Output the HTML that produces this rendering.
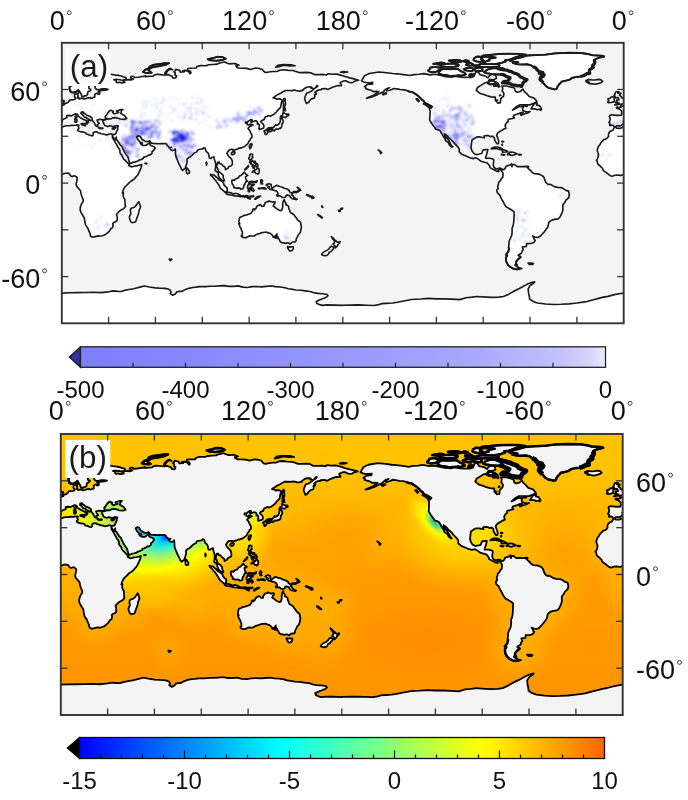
<!DOCTYPE html>
<html><head><meta charset="utf-8"><style>
html,body{margin:0;padding:0;background:#fff;width:688px;height:800px;overflow:hidden}
svg text{font-family:"Liberation Sans",sans-serif;fill:#111;will-change:transform}
</style></head><body>
<svg width="688" height="800" viewBox="0 0 688 800" style="display:block">
<defs><linearGradient id="gbase" gradientUnits="userSpaceOnUse" x1="0" y1="0" x2="0" y2="180"><stop offset="0.000" stop-color="#ffc400"/><stop offset="0.083" stop-color="#ffc400"/><stop offset="0.167" stop-color="#ffc000"/><stop offset="0.250" stop-color="#ffb600"/><stop offset="0.333" stop-color="#ffae00"/><stop offset="0.417" stop-color="#ffa200"/><stop offset="0.500" stop-color="#ff9c00"/><stop offset="0.583" stop-color="#ff9a00"/><stop offset="0.667" stop-color="#ff9b00"/><stop offset="0.750" stop-color="#ff9800"/><stop offset="0.833" stop-color="#ff9600"/><stop offset="1.000" stop-color="#ff9400"/></linearGradient>
<radialGradient id="gsp" gradientUnits="userSpaceOnUse" cx="0" cy="0" r="1" gradientTransform="translate(235.00,132.00) rotate(0) scale(75.00,32.00)"><stop offset="0" stop-color="#ff8c00" stop-opacity="1"/><stop offset="0.5" stop-color="#ff9000" stop-opacity="0.7"/><stop offset="1" stop-color="#ff9400" stop-opacity="0"/></radialGradient>
<radialGradient id="gsa" gradientUnits="userSpaceOnUse" cx="0" cy="0" r="1" gradientTransform="translate(340.00,135.00) rotate(0) scale(40.00,22.00)"><stop offset="0" stop-color="#ff9400" stop-opacity="0.6"/><stop offset="1" stop-color="#ff9800" stop-opacity="0"/></radialGradient>
<radialGradient id="gcp" gradientUnits="userSpaceOnUse" cx="0" cy="0" r="1" gradientTransform="translate(186.00,70.00) rotate(0) scale(36.00,26.00)"><stop offset="0" stop-color="#ff9e00" stop-opacity="0.9"/><stop offset="0.6" stop-color="#ffa200" stop-opacity="0.55"/><stop offset="1" stop-color="#ffa600" stop-opacity="0"/></radialGradient>
<filter id="fglow" x="-10%" y="-10%" width="120%" height="120%"><feGaussianBlur stdDeviation="6"/></filter>
<radialGradient id="ggg1" gradientUnits="userSpaceOnUse" cx="0" cy="0" r="1" gradientTransform="translate(2.00,96.00) rotate(0) scale(18.00,24.00)"><stop offset="0" stop-color="#ffb400" stop-opacity="0.8"/><stop offset="0.6" stop-color="#ffb000" stop-opacity="0.5"/><stop offset="1" stop-color="#ffa800" stop-opacity="0"/></radialGradient>
<radialGradient id="ggg2" gradientUnits="userSpaceOnUse" cx="0" cy="0" r="1" gradientTransform="translate(362.00,96.00) rotate(0) scale(18.00,24.00)"><stop offset="0" stop-color="#ffb400" stop-opacity="0.8"/><stop offset="0.6" stop-color="#ffb000" stop-opacity="0.5"/><stop offset="1" stop-color="#ffa800" stop-opacity="0"/></radialGradient>
<radialGradient id="gam" gradientUnits="userSpaceOnUse" cx="0" cy="0" r="1" gradientTransform="translate(260.00,63.00) rotate(0) scale(60.00,38.00)"><stop offset="0" stop-color="#ffe400" stop-opacity="1"/><stop offset="0.25" stop-color="#ffdc00" stop-opacity="1"/><stop offset="0.5" stop-color="#ffc600" stop-opacity="0.95"/><stop offset="0.65" stop-color="#ffbc00" stop-opacity="0.8"/><stop offset="1" stop-color="#ffb000" stop-opacity="0"/></radialGradient>
<radialGradient id="gca" gradientUnits="userSpaceOnUse" cx="0" cy="0" r="1" gradientTransform="translate(239.70,56.70) rotate(47) scale(27.00,12.50)"><stop offset="0" stop-color="#20c0b0" stop-opacity="1"/><stop offset="0.1" stop-color="#40d098" stop-opacity="1"/><stop offset="0.2" stop-color="#90e860" stop-opacity="1"/><stop offset="0.3" stop-color="#e0f820" stop-opacity="1"/><stop offset="0.4" stop-color="#fff800" stop-opacity="1"/><stop offset="0.55" stop-color="#ffe400" stop-opacity="1"/><stop offset="0.75" stop-color="#ffcc00" stop-opacity="0.8"/><stop offset="1" stop-color="#ffbc00" stop-opacity="0"/></radialGradient>
<radialGradient id="gsi" gradientUnits="userSpaceOnUse" cx="0" cy="0" r="1" gradientTransform="translate(86.00,107.00) rotate(0) scale(32.00,20.00)"><stop offset="0" stop-color="#ffb800" stop-opacity="0.85"/><stop offset="0.6" stop-color="#ffb000" stop-opacity="0.5"/><stop offset="1" stop-color="#ffa800" stop-opacity="0"/></radialGradient>
<radialGradient id="gio" gradientUnits="userSpaceOnUse" cx="0" cy="0" r="1" gradientTransform="translate(68.00,65.80) rotate(-18) scale(74.00,44.00)"><stop offset="0" stop-color="#0030ea" stop-opacity="1"/><stop offset="0.025" stop-color="#0060ff" stop-opacity="1"/><stop offset="0.055" stop-color="#00a8ff" stop-opacity="1"/><stop offset="0.09" stop-color="#00dcf6" stop-opacity="1"/><stop offset="0.15" stop-color="#38eec8" stop-opacity="1"/><stop offset="0.24" stop-color="#88f488" stop-opacity="1"/><stop offset="0.34" stop-color="#ccf834" stop-opacity="1"/><stop offset="0.44" stop-color="#ffff00" stop-opacity="1"/><stop offset="0.54" stop-color="#ffe800" stop-opacity="1"/><stop offset="0.66" stop-color="#ffd200" stop-opacity="1"/><stop offset="0.8" stop-color="#ffc000" stop-opacity="0.75"/><stop offset="1" stop-color="#ffb000" stop-opacity="0"/></radialGradient>
<radialGradient id="gbb" gradientUnits="userSpaceOnUse" cx="0" cy="0" r="1" gradientTransform="translate(89.00,69.00) rotate(0) scale(9.00,6.00)"><stop offset="0" stop-color="#88f080" stop-opacity="0.9"/><stop offset="0.5" stop-color="#a8f060" stop-opacity="0.6"/><stop offset="1" stop-color="#c8f040" stop-opacity="0"/></radialGradient>
<radialGradient id="gea" gradientUnits="userSpaceOnUse" cx="0" cy="0" r="1" gradientTransform="translate(117.00,60.00) rotate(0) scale(20.00,26.00)"><stop offset="0" stop-color="#ffe400" stop-opacity="1"/><stop offset="0.4" stop-color="#ffdc00" stop-opacity="1"/><stop offset="0.7" stop-color="#ffcc00" stop-opacity="0.8"/><stop offset="1" stop-color="#ffbc00" stop-opacity="0"/></radialGradient>
<radialGradient id="gsj" gradientUnits="userSpaceOnUse" cx="0" cy="0" r="1" gradientTransform="translate(134.00,50.00) rotate(0) scale(9.00,8.00)"><stop offset="0" stop-color="#ffcc00" stop-opacity="0.85"/><stop offset="0.6" stop-color="#ffc800" stop-opacity="0.6"/><stop offset="1" stop-color="#ffc000" stop-opacity="0"/></radialGradient>
<radialGradient id="gwi" gradientUnits="userSpaceOnUse" cx="0" cy="0" r="1" gradientTransform="translate(60.00,102.00) rotate(0) scale(26.00,14.00)"><stop offset="0" stop-color="#ffc800" stop-opacity="0.85"/><stop offset="0.6" stop-color="#ffc000" stop-opacity="0.5"/><stop offset="1" stop-color="#ffb800" stop-opacity="0"/></radialGradient>
<radialGradient id="gch" gradientUnits="userSpaceOnUse" cx="0" cy="0" r="1" gradientTransform="translate(120.00,53.00) rotate(0) scale(16.00,11.00)"><stop offset="0" stop-color="#d0f040" stop-opacity="1"/><stop offset="0.35" stop-color="#f0f400" stop-opacity="0.85"/><stop offset="0.7" stop-color="#ffd800" stop-opacity="0.5"/><stop offset="1" stop-color="#ffc800" stop-opacity="0"/></radialGradient>
<linearGradient id="gmed" gradientUnits="userSpaceOnUse" x1="-6" y1="0" x2="42" y2="0"><stop offset="0" stop-color="#ffdc00"/><stop offset="0.3" stop-color="#f4f200"/><stop offset="0.6" stop-color="#d4f230"/><stop offset="0.85" stop-color="#b0ea50"/><stop offset="1" stop-color="#98e460"/></linearGradient>
<filter id="fblur" x="-5%" y="-5%" width="110%" height="110%"><feGaussianBlur stdDeviation="0.6"/></filter><path id="land2" d="M192,24.4 194,21.1 197,19.7 203.2,18.7 208,19.2 212,19.7 215,19.9 219,20.4 223,21 225.5,20.4 229,20.2 232,19.8 236,20.6 239,20.2 243,21 246,21.7 250,22 252,21.4 256,22 259,22.2 262,22.2 264,21.6 265.5,18.2 267,19 268,20.5 271,21.2 273,22.4 274,21.2 275.5,20.2 278,20.8 278.5,22.8 276.5,23.8 274,23.5 273,25.2 270.5,26 269,27 266.5,28.5 265.5,30.5 266.5,31.3 268,32.5 270,33 272.5,34 275,34.7 277.7,34.9 277.8,37 279.5,38.7 281,38.4 281.2,36 283,34.2 283.3,32.5 282.2,31 282.5,29.2 282,27.7 285,27.7 288,28.5 290,29 290.5,31 291.8,31.7 293.8,31.2 295.4,29.7 296.5,31.5 298.2,33 299.5,34.5 302.5,35.5 304,37 304.3,37.8 302.8,38.6 300,39.8 296,39.8 293.5,39.8 291.5,40.8 289.5,42.5 288.8,43.2 290.5,42.4 293,40.9 295.7,41.1 295.2,42.2 295.4,43.5 297,44.2 298.7,44.4 300,44.1 298.5,45 296.5,45.5 294.2,46.5 293.8,45.5 295.5,44.7 294,44.8 292.8,45.4 291,46 289.7,46.4 289.2,47.4 290,48.2 288.5,48.6 286.3,49.1 285.9,49.5 286,50.5 285,51.2 284.2,52.5 284,53.1 284.5,54.8 283.3,55.3 282,56.2 280.8,56.8 279.3,57.8 278.6,59.3 279.4,61.5 280,63.5 279.6,64.8 278.8,64.8 278.2,63.9 277.3,62.4 277.2,61 276,59.9 274.5,60.3 273.5,59.6 272,59.5 270.5,59.8 270.8,60.9 269.5,60.8 268,60.4 266,60.4 264.5,61.2 262.8,62.4 262.5,64.2 262.2,67.5 262.7,69.1 263.8,70.8 265.5,71.8 267.5,71.4 269,71 269.6,69.5 270,68.7 273,68.5 272.5,70.4 272.2,71.7 271.7,72.8 271.5,74.1 274,74.1 276,74.5 276.8,75.2 276.4,78.3 276.8,79.8 278.3,81 280.5,80.4 281.8,80.8 282.7,81.5 283.2,81.4 284.2,80.4 284.5,79.4 285.7,78.9 287,78.5 288,77.7 288.8,78.4 288.4,79.5 288.1,78.6 289.8,78 290.5,78.5 291.8,79.5 294,79.4 295.8,79.5 297.5,79.3 298.2,79.8 299,80.9 300,81.6 301.2,83 302.7,84 305,84.1 306.5,84.6 308,85.4 308.8,86.2 309.5,88 310,89.5 311.5,90.9 313,90.8 315.5,92.3 317.5,92.8 320,92.9 321.5,93.7 323,94.7 324.7,95.2 325.2,97.5 324.8,99.3 323,101 322,102.8 321,104 321,107.5 320.3,109.5 319.2,111.8 318,113 315.5,113.3 313.5,114 312,115.3 311.4,118.2 310.2,119.8 309,121.5 307.5,123 306.5,124.2 305,124.9 303.2,124.6 301.6,124 302.5,125.2 302.7,126.3 303.3,126.7 302.4,128.2 300.5,128.8 297.8,128.9 297.7,130.6 295,131 295.7,132.6 295,133.5 294.5,135 292.5,136.2 294,137.5 292.2,139 291.1,140.5 291,141.7 291.6,142.4 290.5,142.6 291.5,143.3 292.5,144.3 294.8,144.8 293.5,145.1 291.5,145.4 289.5,145 287.5,144 285.8,142.5 284.8,140.5 284.5,138 285.4,136.5 284.5,136 286,134.2 286.6,132 286.2,131.5 286.5,129.5 286.5,127.5 287.4,125.5 288.3,123.5 288.5,121.5 288.5,119 289.1,117.5 289.5,115.5 289.6,113.5 289.8,110.5 289.7,108.4 288.5,107.5 286.8,106.5 284.8,105.3 283.7,103.8 282.8,102 281.8,100.3 280.6,97.7 279,96.2 278.7,94.5 279.7,93.4 279.2,92.2 279.7,91 280,89.4 281.1,88.5 281.4,87.5 282.5,86.2 282.7,83.7 282.1,82.8 281.5,81.8 280.5,81.1 279.6,81.8 280,82.5 278.8,82.5 277.5,81.8 276.3,81.2 274.3,80.1 274.1,78.9 272.6,77.1 270.8,76.6 268.6,76 267,74.8 265.4,73.8 263.5,74.3 261.5,73.8 259,72.7 256.5,71.7 254.6,70 254.7,68.4 254.2,67.3 252.7,65.7 251.4,64.5 250.6,63.4 249.4,62.2 248.2,61.2 247.2,59.9 245.3,58.4 245.4,59.8 246.8,61.2 247.9,62.7 249,64.7 249.6,65.9 250.5,66.8 249.8,66.9 248.3,65.5 247.8,64.2 246.5,63.3 245.6,62.5 245.8,61.8 244.7,60.5 243.9,59.1 242.9,57.5 242.5,56.6 241.5,56 240.5,55.6 239.4,55.4 239.1,54.5 238.1,53.4 237.5,52.4 237,51.8 236.2,50.5 235.7,49.6 235.8,48 235.9,46 236,43.8 235.3,41.6 236.5,41.8 237.2,41 235.5,40 234,39.2 232.5,38.5 232,37.5 230.5,36.3 229.5,35.2 228.2,34 226.5,32.8 224.5,31.5 223,31.4 221.5,30.8 219.5,30.2 217,30 214.5,29.6 212.5,29.3 211.5,30 210,30.4 208.3,30.8 208.5,29.3 210,28.8 207.7,29.7 206.5,30.7 206,31.5 204,32.3 201.8,33.5 199.5,34.4 197.5,35.1 195.2,35.6 196.5,34.9 198.5,34.1 200,33.5 201.8,32.3 203,31.3 201.5,31.2 199.5,31.3 198,30.4 196.2,29.9 194.7,29.4 194.8,28.5 193.9,28.1 195.1,27.3 195.6,26.8 197.7,26.5 199,26.5 199.2,25.4 197.2,25.6 195,25.5 193.5,25.2 192,24.4Z M287,11.6 290,10.3 294,9.4 298,8.2 304,7.8 310,7.6 316,6.8 325,6.4 333,6.6 338,7.4 340,8 346,8.3 347.5,8.8 343.5,9.8 341,11 341.5,12.5 341,13.6 340,14.7 340.5,15.8 338.2,17.2 338,18.5 338.2,19.6 336.5,19.8 334.5,21 332.3,21.6 329,22 327,22.5 325.4,23.6 322.7,24.4 320.4,24.8 319.5,25.8 318.5,26.8 317.6,28.2 317,29.6 315.5,29.9 314,29.4 312.2,29.1 310.7,28.2 309.5,27 308.5,25.8 307.5,24.5 306.4,23.4 306.7,22.2 308.5,21.4 309,20.5 307.5,20.3 306,19.5 308.2,19.1 305.8,18.5 304.5,17.3 303.8,16.2 302,15.4 300.5,14.4 298,13.8 295,13.9 292,13.8 289,13 292.5,12.5 288.5,12 287,11.6Z M295.2,26.8 294.5,28 293.2,27.4 292,27.7 290.5,27.1 288.7,27.1 287.5,26.4 286,25.8 284,25.7 282.3,25.7 283.5,24.7 285.5,24.6 286.5,23.6 287.2,22.5 286,22 285,21.6 283.5,20.8 283,20.4 281,20.2 279.5,20.4 278,20.2 275.2,20 273.5,19.7 272,19.5 270.5,18.8 271.5,18.2 272,17.6 274,16.7 276,16.4 278,16.2 280,16.4 282,17.2 283.5,17.4 285,17.5 286.5,18.2 288,18.5 289.2,19.2 290.5,19.6 291.7,20 292.5,20.4 293.5,21.7 295.2,22.4 296.5,23.2 298,23.6 297.2,24.4 296.3,25 295.5,25.7 295.2,26.8Z M279,16.8 282,16.2 283.5,16.7 281.5,17.4 279,16.8Z M297.5,7.7 295.5,8.1 294,8.3 291.5,9 290,9.6 288.5,10.2 287,10.7 285,11 284,11.2 284.5,12 283,12.4 281.5,13 280,13.2 278.5,13.5 277,13.7 275,13.6 273,13.7 271,13.5 270,12.8 271.5,12.2 272,11.8 274,11.4 273.5,10.7 275,10 278,9.5 276,9 272,9 269,8.8 270,8.2 274,7.8 280,7.2 286,7 293,7.1 297.5,7.7Z M270.5,11.5 268.5,12.2 266,12 263.8,11.2 264,10 266,8.8 268.5,9 269.5,9.8 268.5,10.5 270.5,11.5Z M279.5,15.4 277,15.5 275,15.5 272,15.5 268.5,15.4 267.5,14.8 267,14.2 268,13.7 270,13.5 272,13.7 275,13.6 277.5,13.8 279.5,13.8 280.5,14.7 279.5,15.4Z M264,15.2 267,15.4 266.8,14.5 264.5,14.4 264,15.2Z M241.5,18.8 242.5,18 242.8,17.3 244.5,16.9 246.5,16.8 249,17 252,16.7 254,17 255,17.7 255.5,18.2 257,18.8 258,19.2 258.8,20.2 257.5,20.7 256,21.1 254.5,20.8 253,21 251,21.2 249,21.4 247,20.9 245.5,20.7 244,20.5 242.8,20.2 241.4,19.5 241.5,18.8Z M234.8,18.1 235,17.4 235.8,16.8 236.2,15.9 238,15.6 239.5,15.6 241,15.8 242.5,16 244,16.4 244.5,16.7 243,17.1 241.5,17.5 240.5,18.3 239.6,18.6 238.5,18.7 237,18.9 234.8,18.1Z M238,13.5 243,12.6 245,13 242,14 238,13.5Z M243.5,15.1 242.2,14.5 243.5,13.8 246,13.5 249.5,13.3 252,13.4 254,13.9 254.3,14.5 253.7,15 251.5,15.3 249,15.5 246,15.4 243.5,15.1Z M263,18.2 261,18.1 258.5,17.6 257.5,17 258.5,16.5 259.5,16.1 261.5,16.1 263,16.2 263.5,17.2 263,18.2Z M269.5,18 267,18.1 265,18 264.7,17.2 265,16.4 267,16 268.5,16 269.5,16.5 269.5,17 269.5,18Z M263,14.5 261,14.7 259,14.2 259.5,13.5 262,13 263.5,13.8 263,14.5Z M256,12.2 253,12.5 250,12.2 248,11.4 251,11.1 254,11 256,11.6Z M261,12.2 259,12.4 257,11.8 258.5,11.2 260.5,11.5Z M279.5,26.2 278,26.6 276,26.4 274.5,26.7 273,26 273.5,25.2 274,24.5 276,24.1 277,24.8 278,25.2 279.5,26.2Z M277,27.8 279,27.5 280,27.1 278,27.1Z M264,21 262.5,21.4 261,21 261.5,20.1 263,20.1 264,20.3 264,21Z M279.8,28.4 280.5,28.1 280.1,27.7Z M280.5,34 281.2,33.7 280.8,33.4Z M278,37.1 279.2,36.9 278.5,36.7Z M300.6,42.4 301.6,40.8 302.6,39.3 304.5,38.4 304.3,40 306.2,40.5 307,41.7 307.4,42.5 306.8,43.3 306,42.6 304.5,43 303.5,42.4 300.6,42.4Z M295.5,40.1 298.2,40.6 298,40.9 295.8,40.4Z M231.7,39.2 233,39.8 234.5,41 236.6,41.7 235.5,40.5 234,39.7 231.7,39.2Z M228,36 227,36 228.5,37.8 229,37.2 228,36Z M207.5,32 205.5,33 206,33.4 208,32.5Z M275.1,68.1 276,67.3 277.5,66.9 279.5,66.9 281,67.5 282.5,68.3 284,68.9 285.8,69.8 285,70.1 282.3,70.2 282.5,69.4 281.5,68.6 279.5,68.2 278.2,67.8 276.5,67.9 275.1,68.1Z M285.5,71.6 287.2,70.1 289.2,70.2 290.8,70.9 291.7,71.4 290,71.8 288.5,72.3 287.2,71.8 285.6,71.8 285.5,71.6Z M281.6,71.6 283.8,71.9 283.2,72.1 281.7,71.8Z M292.8,71.5 294.4,71.7 294.1,72 292.8,72Z M335.7,24.4 337.5,23.6 340,23.9 342,23.8 344,23.5 345.5,23.8 346.5,24.8 345.5,25.6 343.5,26.2 341.5,26.6 339,26.2 337.3,26.1 338,25.5 336,25.1 337.6,24.8 335.7,24.4Z M11,11.4 11.5,10.2 16,10 18,10.2 21,9.8 27,9.7 27.2,10.7 22,11.8 19,12.5 16.5,13.4 14,12.8 13.5,12 11,11.4Z M52,18.7 53.5,17.3 55.5,16.4 56.5,15 59,14.1 62,13.7 66,13.1 68.7,13.1 66.5,14.1 62,15 58.5,15.6 56.2,16.7 55.5,17.7 57.5,19.2 55.5,19.4 53.5,19.2 52,18.7Z M93.5,10.5 97,9.8 99.5,9 103,9.2 105,10.2 103,11 99,11.5 95,11.2 93.5,10.5Z M137,15.7 140,15.1 142.5,14.4 146,14.8 149.5,14.7 147,14.1 142,14 138.5,14.4 137,15.7Z M178.5,18.9 180.5,18.4 183.2,18.7 181,19.1 178.5,18.9Z M-5.7,39.9 -4,39.7 -2.5,39.4 -1,39.3 0.5,39.2 1.4,38.8 0.8,38.4 1.7,37.5 1.3,37.1 0.3,37 0.1,36.4 -0.5,35.6 -1.2,35.4 -1.6,34.5 -2.2,34 -2.8,33.6 -1.8,32.5 -2.2,32.3 -3.8,32.3 -3.1,31.4 -5,31.4 -5.5,32.5 -5.7,33.5 -6.2,33.8 -5.5,34.5 -5.1,35 -4.9,35.3 -3.5,35.1 -3.2,35.8 -3,36.6 -4.6,36.7 -4.1,37.4 -4.5,37.9 -5.2,38.2 -4,38.4 -3.1,38.5 -3.3,38.8 -4.5,38.8 -5.7,39.9Z M354.3,39.9 356,39.7 357.5,39.4 359,39.3 360.5,39.2 361.4,38.8 360.8,38.4 361.7,37.5 361.3,37.1 360.3,37 360.1,36.4 359.5,35.6 358.8,35.4 358.4,34.5 357.8,34 357.2,33.6 358.2,32.5 357.8,32.3 356.2,32.3 356.9,31.4 355,31.4 354.5,32.5 354.3,33.5 353.8,33.8 354.5,34.5 354.9,35 355.1,35.3 356.5,35.1 356.8,35.8 357,36.6 355.4,36.7 355.9,37.4 355.5,37.9 354.8,38.2 356,38.4 356.9,38.5 356.7,38.8 355.5,38.8 354.3,39.9Z M354,37.8 353.9,36.6 353.8,36 354.4,35.4 353.8,34.8 352.7,34.7 351.7,34.9 351.4,35.7 350,35.8 350,36.7 350.5,37.4 349.7,38.1 350.5,38.5 351.7,38.3 353.6,37.9 354,37.8Z M-5.6,54 -4.4,53.3 -2.1,53.3 -0.7,52.4 0.2,51.2 -0.3,50.5 0.9,49 3.2,48.1 3.1,46.9 4.5,46.6 6,46.9 7.5,46.2 8.8,45.6 10.2,46.1 10.6,47.1 12.3,48.3 14,49.2 15.6,49.9 16,51 15.7,51.8 16.1,52 16.6,51.6 17.1,51 16.5,50.3 17.2,49.5 18.5,49.9 17.8,49.2 16,48.6 15.9,48 14.5,47.7 13.6,46.5 12.3,45.5 12.4,44.6 13.7,44.3 13.6,45 14.1,45.1 15.2,45.7 16,46.5 17.5,47 18.5,47.6 19.4,48.2 19.4,49.6 20,50.3 20.7,51.1 21.2,52.1 21.7,53.2 22.5,53.6 23.1,53.5 22.8,52.5 23.5,52 24,51.8 22.9,50.6 22.6,49.5 23.8,49.3 24.5,49.1 26,49.2 26.3,49.5 27.5,49 28.5,48.5 28,48.1 27.8,47.2 28.6,46.3 29.6,44.8 30.7,43.6 31.6,43.3 33,44 32.5,44.6 33.5,45.5 34.5,45.4 35.5,45 36.5,44.7 35,43.8 37.5,42.9 39.2,42.8 38.2,43.7 37.8,45.3 39,46 40.3,46.8 41.6,48.5 40,49.1 37.5,48.9 35.5,48.2 34,48 32.5,48.2 31.3,48.9 29.2,48.8 29,49.1 27.5,49.6 26.3,49.9 26.2,50.6 26.8,51.5 27.2,52.5 27.5,53 28.2,53.3 29.5,53.8 30.6,53.2 31.8,53.5 33,53.9 34.5,53.2 35.8,53.2 36.2,53.5 35.8,54.2 35.9,55 35.5,56.2 35,57.2 34.5,58.5 33,58.9 32.3,58.8 32.5,60 32.6,60.1 33.5,61.4 34.3,62.2 34.5,61.5 34.9,60.5 34.8,61.9 35.5,62.5 36.5,64 37.5,65.7 38.5,66.5 39.1,68 40,69.8 41.2,71.8 42.5,73.5 42.8,75 43.3,76.5 43.5,77.3 44.5,77.3 45.5,76.7 47,76.4 48.5,76 49.5,75.3 51,74.8 52.2,74.3 52.3,73.5 53.5,73.2 55,72.5 55.5,72 56.5,72 57.8,71 57.8,69.8 58.5,69.5 59.5,68.2 59.8,67.5 58.8,66.5 57.3,66.1 56.4,65.2 56.3,63.8 55.9,64.4 55,65 54.3,65.7 53,65.9 51.6,65.8 51.4,65.4 51.6,64.7 51.3,63.9 50.9,64.6 50.8,65.2 50.2,64.3 50.1,63.5 49.3,62.8 48.8,62.2 48.5,61.5 47.9,60.5 48.3,60.1 49,59.7 50.2,60 50.6,60.8 51.5,62.1 52.7,62.7 53.7,63.3 55,63.4 56.3,62.9 57.1,64 57.5,64.4 59,64.6 60.6,64.7 61.6,64.8 63.5,64.7 65,64.7 66.5,64.6 67.3,65.2 67.5,66.1 68.5,66.5 68.8,67.5 69.5,67.6 70.3,67 69.2,67.7 69.7,68.5 70.8,69.2 72.1,68.7 72.6,68.1 72.8,69.5 72.8,71 73,72.5 73.5,74 74.1,75.4 74.8,77.2 75.5,78.5 76.2,80 76.6,81 77.5,81.9 78.2,81.1 79,80.7 79.3,79.7 79.8,78.5 80.2,76.8 80.3,74.5 81.2,73.7 82.3,73.2 83.5,72.2 84.8,70.8 86.5,70 87,68.9 88,68.4 89,68.3 90.3,68.1 91,67.4 91.8,67.6 92.2,68.8 92.5,69.8 93.5,70.5 94.2,71.8 94.4,73.5 94.8,74.1 95.5,74.2 96.5,73.4 97.5,73.2 97.7,74.5 98,75.5 98.6,77.5 98.6,79.5 98.3,81.5 98.3,82.1 99,82.4 100.2,83.7 100.3,85 101,86.5 101.4,87.2 102.5,88.1 103.5,88.7 104.2,88.5 103.8,87.5 103.4,86.5 103.4,85.2 102.2,83.8 101,83.1 100.4,82.5 99.9,80.8 99.2,79.7 99.5,78 100,76.6 100.9,76.6 100.9,77.4 102.3,77.8 102.9,78.4 103.4,79.2 104.4,79.6 104.8,80.4 104.8,81.4 105.3,81.2 106.5,80.5 106.9,79.6 108.5,78.9 109.2,78.2 109.3,77 109.1,75.4 108.3,74.1 107.5,73.4 106.5,72.2 105.8,71 106.5,69.7 107.5,68.6 108.5,68.4 109.7,68.5 109.8,69.5 110.4,69.7 110.5,68.8 111.5,68.4 112.8,68.1 113.6,67.5 114.3,67.6 115.5,67.2 116.6,66.8 117.5,66.2 118.5,65.4 119.4,64.5 119.7,63.4 120.5,62.5 121,61.5 121.9,60.6 121.8,59.1 121.2,58.2 120.9,57.4 120.3,56.1 119.3,55 120.1,54 120.7,53.6 121.6,53.2 122.5,52.7 121.5,52.5 120.8,52.2 119.7,52.8 118.9,52.6 118.8,51.9 117.7,51.5 117.7,50.8 118.9,50.9 119.8,50.1 121,49.3 121.8,49.2 121.9,49.8 121.2,50.5 121.3,51.2 122.3,50.6 123.5,50.2 124.3,50.1 125.2,50.5 125.4,51.4 125.3,52.3 126.3,52.2 126.6,53 126.5,54 126.3,55 126.5,55.6 127.5,55.3 128.5,55 129.3,54.7 129.5,53.6 129.4,52.9 128.6,51.8 127.5,50.7 127.9,50 129.7,49.2 129.8,48.5 130.6,47.5 131.3,47.3 132.3,46.7 133.5,47.1 135.3,46.2 137.3,44.6 138.6,42.9 140.2,41.4 140.5,39.6 140.7,38.2 141.3,37.2 141,36.6 139.5,35.9 137.5,36.2 137.2,35.7 135.3,35.3 137.1,34.1 138.5,33.1 140.5,32.2 141.8,31.4 143.3,30.6 145.5,30.6 147.5,30.7 149,30.3 151.2,30.9 152.5,31 154.5,30.6 154.2,30.2 156.8,28.5 159.3,28.2 160.2,28.6 159.8,29.2 161.8,29.4 163.5,28.3 164,27.5 163.2,27.6 162.9,28.4 160.5,30.6 158.5,31.8 157,32.2 156.6,33 155.9,34.5 155.6,36 156.1,37.3 156.7,39 158.2,38.2 158.6,37.2 160,36 161.8,35.4 162.1,34.2 161.8,33.3 162.9,33.1 163.1,32.4 162.1,31.8 163.7,30.6 164.9,30.1 166.3,30.1 166.5,29.5 169,29.4 170.5,30 172.2,29.1 173.8,28.4 175,28 176.8,27.4 179,27.6 179.2,27 178.3,25.8 178.5,25.4 179.8,24.8 180.5,24.5 182.2,24.4 183.5,25.2 185,25.6 186.5,25.4 187.5,24.7 188.5,24.4 190.2,24 188.5,23.5 186.5,23 184.5,22.5 182,21.8 180,21.1 178,20.6 176,20.1 173.5,20.2 170.5,19.9 169.5,20.7 167.5,20.3 165,20.4 162,20.4 160.8,19.9 159.5,19.2 157,19 154,19.1 152,19.1 150,18.4 148,17.8 145,17.7 142,17.3 139.5,17.6 138,18.4 136,18.4 133.5,18.6 131,19.1 130,18.8 129,17.8 128.5,17.1 126.5,16.5 124,16.2 121,17.1 118.5,16.4 115,16.3 113,16.2 112,15.5 111.5,14.8 113.5,14.4 111,13.3 107.5,13.5 106,13.1 104.4,12.3 101,13 99.5,13.7 97,13.9 94,14.1 92.5,14.7 89,14.6 86.5,15.3 86.2,16.2 82.5,16.3 80.8,16.5 80.5,17.8 82.2,18.1 82.8,19.2 82.2,19.8 81,18.2 78.8,17.7 77.5,17.9 78.5,18.6 76,18.8 75.5,17.7 73,17 72.9,17.7 71.8,18.6 72.7,19.3 72.5,20.5 73.5,21.3 73.2,22.3 72.2,22.7 71,22.4 70.7,21.4 69,20.8 68,20.4 67.2,20.6 66.8,19.5 67.3,18.7 68.5,17.3 69.5,16.9 71,17.2 69.5,16.4 68.5,16.7 67,18 66,19.5 66.5,20.7 64.5,20.6 61,20.2 59.3,20.7 58.5,21.4 56.5,21.5 54.5,21.7 53.5,21.1 53.8,21.7 52.5,21.5 49,22.1 46.8,22.3 45.8,21.5 44.3,21.7 44.1,22.8 45.9,23.3 44.1,23.9 42.3,23.6 40.9,23.8 39.5,24.6 40.4,25.4 37.9,25.7 36.9,25.3 35.6,25.6 34.8,25.1 34.8,24.1 33.3,23.7 34.5,23.4 37.2,23.7 38.6,24 41,23.6 41.2,22.8 40.9,22.2 39.4,21.9 38,21.3 36,20.9 33.5,20.6 31.5,20.2 30.6,20.2 29,20 27.5,19.1 25.8,18.9 24,19.1 22,19.4 20,20 18,20.2 16.5,21.1 15.5,21.6 14.5,22.2 13.4,23.1 12.8,24 12.2,24.8 11.2,25.5 10.1,26.2 8.7,26.6 7.2,27.1 5.8,27.6 5,28.2 5,29 5,30 5.5,30.7 5.6,31.4 6.8,31.9 8,31.9 9.4,31.2 10.3,30.8 10.6,30.2 11,31 11.2,31.5 11.8,31.9 12.3,32.6 12.6,33.4 12.9,34.4 14.2,34.6 14.4,34 15.8,33.9 16.5,33.2 16.6,32.2 16.8,31.4 17.8,31 18.5,30.5 18.6,29.9 17.4,29.4 17.3,28.4 17.6,27.5 18.7,26.7 20.2,26.2 21.2,25.6 21.4,24.8 22.3,24.2 23.8,24.2 25.3,24.7 25.4,25.2 24.5,25.6 23,26.2 21.5,26.8 21.2,27.7 21.4,28.7 21.5,29.3 22.8,30.1 24.4,29.9 26,29.6 27.8,29.5 29.6,29.9 28,30.4 26.3,30.5 24,30.7 23.4,31 23.5,31.7 24.4,31.8 24.3,32.7 23.8,33 23,32.8 22.5,32.3 21.6,32.7 21.05,33.4 21.1,34.2 21.2,34.8 20.1,35.1 19.6,35.5 18.6,35.6 18.4,35.2 17,35.3 15.5,35.8 14.2,36.1 13.2,35.7 12.4,35.6 11.1,36 10.8,35.7 10.9,35.3 9.9,35.2 10.4,34.5 10.5,33.8 10.2,33.4 10.5,32.5 10.6,32.25 9.6,32.8 8.6,32.9 8.2,33.3 8.1,34.4 8.6,35.1 8.9,35.8 8.7,36.1 8,36.4 7,36.6 6,36.6 5,36.8 4.7,37.4 4.2,38 3.5,38.5 2.5,38.9 1.6,39.1 1.6,39.8 0.3,40.3 -0.2,40.7 -1.2,40.6 -1.3,40.3 -1.9,40.3 -1.6,41.2 -2.8,41.5 -4.3,41.3 -4.7,41.6 -4.3,42.1 -3.4,42.3 -2.5,42.7 -2,43.2 -1.2,43.8 -1.3,44.6 -1.2,45.4 -1.5,46.5 -3,46.6 -4.5,46.6 -6,46.4 -7.7,46.2 -8.9,46.7 -9.2,47.2 -8.8,48 -8.7,49.2 -9,50.4 -9.5,51.2 -8.8,51.6 -8.8,52.1 -8.9,53 -7.5,52.8 -6.4,53.2 -6.2,53.6 -5.6,54Z M354.4,54 355.6,53.3 357.9,53.3 359.3,52.4 360.2,51.2 359.7,50.5 360.9,49 363.2,48.1 363.1,46.9 364.5,46.6 366,46.9 367.5,46.2 368.8,45.6 370.2,46.1 370.6,47.1 372.3,48.3 374,49.2 375.6,49.9 376,51 375.7,51.8 376.1,52 376.6,51.6 377.1,51 376.5,50.3 377.2,49.5 378.5,49.9 377.8,49.2 376,48.6 375.9,48 374.5,47.7 373.6,46.5 372.3,45.5 372.4,44.6 373.7,44.3 373.6,45 374.1,45.1 375.2,45.7 376,46.5 377.5,47 378.5,47.6 379.4,48.2 379.4,49.6 380,50.3 380.7,51.1 381.2,52.1 381.7,53.2 382.5,53.6 383.1,53.5 382.8,52.5 383.5,52 384,51.8 382.9,50.6 382.6,49.5 383.8,49.3 384.5,49.1 386,49.2 386.3,49.5 387.5,49 388.5,48.5 388,48.1 387.8,47.2 388.6,46.3 389.6,44.8 390.7,43.6 391.6,43.3 393,44 392.5,44.6 393.5,45.5 394.5,45.4 395.5,45 396.5,44.7 395,43.8 397.5,42.9 399.2,42.8 398.2,43.7 397.8,45.3 399,46 400.3,46.8 401.6,48.5 400,49.1 397.5,48.9 395.5,48.2 394,48 392.5,48.2 391.3,48.9 389.2,48.8 389,49.1 387.5,49.6 386.3,49.9 386.2,50.6 386.8,51.5 387.2,52.5 387.5,53 388.2,53.3 389.5,53.8 390.6,53.2 391.8,53.5 393,53.9 394.5,53.2 395.8,53.2 396.2,53.5 395.8,54.2 395.9,55 395.5,56.2 395,57.2 394.5,58.5 393,58.9 392.3,58.8 392.5,60 392.6,60.1 393.5,61.4 394.3,62.2 394.5,61.5 394.9,60.5 394.8,61.9 395.5,62.5 396.5,64 397.5,65.7 398.5,66.5 399.1,68 400,69.8 401.2,71.8 402.5,73.5 402.8,75 403.3,76.5 403.5,77.3 404.5,77.3 405.5,76.7 407,76.4 408.5,76 409.5,75.3 411,74.8 412.2,74.3 412.3,73.5 413.5,73.2 415,72.5 415.5,72 416.5,72 417.8,71 417.8,69.8 418.5,69.5 419.5,68.2 419.8,67.5 418.8,66.5 417.3,66.1 416.4,65.2 416.3,63.8 415.9,64.4 415,65 414.3,65.7 413,65.9 411.6,65.8 411.4,65.4 411.6,64.7 411.3,63.9 410.9,64.6 410.8,65.2 410.2,64.3 410.1,63.5 409.3,62.8 408.8,62.2 408.5,61.5 407.9,60.5 408.3,60.1 409,59.7 410.2,60 410.6,60.8 411.5,62.1 412.7,62.7 413.7,63.3 415,63.4 416.3,62.9 417.1,64 417.5,64.4 419,64.6 420.6,64.7 421.6,64.8 423.5,64.7 425,64.7 426.5,64.6 427.3,65.2 427.5,66.1 428.5,66.5 428.8,67.5 429.5,67.6 430.3,67 429.2,67.7 429.7,68.5 430.8,69.2 432.1,68.7 432.6,68.1 432.8,69.5 432.8,71 433,72.5 433.5,74 434.1,75.4 434.8,77.2 435.5,78.5 436.2,80 436.6,81 437.5,81.9 438.2,81.1 439,80.7 439.3,79.7 439.8,78.5 440.2,76.8 440.3,74.5 441.2,73.7 442.3,73.2 443.5,72.2 444.8,70.8 446.5,70 447,68.9 448,68.4 449,68.3 450.3,68.1 451,67.4 451.8,67.6 452.2,68.8 452.5,69.8 453.5,70.5 454.2,71.8 454.4,73.5 454.8,74.1 455.5,74.2 456.5,73.4 457.5,73.2 457.7,74.5 458,75.5 458.6,77.5 458.6,79.5 458.3,81.5 458.3,82.1 459,82.4 460.2,83.7 460.3,85 461,86.5 461.4,87.2 462.5,88.1 463.5,88.7 464.2,88.5 463.8,87.5 463.4,86.5 463.4,85.2 462.2,83.8 461,83.1 460.4,82.5 459.9,80.8 459.2,79.7 459.5,78 460,76.6 460.9,76.6 460.9,77.4 462.3,77.8 462.9,78.4 463.4,79.2 464.4,79.6 464.8,80.4 464.8,81.4 465.3,81.2 466.5,80.5 466.9,79.6 468.5,78.9 469.2,78.2 469.3,77 469.1,75.4 468.3,74.1 467.5,73.4 466.5,72.2 465.8,71 466.5,69.7 467.5,68.6 468.5,68.4 469.7,68.5 469.8,69.5 470.4,69.7 470.5,68.8 471.5,68.4 472.8,68.1 473.6,67.5 474.3,67.6 475.5,67.2 476.6,66.8 477.5,66.2 478.5,65.4 479.4,64.5 479.7,63.4 480.5,62.5 481,61.5 481.9,60.6 481.8,59.1 481.2,58.2 480.9,57.4 480.3,56.1 479.3,55 480.1,54 480.7,53.6 481.6,53.2 482.5,52.7 481.5,52.5 480.8,52.2 479.7,52.8 478.9,52.6 478.8,51.9 477.7,51.5 477.7,50.8 478.9,50.9 479.8,50.1 481,49.3 481.8,49.2 481.9,49.8 481.2,50.5 481.3,51.2 482.3,50.6 483.5,50.2 484.3,50.1 485.2,50.5 485.4,51.4 485.3,52.3 486.3,52.2 486.6,53 486.5,54 486.3,55 486.5,55.6 487.5,55.3 488.5,55 489.3,54.7 489.5,53.6 489.4,52.9 488.6,51.8 487.5,50.7 487.9,50 489.7,49.2 489.8,48.5 490.6,47.5 491.3,47.3 492.3,46.7 493.5,47.1 495.3,46.2 497.3,44.6 498.6,42.9 500.2,41.4 500.5,39.6 500.7,38.2 501.3,37.2 501,36.6 499.5,35.9 497.5,36.2 497.2,35.7 495.3,35.3 497.1,34.1 498.5,33.1 500.5,32.2 501.8,31.4 503.3,30.6 505.5,30.6 507.5,30.7 509,30.3 511.2,30.9 512.5,31 514.5,30.6 514.2,30.2 516.8,28.5 519.3,28.2 520.2,28.6 519.8,29.2 521.8,29.4 523.5,28.3 524,27.5 523.2,27.6 522.9,28.4 520.5,30.6 518.5,31.8 517,32.2 516.6,33 515.9,34.5 515.6,36 516.1,37.3 516.7,39 518.2,38.2 518.6,37.2 520,36 521.8,35.4 522.1,34.2 521.8,33.3 522.9,33.1 523.1,32.4 522.1,31.8 523.7,30.6 524.9,30.1 526.3,30.1 526.5,29.5 529,29.4 530.5,30 532.2,29.1 533.8,28.4 535,28 536.8,27.4 539,27.6 539.2,27 538.3,25.8 538.5,25.4 539.8,24.8 540.5,24.5 542.2,24.4 543.5,25.2 545,25.6 546.5,25.4 547.5,24.7 548.5,24.4 550.2,24 548.5,23.5 546.5,23 544.5,22.5 542,21.8 540,21.1 538,20.6 536,20.1 533.5,20.2 530.5,19.9 529.5,20.7 527.5,20.3 525,20.4 522,20.4 520.8,19.9 519.5,19.2 517,19 514,19.1 512,19.1 510,18.4 508,17.8 505,17.7 502,17.3 499.5,17.6 498,18.4 496,18.4 493.5,18.6 491,19.1 490,18.8 489,17.8 488.5,17.1 486.5,16.5 484,16.2 481,17.1 478.5,16.4 475,16.3 473,16.2 472,15.5 471.5,14.8 473.5,14.4 471,13.3 467.5,13.5 466,13.1 464.4,12.3 461,13 459.5,13.7 457,13.9 454,14.1 452.5,14.7 449,14.6 446.5,15.3 446.2,16.2 442.5,16.3 440.8,16.5 440.5,17.8 442.2,18.1 442.8,19.2 442.2,19.8 441,18.2 438.8,17.7 437.5,17.9 438.5,18.6 436,18.8 435.5,17.7 433,17 432.9,17.7 431.8,18.6 432.7,19.3 432.5,20.5 433.5,21.3 433.2,22.3 432.2,22.7 431,22.4 430.7,21.4 429,20.8 428,20.4 427.2,20.6 426.8,19.5 427.3,18.7 428.5,17.3 429.5,16.9 431,17.2 429.5,16.4 428.5,16.7 427,18 426,19.5 426.5,20.7 424.5,20.6 421,20.2 419.3,20.7 418.5,21.4 416.5,21.5 414.5,21.7 413.5,21.1 413.8,21.7 412.5,21.5 409,22.1 406.8,22.3 405.8,21.5 404.3,21.7 404.1,22.8 405.9,23.3 404.1,23.9 402.3,23.6 400.9,23.8 399.5,24.6 400.4,25.4 397.9,25.7 396.9,25.3 395.6,25.6 394.8,25.1 394.8,24.1 393.3,23.7 394.5,23.4 397.2,23.7 398.6,24 401,23.6 401.2,22.8 400.9,22.2 399.4,21.9 398,21.3 396,20.9 393.5,20.6 391.5,20.2 390.6,20.2 389,20 387.5,19.1 385.8,18.9 384,19.1 382,19.4 380,20 378,20.2 376.5,21.1 375.5,21.6 374.5,22.2 373.4,23.1 372.8,24 372.2,24.8 371.2,25.5 370.1,26.2 368.7,26.6 367.2,27.1 365.8,27.6 365,28.2 365,29 365,30 365.5,30.7 365.6,31.4 366.8,31.9 368,31.9 369.4,31.2 370.3,30.8 370.6,30.2 371,31 371.2,31.5 371.8,31.9 372.3,32.6 372.6,33.4 372.9,34.4 374.2,34.6 374.4,34 375.8,33.9 376.5,33.2 376.6,32.2 376.8,31.4 377.8,31 378.5,30.5 378.6,29.9 377.4,29.4 377.3,28.4 377.6,27.5 378.7,26.7 380.2,26.2 381.2,25.6 381.4,24.8 382.3,24.2 383.8,24.2 385.3,24.7 385.4,25.2 384.5,25.6 383,26.2 381.5,26.8 381.2,27.7 381.4,28.7 381.5,29.3 382.8,30.1 384.4,29.9 386,29.6 387.8,29.5 389.6,29.9 388,30.4 386.3,30.5 384,30.7 383.4,31 383.5,31.7 384.4,31.8 384.3,32.7 383.8,33 383,32.8 382.5,32.3 381.6,32.7 381.05,33.4 381.1,34.2 381.2,34.8 380.1,35.1 379.6,35.5 378.6,35.6 378.4,35.2 377,35.3 375.5,35.8 374.2,36.1 373.2,35.7 372.4,35.6 371.1,36 370.8,35.7 370.9,35.3 369.9,35.2 370.4,34.5 370.5,33.8 370.2,33.4 370.5,32.5 370.6,32.25 369.6,32.8 368.6,32.9 368.2,33.3 368.1,34.4 368.6,35.1 368.9,35.8 368.7,36.1 368,36.4 367,36.6 366,36.6 365,36.8 364.7,37.4 364.2,38 363.5,38.5 362.5,38.9 361.6,39.1 361.6,39.8 360.3,40.3 359.8,40.7 358.8,40.6 358.7,40.3 358.1,40.3 358.4,41.2 357.2,41.5 355.7,41.3 355.3,41.6 355.7,42.1 356.6,42.3 357.5,42.7 358,43.2 358.8,43.8 358.7,44.6 358.8,45.4 358.5,46.5 357,46.6 355.5,46.6 354,46.4 352.3,46.2 351.1,46.7 350.8,47.2 351.2,48 351.3,49.2 351,50.4 350.5,51.2 351.2,51.6 351.2,52.1 351.1,53 352.5,52.8 353.6,53.2 353.8,53.6 354.4,54Z M-5.9,54.2 -5.3,54.1 -4.5,54.8 -2.2,54.9 -1,54.3 0.5,54 2,53.4 3.5,53.2 5,53.2 6.5,52.9 8,53.1 9.5,52.7 10.2,52.8 11,53 10.5,53.6 10.8,54.4 11,54.8 10.3,55.6 10.1,56.2 11.1,56.8 12.5,57.2 13.5,57.2 15.2,57.7 15.6,58.5 16.8,58.8 18.5,59.5 19.5,59.7 20.2,59 20,58 20.6,57.4 21.5,57.1 22.5,57.2 23.2,57.7 24.5,58 25.2,58.4 27,58.7 28.5,59.1 29.6,58.9 30.4,58.5 31.5,58.5 32.3,58.8 32.5,60 32.6,60.1 32.4,60.8 33,61.7 33.6,62.7 34.2,63.8 35,65.2 35.6,66.2 35.8,67 36.8,68 37.2,69 37.3,70.5 37.8,71.4 38.5,72 39,73.4 39.7,74.7 40.6,75.4 41.5,76.4 42.3,77.2 43.3,78 43.3,78.4 42.8,78.7 43.5,79.1 44.5,79.6 45.7,79.4 47,79 48.5,78.8 50,78.5 51.3,78.1 51.1,79 51,79.6 50.6,80.8 50,82 49.3,83.5 48.5,85 47.4,86.2 46.3,87.5 45.3,88.2 44,89 43,90 42,91 41,91.9 40.2,92.8 39.6,94.1 39.1,95.2 38.8,96.5 39.4,97 39.3,98.3 39.7,99.5 40.4,100.5 40.5,102 40.6,104.2 40.8,105 39.7,106.4 38,107.3 37,107.9 36,109 35,110.2 35.4,111.3 35.5,112.5 35.5,114 34.5,114.8 33,115.5 32.6,116.2 32.9,117 32.5,118.6 31.4,119.3 30.5,120.8 30,121.3 28.9,122.3 27.5,123.3 26,123.8 25,124 23.5,123.9 22,124.2 20.5,124.6 19.7,124.8 18.8,124.2 18.4,124.1 18.3,123.3 18,122.2 17.3,120.5 16.5,118.6 15.3,117 14.9,115.5 14.5,113 14.3,112.1 13.3,110.5 12.3,108.8 11.8,107.5 11.8,106 12.2,104.4 12.8,103 13.6,102 13.8,100.8 13.2,99.4 12.8,98.3 12.3,96.8 12.2,96 12.1,95.2 11.4,94.2 10.6,93.3 9.8,92.4 9.2,91.2 9.3,90 9.6,89 9.8,87.7 9.9,86.8 9.5,86.1 8.9,85.7 8.5,85.4 7.5,85.5 6.8,85.7 6,85.7 5.5,85.1 5,84.4 4.5,83.8 3.5,83.6 2.5,83.7 1.5,83.9 0.8,84.2 0,84.4 -1,84.9 -2,85.2 -3,84.9 -4,84.8 -5.5,85 -7.5,85.6 -8.5,85.3 -9.5,84.6 -10.5,83.8 -11.5,83 -12.5,82.4 -13.2,81.6 -13.6,80.5 -14.6,79.6 -15.2,78.9 -16.3,78.1 -16.7,77.5 -16.8,76.6 -17.2,75.6 -17.5,75.3 -16.9,74.7 -16.5,73.7 -16.2,72.5 -16.1,71.5 -16.5,70.4 -16.9,69.2 -17,68.6 -16.6,67.8 -16.2,66.4 -15.3,65.5 -14.8,64.6 -14.4,63.8 -13.5,63 -12.8,62.1 -11.5,61.8 -10.4,61 -9.7,60.1 -9.8,58.8 -9.3,57.5 -8.5,56.7 -7,56.1 -6.6,55.6 -6.2,54.7 -5.9,54.2Z M354.1,54.2 354.7,54.1 355.5,54.8 357.8,54.9 359,54.3 360.5,54 362,53.4 363.5,53.2 365,53.2 366.5,52.9 368,53.1 369.5,52.7 370.2,52.8 371,53 370.5,53.6 370.8,54.4 371,54.8 370.3,55.6 370.1,56.2 371.1,56.8 372.5,57.2 373.5,57.2 375.2,57.7 375.6,58.5 376.8,58.8 378.5,59.5 379.5,59.7 380.2,59 380,58 380.6,57.4 381.5,57.1 382.5,57.2 383.2,57.7 384.5,58 385.2,58.4 387,58.7 388.5,59.1 389.6,58.9 390.4,58.5 391.5,58.5 392.3,58.8 392.5,60 392.6,60.1 392.4,60.8 393,61.7 393.6,62.7 394.2,63.8 395,65.2 395.6,66.2 395.8,67 396.8,68 397.2,69 397.3,70.5 397.8,71.4 398.5,72 399,73.4 399.7,74.7 400.6,75.4 401.5,76.4 402.3,77.2 403.3,78 403.3,78.4 402.8,78.7 403.5,79.1 404.5,79.6 405.7,79.4 407,79 408.5,78.8 410,78.5 411.3,78.1 411.1,79 411,79.6 410.6,80.8 410,82 409.3,83.5 408.5,85 407.4,86.2 406.3,87.5 405.3,88.2 404,89 403,90 402,91 401,91.9 400.2,92.8 399.6,94.1 399.1,95.2 398.8,96.5 399.4,97 399.3,98.3 399.7,99.5 400.4,100.5 400.5,102 400.6,104.2 400.8,105 399.7,106.4 398,107.3 397,107.9 396,109 395,110.2 395.4,111.3 395.5,112.5 395.5,114 394.5,114.8 393,115.5 392.6,116.2 392.9,117 392.5,118.6 391.4,119.3 390.5,120.8 390,121.3 388.9,122.3 387.5,123.3 386,123.8 385,124 383.5,123.9 382,124.2 380.5,124.6 379.7,124.8 378.8,124.2 378.4,124.1 378.3,123.3 378,122.2 377.3,120.5 376.5,118.6 375.3,117 374.9,115.5 374.5,113 374.3,112.1 373.3,110.5 372.3,108.8 371.8,107.5 371.8,106 372.2,104.4 372.8,103 373.6,102 373.8,100.8 373.2,99.4 372.8,98.3 372.3,96.8 372.2,96 372.1,95.2 371.4,94.2 370.6,93.3 369.8,92.4 369.2,91.2 369.3,90 369.6,89 369.8,87.7 369.9,86.8 369.5,86.1 368.9,85.7 368.5,85.4 367.5,85.5 366.8,85.7 366,85.7 365.5,85.1 365,84.4 364.5,83.8 363.5,83.6 362.5,83.7 361.5,83.9 360.8,84.2 360,84.4 359,84.9 358,85.2 357,84.9 356,84.8 354.5,85 352.5,85.6 351.5,85.3 350.5,84.6 349.5,83.8 348.5,83 347.5,82.4 346.8,81.6 346.4,80.5 345.4,79.6 344.8,78.9 343.7,78.1 343.3,77.5 343.2,76.6 342.8,75.6 342.5,75.3 343.1,74.7 343.5,73.7 343.8,72.5 343.9,71.5 343.5,70.4 343.1,69.2 343,68.6 343.4,67.8 343.8,66.4 344.7,65.5 345.2,64.6 345.6,63.8 346.5,63 347.2,62.1 348.5,61.8 349.6,61 350.3,60.1 350.2,58.8 350.7,57.5 351.5,56.7 353,56.1 353.4,55.6 353.8,54.7 354.1,54.2Z M49.3,102 49.9,103.5 50.4,105.2 50.2,106 49.5,107.5 49.3,109 48.7,110.8 48,112.8 47.5,114.4 47.1,115 46,115.3 45,115.4 44.2,114.8 43.7,113.5 43.3,112 43.6,111 44.3,109.8 44,108.2 44,107 44.5,106.2 45.5,105.8 46.5,105.5 47.5,104.5 48.2,103.6 48.8,102.6 49.3,102Z M79.9,80.2 80.6,80.7 81.2,81.6 81.8,82.5 81.7,83.5 80.6,84.1 80.1,83.8 79.8,82.7 79.8,81.7 79.9,80.2Z M130.9,56 131.5,55.4 132.6,54.5 134,54.4 135.5,54.4 136,54 136.7,53 137,52.5 137.3,53.1 138.5,52.6 139.5,51.7 140,50.5 140,49.5 140.3,48.7 141.4,48.6 141.5,49.5 142,50.5 141.5,51.7 141,52.3 140.9,53.2 140.7,54.3 140,55 139.5,54.8 139,55.3 138.2,55.4 137,55.4 136.8,55.7 136,56.5 135.3,56.3 135.1,55.4 134,55.3 132.5,55.7 131.5,56 130.9,56Z M129.6,56.7 130.5,56.1 131,56.1 131.7,56.7 131.9,57.6 131.2,58.7 130.6,59 130.2,58.5 130.2,57.5 129.7,57.2 129.6,56.7Z M132.4,56.7 132.8,56 134,55.6 134.7,55.8 134.3,56.7 133.2,57.2 132.4,56.7Z M140,48.5 140.1,47.6 140.5,46.8 141.4,46.7 141.7,45.6 141.8,44.6 142.9,45.3 144,45.9 145.3,45.7 145.4,46.7 144.3,47 143.3,48 141.6,47.4 141,47.7 140.8,48.2 140,48.5Z M141.9,43.9 142.6,43.3 143.4,43.6 143.1,42.5 142.7,40.9 143.2,40 143.3,38.5 143.1,37.4 143.2,36.2 142.7,35.6 142.2,36.1 142.5,36.7 141.7,37.5 141.9,38.5 142.1,40 142,42 141.9,43.9Z M120.2,67.1 120.7,68 121,67.7 121.5,66.5 121.9,65.1 121.6,64.7 121,64.9 120.2,66.1 120.2,67.1Z M108.6,70.8 109.5,70 110.6,69.9 111,70.4 110.4,71.4 109.5,71.8 108.7,71.5 108.6,70.8Z M120.6,71.5 121.4,71.4 122.3,71.6 122.1,72.9 122.4,73.7 121.6,74.1 121.6,75.2 122.2,75.8 123,76.1 124,76.1 124.2,77 123.8,77.3 123,76.8 122.5,76.2 121.8,76.1 121,76.2 120.6,75.7 120.6,75 119.8,74.5 119.9,73.7 120.4,73.2 120.4,72.4 120.6,71.5Z M122,83 122.6,82.2 123.4,82.2 123.7,81.5 124.6,81.5 125.4,80.2 126.2,80.8 126.6,82.5 126.2,83.7 125.6,84.3 125.2,83.9 124.2,83.8 123.9,83.1 123.1,82.5 122.2,83.1 122,83Z M124.3,77.5 125.2,77.5 125.7,78.9 125,79.9 124.3,79.1 124.3,77.5Z M121.9,78.1 123.1,78.7 122.8,79.4 122,79.4 121.9,78.1Z M122.4,79.2 123.5,79.2 123.3,80.7 122.6,80.5 122.4,79.2Z M120.3,76.5 121.2,76.6 121.5,77.4 121,77.7 120.3,76.5Z M117.2,81.6 118.5,80.7 119.6,79.5 119.5,78.7 118.8,79.6 117.6,80.9 117.2,81.6Z M109,88.2 109.6,88 110.5,88.3 111.3,87.4 113,86.8 113.9,85.4 114.9,85.1 115.4,84.6 116.2,83.8 116.8,83 117.3,83.4 117.7,84.1 118.6,84.8 119.2,85 118.3,85.6 117.7,85.8 117.8,87 118.1,87.9 118.9,88.9 118,89.1 117.5,90 117.1,91 116.6,91.5 116.4,92.9 116,93.7 114.6,94 114.3,93.4 113,93.1 111.8,93.5 111.2,92.9 110.2,92.9 110.1,91.7 109.5,91 109,89.9 108.9,89.1 109,88.2Z M95.3,84.4 96.5,84.8 97.5,84.8 98.5,85.8 99.8,86.8 100.5,87.9 101.5,88.3 102.8,89.2 103.7,90 103.8,91 104.9,92.3 105.8,93 106,94 105.9,95.8 105.2,95.7 104.5,95.8 103.5,94.9 102.3,93.9 101.4,92.8 100.8,91.6 100.1,90.5 99.3,89.4 98.7,88.4 97.7,87.5 97,86.5 96.2,85.7 95.3,84.9 95.3,84.4Z M105.2,96.8 106,95.9 107,96 108.3,96.3 109.5,96.8 110.5,96.9 111.5,96.6 112.6,96.9 113.8,97.6 114.5,97.8 114.4,98.7 113,98.4 111,98.2 109,97.8 107.5,97.5 106.4,97.4 105.5,97 105.2,96.8Z M114.6,98.1 115.7,98.3 116.5,98.2 116.7,98.8 115.5,98.8 114.6,98.4Z M116.8,98.5 117.8,98.1 119,98.2 119,98.8 117,99Z M119.8,98.5 121,98.4 122.8,98.2 123,98.6 121,98.9 119.8,98.8Z M119,99.5 120.8,99.8 120.6,100.3 119.2,99.8Z M123.6,100.3 124.5,99.3 126,98.5 127.3,98.4 126.5,99 125,99.8 124,100.4Z M119.4,95.5 119.5,93.5 118.9,92.8 119.3,91.5 119.8,90.4 119.9,89.5 120.5,89 121.5,88.9 123,89.1 124.3,89.1 125.2,88.4 124.9,89.4 124,89.6 122.5,89.5 121,89.6 120.2,89.9 120.1,90.7 121.2,91 122.5,90.8 123.4,90.9 122.9,91.4 121.7,91.8 121.5,92.7 122.4,93.5 123.2,94.7 122.6,95.3 122,94.9 121.5,94.5 121,92.8 120.4,92.9 120.4,94.5 120.4,95.5 119.4,95.5Z M127.5,88.2 128,87.8 128.7,88.7 127.9,89.6 128.7,90.5 127.8,90.6 127.4,89.5 127.5,88.2Z M128,93 130,93 130.9,93.8 129,93.6 128,93.4Z M126,93.2 127.2,93.3 127,93.8 126,93.6Z M131,91.3 131.5,90.8 132.5,90.4 133.5,90.7 134.1,90.9 134.3,92.5 135,93.3 136.3,92.3 137.4,91.5 138.5,91.8 140,92.4 141.3,92.7 142.5,93.3 143.7,93.7 144.6,94 145.7,94.8 145.8,95.5 146.8,96.2 147.6,96.1 147.9,96.7 147.2,97.5 148,98 148.6,99.1 149.3,99.6 150.1,100 150.8,100.3 150.1,100.7 149,100.3 147.6,100.1 146.5,99 146,98.1 144.5,97.6 143.7,98 143.4,99 142.5,99.3 141.2,99.2 140.2,98.3 139,98.1 138,98.4 137.7,97.8 138.6,97 138.4,96.3 137.8,95.3 136,94.6 135,94.4 134,93.9 133.4,94.1 132.8,93.3 132,92.8 133,92.4 132.2,92.2 131.3,91.5 131,91.3Z M148.4,95.5 149.9,95.5 150.8,95.4 151.9,94.3 152.3,94.9 151.5,95.6 150,96.2 148.4,95.8Z M150.8,92.7 152.2,93.6 153.1,94.6 152.8,94.8 151.8,93.8Z M157,97.3 159.5,98.3 159.3,98.8 156.8,97.6Z M159.8,99.3 160.8,99.6 160.4,99.9Z M160.6,98.4 161.5,99.5 161.3,99.7 160.5,98.6Z M166.6,104.6 167.2,105.5 166.8,105.6Z M164,110.2 165,110.6 167,112.2 166.5,112.4 164.3,110.8Z M177.3,107.5 178.5,107.4 178.3,108.2 177.4,108.1Z M178.7,106.4 180,106.1 179.5,106.8Z M142.5,100.7 142.8,101.8 143.5,102.8 143.6,104 144.5,104.3 145.3,105 145.4,106.3 146,107.5 146.3,108.8 147.5,109.5 148.8,110.3 149.5,111.5 150.3,112.3 150.9,113.5 152,114.5 153,115.3 153.2,116.5 153.5,118.2 153.3,119.5 153,121 152.5,122.2 151.5,123.2 151.2,123.9 150.9,124.5 150.2,125.8 150,127.2 149.4,127.8 148,127.8 147.2,128.2 146.3,129.1 145.4,128.5 144.8,128.3 144.3,128.3 143.5,128.8 142.2,128.4 141.2,128.3 140.5,128 139.7,127.3 139.5,126.5 139,125.7 138.2,125.6 138.6,124.8 138.1,124.2 137.8,125.2 136.8,125.3 137.5,124.5 137.8,123.3 137.8,122.6 137.2,123.6 136.3,124.2 135.9,124.8 135.3,124.5 135.2,123.8 134.2,122.8 133.3,122.2 132.2,122 131.3,121.5 130,121.6 128.5,121.7 127,122.3 125.5,122.7 124,123.3 123.5,123.9 122,124 120.5,123.9 119.5,124.3 118.2,125 117.3,125 116.2,124.9 115.2,124.3 115,123.6 115.7,123.3 115.7,122.2 115.7,121.5 115.1,120.2 114.9,119.1 114.2,118.2 113.6,116.6 113.4,115.8 114,116.2 113.4,114.5 113.7,113.5 113.8,112.6 114.2,111.9 114.6,111.7 115.5,111.5 116.7,110.7 117.7,110.7 118.8,110.3 120,109.9 121.1,109.5 121.8,108.6 122.3,107.9 122.3,107.1 123,106.5 123.6,107.2 123.9,106.5 124.4,106.3 124.8,105.3 125.4,104.6 126.2,104.2 127,103.8 127.8,104.4 128.3,105 129,104.9 129.6,104.9 129.5,104.2 130.2,103.2 130.2,102.9 130.7,102.4 131.3,102.1 132.1,102 132.6,101.4 133.1,101.7 134,101.9 135,102.2 135.9,102 136.7,102.2 136.4,103.2 135.9,103.7 135.4,104.7 136.1,105.2 137,105.9 137.9,106.6 138.8,107.1 139.4,107.4 140.2,107.7 140.9,107.4 141.3,106.4 141.6,105 141.5,103.7 141.7,102.4 141.9,101.8 142.2,101 142.5,100.7Z M144.6,130.7 146,131.1 147.5,130.9 148.3,130.9 148.3,132 147.9,133 147,133.5 146,133.6 145.3,132.6 144.7,131.6 144.6,130.7Z M172.7,124.4 173.5,125 174.3,125.8 174.8,126.9 175.5,126.8 175.9,127.6 177,128 178.3,127.6 178,128.7 177,129.2 176.8,130 176,131 175.2,131.6 174.7,131.3 175.2,130.4 174.5,129.8 173.8,129.2 174.6,128.5 174.7,127.4 174.2,126.5 173.1,125.2 172.7,124.4Z M172.7,130.5 173.5,130.9 174.3,131.3 173.9,132.3 173,133.2 172.7,133.8 171.3,134.4 170.7,135.8 169.5,136.6 168.3,136.6 166.5,136 166.8,135.2 168.2,134 169.9,133.2 171.2,132.2 171.6,131.5 172.1,130.9 172.7,130.5Z M12.4,52 13.5,51.8 15.6,51.7 15.1,52.7 15.1,53.3 14.3,53 12.5,52.4 12.4,52Z M8.2,49 9.2,48.8 9.8,49.5 9.6,50.8 9,51 8.4,51 8.5,49.7 8.2,49Z M8.6,47.1 9.4,47 9.6,47.8 9.2,48.6 8.7,48.3 8.6,47.1Z M23.5,54.4 24.5,54.6 26.3,54.7 26.2,55 24.8,55.1 23.5,54.7Z M32.3,55 33,54.6 34.6,54.3 34,55 33.5,55.4 32.4,55.3Z M298.1,79.2 299,79.2 299,79.9 298.1,79.9Z M298.7,141.3 301,141.3 302.2,141.7 301.5,142.3 299.5,142.2Z M68.8,138.8 70.5,139 69.5,139.8Z M204.1,69.8 205,70.4 204.3,71.1 204,70.4Z M202.7,68.8 203.3,69.1 203.8,69.4 203.4,69.4Z M39.2,95.8 39.5,96.4 39.3,96.2Z M53.3,77.4 54.5,77.4 54.2,77.7Z M92.6,76.5 93,77.5 92.7,78.5 92.5,77.5Z M282,63.2 283,63.4 282.1,63.6Z M282.2,65 282.3,65.8 281.9,65.5Z"/><path id="antf" d="M0,160.6 0,160.6 5,160.4 10,160.3 15,160.2 20,160.1 25,160.3 30,159.8 33,159.2 36,159.5 38,159.6 40,158.9 43,158.3 46,157.8 48,157.3 50,156.8 53,156.1 56,156.7 60,157.3 63,157.5 66,157.6 68,158 69.5,158.8 70,159.8 69.5,161 71,162 73,161 73.5,160 75.5,159.4 77,159.5 78.5,158.6 80,158 82,157.4 84,157 86,156.8 88,156.5 92,156.5 95,156.2 98,156.2 101,156 104,155.8 107,156.3 110,156.3 113,156 116,156.8 119,157 122,156.5 125,156.4 128,156.6 131,156.3 134,156.1 137,156.5 140,156.7 143,157.2 145,157.8 147,158.1 150,158.6 153,158.8 156,159.2 159,159.6 162,160.5 164,160.8 167,161 170,161.5 170.5,162.3 169.5,163.3 167,164.3 165,165 163,166 163.5,167.3 165,168 167,168.5 170,168.2 175,168.3 180,168.5 180,168.4 185,168.3 190,168.2 195,168.4 200,168.6 203,168 205,167.4 208,167.2 212,167 215,166.5 220,165.5 224,164.7 230,164.4 235,164 240,164.3 245,164.3 250,164.5 255,164.8 259,163.6 263,163.2 266,162.8 272,163.2 276,163.4 280,163.2 283,162.8 286,161.5 288,160.3 289.6,159.4 292.5,158 294.7,156.9 298,155 301,153.8 303,153.4 302.2,154.3 300,155.8 298.8,157.8 299,160.5 299.5,162.5 299.7,164.5 302,166 304.7,167 310,167.6 315,167.9 319.8,167.8 325,167.5 330,167 334,166.4 336.6,166 340,165 344,164 347,163.2 350,162.7 354,161.6 357,161 360,160.6 360,181 0,181Z"/><path id="ants" d="M0,160.6 0,160.6 5,160.4 10,160.3 15,160.2 20,160.1 25,160.3 30,159.8 33,159.2 36,159.5 38,159.6 40,158.9 43,158.3 46,157.8 48,157.3 50,156.8 53,156.1 56,156.7 60,157.3 63,157.5 66,157.6 68,158 69.5,158.8 70,159.8 69.5,161 71,162 73,161 73.5,160 75.5,159.4 77,159.5 78.5,158.6 80,158 82,157.4 84,157 86,156.8 88,156.5 92,156.5 95,156.2 98,156.2 101,156 104,155.8 107,156.3 110,156.3 113,156 116,156.8 119,157 122,156.5 125,156.4 128,156.6 131,156.3 134,156.1 137,156.5 140,156.7 143,157.2 145,157.8 147,158.1 150,158.6 153,158.8 156,159.2 159,159.6 162,160.5 164,160.8 167,161 170,161.5 170.5,162.3 169.5,163.3 167,164.3 165,165 163,166 163.5,167.3 165,168 167,168.5 170,168.2 175,168.3 180,168.5 180,168.4 185,168.3 190,168.2 195,168.4 200,168.6 203,168 205,167.4 208,167.2 212,167 215,166.5 220,165.5 224,164.7 230,164.4 235,164 240,164.3 245,164.3 250,164.5 255,164.8 259,163.6 263,163.2 266,162.8 272,163.2 276,163.4 280,163.2 283,162.8 286,161.5 288,160.3 289.6,159.4 292.5,158 294.7,156.9 298,155 301,153.8 303,153.4 302.2,154.3 300,155.8 298.8,157.8 299,160.5 299.5,162.5 299.7,164.5 302,166 304.7,167 310,167.6 315,167.9 319.8,167.8 325,167.5 330,167 334,166.4 336.6,166 340,165 344,164 347,163.2 350,162.7 354,161.6 357,161 360,160.6"/><path id="heavy" d="M287,11.6 290,10.3 294,9.4 298,8.2 304,7.8 310,7.6 316,6.8 325,6.4 333,6.6 338,7.4 340,8 346,8.3 347.5,8.8 343.5,9.8 341,11 341.5,12.5 341,13.6 340,14.7 340.5,15.8 338.2,17.2 338,18.5 338.2,19.6 336.5,19.8 334.5,21 332.3,21.6 329,22 327,22.5 325.4,23.6 322.7,24.4 320.4,24.8 319.5,25.8 318.5,26.8 317.6,28.2 317,29.6 315.5,29.9 314,29.4 312.2,29.1 310.7,28.2 309.5,27 308.5,25.8 307.5,24.5 306.4,23.4 306.7,22.2 308.5,21.4 309,20.5 307.5,20.3 306,19.5 308.2,19.1 305.8,18.5 304.5,17.3 303.8,16.2 302,15.4 300.5,14.4 298,13.8 295,13.9 292,13.8 289,13 292.5,12.5 288.5,12 287,11.6Z M295.2,26.8 294.5,28 293.2,27.4 292,27.7 290.5,27.1 288.7,27.1 287.5,26.4 286,25.8 284,25.7 282.3,25.7 283.5,24.7 285.5,24.6 286.5,23.6 287.2,22.5 286,22 285,21.6 283.5,20.8 283,20.4 281,20.2 279.5,20.4 278,20.2 275.2,20 273.5,19.7 272,19.5 270.5,18.8 271.5,18.2 272,17.6 274,16.7 276,16.4 278,16.2 280,16.4 282,17.2 283.5,17.4 285,17.5 286.5,18.2 288,18.5 289.2,19.2 290.5,19.6 291.7,20 292.5,20.4 293.5,21.7 295.2,22.4 296.5,23.2 298,23.6 297.2,24.4 296.3,25 295.5,25.7 295.2,26.8Z M279,16.8 282,16.2 283.5,16.7 281.5,17.4 279,16.8Z M297.5,7.7 295.5,8.1 294,8.3 291.5,9 290,9.6 288.5,10.2 287,10.7 285,11 284,11.2 284.5,12 283,12.4 281.5,13 280,13.2 278.5,13.5 277,13.7 275,13.6 273,13.7 271,13.5 270,12.8 271.5,12.2 272,11.8 274,11.4 273.5,10.7 275,10 278,9.5 276,9 272,9 269,8.8 270,8.2 274,7.8 280,7.2 286,7 293,7.1 297.5,7.7Z M270.5,11.5 268.5,12.2 266,12 263.8,11.2 264,10 266,8.8 268.5,9 269.5,9.8 268.5,10.5 270.5,11.5Z M279.5,15.4 277,15.5 275,15.5 272,15.5 268.5,15.4 267.5,14.8 267,14.2 268,13.7 270,13.5 272,13.7 275,13.6 277.5,13.8 279.5,13.8 280.5,14.7 279.5,15.4Z M264,15.2 267,15.4 266.8,14.5 264.5,14.4 264,15.2Z M241.5,18.8 242.5,18 242.8,17.3 244.5,16.9 246.5,16.8 249,17 252,16.7 254,17 255,17.7 255.5,18.2 257,18.8 258,19.2 258.8,20.2 257.5,20.7 256,21.1 254.5,20.8 253,21 251,21.2 249,21.4 247,20.9 245.5,20.7 244,20.5 242.8,20.2 241.4,19.5 241.5,18.8Z M234.8,18.1 235,17.4 235.8,16.8 236.2,15.9 238,15.6 239.5,15.6 241,15.8 242.5,16 244,16.4 244.5,16.7 243,17.1 241.5,17.5 240.5,18.3 239.6,18.6 238.5,18.7 237,18.9 234.8,18.1Z M238,13.5 243,12.6 245,13 242,14 238,13.5Z M243.5,15.1 242.2,14.5 243.5,13.8 246,13.5 249.5,13.3 252,13.4 254,13.9 254.3,14.5 253.7,15 251.5,15.3 249,15.5 246,15.4 243.5,15.1Z M263,18.2 261,18.1 258.5,17.6 257.5,17 258.5,16.5 259.5,16.1 261.5,16.1 263,16.2 263.5,17.2 263,18.2Z M269.5,18 267,18.1 265,18 264.7,17.2 265,16.4 267,16 268.5,16 269.5,16.5 269.5,17 269.5,18Z M263,14.5 261,14.7 259,14.2 259.5,13.5 262,13 263.5,13.8 263,14.5Z M256,12.2 253,12.5 250,12.2 248,11.4 251,11.1 254,11 256,11.6Z M261,12.2 259,12.4 257,11.8 258.5,11.2 260.5,11.5Z M279.5,26.2 278,26.6 276,26.4 274.5,26.7 273,26 273.5,25.2 274,24.5 276,24.1 277,24.8 278,25.2 279.5,26.2Z M277,27.8 279,27.5 280,27.1 278,27.1Z M264,21 262.5,21.4 261,21 261.5,20.1 263,20.1 264,20.3 264,21Z M11,11.4 11.5,10.2 16,10 18,10.2 21,9.8 27,9.7 27.2,10.7 22,11.8 19,12.5 16.5,13.4 14,12.8 13.5,12 11,11.4Z M52,18.7 53.5,17.3 55.5,16.4 56.5,15 59,14.1 62,13.7 66,13.1 68.7,13.1 66.5,14.1 62,15 58.5,15.6 56.2,16.7 55.5,17.7 57.5,19.2 55.5,19.4 53.5,19.2 52,18.7Z M93.5,10.5 97,9.8 99.5,9 103,9.2 105,10.2 103,11 99,11.5 95,11.2 93.5,10.5Z M-124.7,41.6 -123.5,41.8 -122.8,41 -124.5,40 -126,39.2 -127.5,38.5 -128,37.5 -129.5,36.3 -130.5,35.2 -131.8,34 -133.5,32.8 -135.5,31.5 -137,31.4 -138.5,30.8 M235.3,41.6 236.5,41.8 237.2,41 235.5,40 234,39.2 232.5,38.5 232,37.5 230.5,36.3 229.5,35.2 228.2,34 226.5,32.8 224.5,31.5 223,31.4 221.5,30.8 M-67.5,136.2 -66,137.5 -67.8,139 -68.9,140.5 -69,141.7 -68.4,142.4 -69.5,142.6 -68.5,143.3 -67.5,144.3 M292.5,136.2 294,137.5 292.2,139 291.1,140.5 291,141.7 291.6,142.4 290.5,142.6 291.5,143.3 292.5,144.3 M-66.5,145.1 -68.5,145.4 -70.5,145 -72.5,144 -74.2,142.5 -75.2,140.5 -75.5,138 -74.6,136.5 -75.5,136 -74,134.2 -73.4,132 -73.8,131.5 M293.5,145.1 291.5,145.4 289.5,145 287.5,144 285.8,142.5 284.8,140.5 284.5,138 285.4,136.5 284.5,136 286,134.2 286.6,132 286.2,131.5 M15.5,21.6 14.5,22.2 13.4,23.1 12.8,24 12.2,24.8 11.2,25.5 10.1,26.2 8.7,26.6 7.2,27.1 5.8,27.6 5,28.2 5,29 5,30 5.5,30.7 5.6,31.4 6.8,31.9 8,31.9 9.4,31.2 10.3,30.8 10.6,30.2 11,31 11.2,31.5 11.8,31.9 M375.5,21.6 374.5,22.2 373.4,23.1 372.8,24 372.2,24.8 371.2,25.5 370.1,26.2 368.7,26.6 367.2,27.1 365.8,27.6 365,28.2 365,29 365,30 365.5,30.7 365.6,31.4 366.8,31.9 368,31.9 369.4,31.2 370.3,30.8 370.6,30.2 371,31 371.2,31.5 371.8,31.9"/><path id="xheavy" d="M-19,11 -18.5,12.5 -19,13.6 -20,14.7 -19.5,15.8 -21.8,17.2 -22,18.5 -21.8,19.6 -23.5,19.8 -25.5,21 -27.7,21.6 M341,11 341.5,12.5 341,13.6 340,14.7 340.5,15.8 338.2,17.2 338,18.5 338.2,19.6 336.5,19.8 334.5,21 332.3,21.6 M-51.5,25.8 -52.5,24.5 -53.6,23.4 -53.3,22.2 -51.5,21.4 -51,20.5 -52.5,20.3 -54,19.5 -51.8,19.1 -54.2,18.5 -55.5,17.3 -56.2,16.2 -58,15.4 M308.5,25.8 307.5,24.5 306.4,23.4 306.7,22.2 308.5,21.4 309,20.5 307.5,20.3 306,19.5 308.2,19.1 305.8,18.5 304.5,17.3 303.8,16.2 302,15.4 M-64.8,26.8 -65.5,28 -66.8,27.4 -68,27.7 -69.5,27.1 -71.3,27.1 -72.5,26.4 -74,25.8 -76,25.7 -77.7,25.7 -76.5,24.7 -74.5,24.6 -73.5,23.6 -72.8,22.5 -74,22 -75,21.6 -76.5,20.8 -77,20.4 -79,20.2 M295.2,26.8 294.5,28 293.2,27.4 292,27.7 290.5,27.1 288.7,27.1 287.5,26.4 286,25.8 284,25.7 282.3,25.7 283.5,24.7 285.5,24.6 286.5,23.6 287.2,22.5 286,22 285,21.6 283.5,20.8 283,20.4 281,20.2 M-80,16.4 -78,17.2 -76.5,17.4 -75,17.5 -73.5,18.2 -72,18.5 -70.8,19.2 -69.5,19.6 -68.3,20 -67.5,20.4 -66.5,21.7 -64.8,22.4 -63.5,23.2 -62,23.6 -62.8,24.4 -63.7,25 -64.5,25.7 -64.8,26.8 M280,16.4 282,17.2 283.5,17.4 285,17.5 286.5,18.2 288,18.5 289.2,19.2 290.5,19.6 291.7,20 292.5,20.4 293.5,21.7 295.2,22.4 296.5,23.2 298,23.6 297.2,24.4 296.3,25 295.5,25.7 295.2,26.8"/><clipPath id="landclip"><use href="#land2"/><use href="#antf"/></clipPath></defs>
<rect width="688" height="800" fill="#fff"/>
<text x="49.8" y="29.6" font-size="27">0</text><circle cx="69.2" cy="12.7" r="1.95" fill="none" stroke="#333" stroke-width="0.95"/>
<text x="135.9" y="29.6" font-size="27">60</text><circle cx="170.4" cy="12.7" r="1.95" fill="none" stroke="#333" stroke-width="0.95"/>
<text x="222.1" y="29.6" font-size="27">120</text><circle cx="271.5" cy="12.7" r="1.95" fill="none" stroke="#333" stroke-width="0.95"/>
<text x="315.7" y="29.6" font-size="27">180</text><circle cx="365.2" cy="12.7" r="1.95" fill="none" stroke="#333" stroke-width="0.95"/>
<text x="404.9" y="29.6" font-size="27">-120</text><circle cx="463.3" cy="12.7" r="1.95" fill="none" stroke="#333" stroke-width="0.95"/>
<text x="506.0" y="29.6" font-size="27">-60</text><circle cx="549.4" cy="12.7" r="1.95" fill="none" stroke="#333" stroke-width="0.95"/>
<text x="611.7" y="29.6" font-size="27">0</text><circle cx="631.1" cy="12.7" r="1.95" fill="none" stroke="#333" stroke-width="0.95"/>
<text x="48.8" y="420.2" font-size="27">0</text><circle cx="68.2" cy="403.3" r="1.95" fill="none" stroke="#333" stroke-width="0.95"/>
<text x="134.9" y="420.2" font-size="27">60</text><circle cx="169.4" cy="403.3" r="1.95" fill="none" stroke="#333" stroke-width="0.95"/>
<text x="221.1" y="420.2" font-size="27">120</text><circle cx="270.5" cy="403.3" r="1.95" fill="none" stroke="#333" stroke-width="0.95"/>
<text x="314.7" y="420.2" font-size="27">180</text><circle cx="364.2" cy="403.3" r="1.95" fill="none" stroke="#333" stroke-width="0.95"/>
<text x="403.9" y="420.2" font-size="27">-120</text><circle cx="462.3" cy="403.3" r="1.95" fill="none" stroke="#333" stroke-width="0.95"/>
<text x="505.0" y="420.2" font-size="27">-60</text><circle cx="548.4" cy="403.3" r="1.95" fill="none" stroke="#333" stroke-width="0.95"/>
<text x="610.7" y="420.2" font-size="27">0</text><circle cx="630.1" cy="403.3" r="1.95" fill="none" stroke="#333" stroke-width="0.95"/>
<text x="10.2" y="100.7" font-size="27">60</text><circle cx="44.6" cy="83.8" r="1.95" fill="none" stroke="#333" stroke-width="0.95"/><text x="25.2" y="194.2" font-size="27">0</text><circle cx="44.6" cy="177.3" r="1.95" fill="none" stroke="#333" stroke-width="0.95"/><text x="1.2" y="287.7" font-size="27">-60</text><circle cx="44.6" cy="270.8" r="1.95" fill="none" stroke="#333" stroke-width="0.95"/>
<text x="636.1" y="492.0" font-size="27">60</text><circle cx="670.5" cy="475.1" r="1.95" fill="none" stroke="#333" stroke-width="0.95"/><text x="636.1" y="585.7" font-size="27">0</text><circle cx="655.5" cy="568.7" r="1.95" fill="none" stroke="#333" stroke-width="0.95"/><text x="636.1" y="679.3" font-size="27">-60</text><circle cx="679.5" cy="662.4" r="1.95" fill="none" stroke="#333" stroke-width="0.95"/>
<svg x="61.80" y="42.80" width="561.90" height="280.50" viewBox="0 0 360 180" preserveAspectRatio="none" overflow="hidden">
<rect x="0" y="0" width="360" height="180" fill="#f4f4f4"/>
<use href="#land2" fill="#ffffff"/><use href="#antf" fill="#ffffff"/>
<g clip-path="url(#landclip)"><g filter="url(#fblur)">
<ellipse cx="75.5" cy="60.4" rx="0.97" ry="0.78" fill="#2424e6" fill-opacity="0.57"/>
<ellipse cx="76.9" cy="62.8" rx="1.10" ry="1.01" fill="#2424e6" fill-opacity="0.43"/>
<ellipse cx="71.9" cy="62.0" rx="1.25" ry="1.09" fill="#2424e6" fill-opacity="0.28"/>
<ellipse cx="71.4" cy="57.6" rx="1.12" ry="0.95" fill="#2424e6" fill-opacity="0.59"/>
<ellipse cx="72.6" cy="63.9" rx="0.65" ry="0.44" fill="#2424e6" fill-opacity="0.43"/>
<ellipse cx="73.4" cy="63.8" rx="0.95" ry="0.89" fill="#2424e6" fill-opacity="0.41"/>
<ellipse cx="76.2" cy="59.8" rx="1.13" ry="0.88" fill="#2424e6" fill-opacity="0.42"/>
<ellipse cx="73.8" cy="57.5" rx="1.27" ry="1.12" fill="#2424e6" fill-opacity="0.60"/>
<ellipse cx="74.2" cy="62.5" rx="0.66" ry="0.59" fill="#2424e6" fill-opacity="0.35"/>
<ellipse cx="75.0" cy="58.5" rx="1.37" ry="1.28" fill="#2424e6" fill-opacity="0.39"/>
<ellipse cx="71.0" cy="62.6" rx="0.98" ry="0.97" fill="#2424e6" fill-opacity="0.57"/>
<ellipse cx="75.0" cy="63.5" rx="1.22" ry="0.87" fill="#2424e6" fill-opacity="0.47"/>
<ellipse cx="71.9" cy="61.8" rx="1.21" ry="0.78" fill="#2424e6" fill-opacity="0.59"/>
<ellipse cx="73.5" cy="63.3" rx="1.24" ry="0.83" fill="#2424e6" fill-opacity="0.27"/>
<ellipse cx="76.6" cy="61.1" rx="1.19" ry="0.77" fill="#2424e6" fill-opacity="0.32"/>
<ellipse cx="77.4" cy="63.2" rx="0.77" ry="0.55" fill="#2424e6" fill-opacity="0.40"/>
<ellipse cx="80.7" cy="58.8" rx="1.31" ry="0.89" fill="#2424e6" fill-opacity="0.36"/>
<ellipse cx="74.9" cy="58.4" rx="0.68" ry="0.68" fill="#2424e6" fill-opacity="0.47"/>
<ellipse cx="73.1" cy="62.3" rx="0.86" ry="0.62" fill="#2424e6" fill-opacity="0.52"/>
<ellipse cx="71.7" cy="63.4" rx="0.79" ry="0.67" fill="#2424e6" fill-opacity="0.45"/>
<ellipse cx="74.7" cy="61.1" rx="0.99" ry="0.82" fill="#2424e6" fill-opacity="0.59"/>
<ellipse cx="79.7" cy="62.8" rx="1.33" ry="1.23" fill="#2424e6" fill-opacity="0.30"/>
<ellipse cx="73.5" cy="62.8" rx="1.35" ry="0.92" fill="#2424e6" fill-opacity="0.51"/>
<ellipse cx="80.5" cy="58.3" rx="0.94" ry="0.60" fill="#2424e6" fill-opacity="0.46"/>
<ellipse cx="71.4" cy="57.7" rx="1.16" ry="0.82" fill="#2424e6" fill-opacity="0.33"/>
<ellipse cx="79.2" cy="60.1" rx="0.74" ry="0.66" fill="#2424e6" fill-opacity="0.35"/>
<ellipse cx="71.7" cy="62.5" rx="1.28" ry="1.08" fill="#2424e6" fill-opacity="0.45"/>
<ellipse cx="73.8" cy="58.0" rx="0.61" ry="0.43" fill="#2424e6" fill-opacity="0.32"/>
<ellipse cx="75.5" cy="63.6" rx="0.90" ry="0.74" fill="#2424e6" fill-opacity="0.31"/>
<ellipse cx="72.3" cy="61.6" rx="1.38" ry="1.19" fill="#2424e6" fill-opacity="0.56"/>
<ellipse cx="77.9" cy="60.2" rx="0.63" ry="0.38" fill="#2424e6" fill-opacity="0.30"/>
<ellipse cx="80.1" cy="59.4" rx="0.62" ry="0.53" fill="#2424e6" fill-opacity="0.59"/>
<ellipse cx="75.8" cy="59.3" rx="1.40" ry="0.88" fill="#2424e6" fill-opacity="0.36"/>
<ellipse cx="76.5" cy="59.2" rx="1.19" ry="1.05" fill="#2424e6" fill-opacity="0.57"/>
<ellipse cx="78.9" cy="58.1" rx="1.15" ry="1.10" fill="#2424e6" fill-opacity="0.37"/>
<ellipse cx="79.7" cy="61.3" rx="1.29" ry="1.07" fill="#2424e6" fill-opacity="0.53"/>
<ellipse cx="76.9" cy="61.5" rx="1.13" ry="0.71" fill="#1414e0" fill-opacity="0.70"/>
<ellipse cx="77.0" cy="59.0" rx="1.21" ry="0.91" fill="#1414e0" fill-opacity="0.81"/>
<ellipse cx="77.5" cy="60.7" rx="1.29" ry="0.82" fill="#1414e0" fill-opacity="0.65"/>
<ellipse cx="77.6" cy="62.9" rx="1.04" ry="0.72" fill="#1414e0" fill-opacity="0.71"/>
<ellipse cx="77.3" cy="61.0" rx="1.34" ry="0.94" fill="#1414e0" fill-opacity="0.72"/>
<ellipse cx="73.6" cy="61.8" rx="0.84" ry="0.56" fill="#1414e0" fill-opacity="0.74"/>
<ellipse cx="78.5" cy="60.4" rx="1.32" ry="0.97" fill="#1414e0" fill-opacity="0.65"/>
<ellipse cx="77.2" cy="62.2" rx="1.26" ry="1.22" fill="#1414e0" fill-opacity="0.65"/>
<ellipse cx="78.3" cy="61.5" rx="0.92" ry="0.60" fill="#1414e0" fill-opacity="0.70"/>
<ellipse cx="76.2" cy="59.7" rx="1.20" ry="1.17" fill="#1414e0" fill-opacity="0.80"/>
<ellipse cx="75.0" cy="62.3" rx="0.89" ry="0.61" fill="#1414e0" fill-opacity="0.66"/>
<ellipse cx="75.8" cy="60.5" rx="0.92" ry="0.86" fill="#1414e0" fill-opacity="0.67"/>
<ellipse cx="78.9" cy="61.2" rx="0.72" ry="0.69" fill="#1414e0" fill-opacity="0.53"/>
<ellipse cx="73.7" cy="60.2" rx="0.92" ry="0.84" fill="#1414e0" fill-opacity="0.70"/>
<ellipse cx="68.3" cy="65.5" rx="0.42" ry="0.39" fill="#3030ea" fill-opacity="0.25"/>
<ellipse cx="72.3" cy="65.5" rx="0.90" ry="0.70" fill="#3030ea" fill-opacity="0.13"/>
<ellipse cx="79.3" cy="59.8" rx="1.17" ry="1.02" fill="#3030ea" fill-opacity="0.35"/>
<ellipse cx="71.6" cy="61.8" rx="0.41" ry="0.32" fill="#3030ea" fill-opacity="0.17"/>
<ellipse cx="80.9" cy="65.0" rx="0.68" ry="0.59" fill="#3030ea" fill-opacity="0.20"/>
<ellipse cx="77.4" cy="60.2" rx="0.71" ry="0.66" fill="#3030ea" fill-opacity="0.33"/>
<ellipse cx="84.3" cy="66.0" rx="0.98" ry="0.64" fill="#3030ea" fill-opacity="0.38"/>
<ellipse cx="76.2" cy="60.1" rx="0.70" ry="0.58" fill="#3030ea" fill-opacity="0.37"/>
<ellipse cx="83.8" cy="58.2" rx="0.77" ry="0.66" fill="#3030ea" fill-opacity="0.38"/>
<ellipse cx="71.7" cy="59.1" rx="0.91" ry="0.81" fill="#3030ea" fill-opacity="0.35"/>
<ellipse cx="71.8" cy="57.1" rx="1.18" ry="0.96" fill="#3030ea" fill-opacity="0.39"/>
<ellipse cx="82.2" cy="63.5" rx="1.08" ry="0.80" fill="#3030ea" fill-opacity="0.37"/>
<ellipse cx="69.5" cy="62.2" rx="1.01" ry="0.81" fill="#3030ea" fill-opacity="0.27"/>
<ellipse cx="68.5" cy="58.1" rx="1.04" ry="0.70" fill="#3030ea" fill-opacity="0.14"/>
<ellipse cx="74.0" cy="58.3" rx="0.52" ry="0.42" fill="#3030ea" fill-opacity="0.16"/>
<ellipse cx="81.0" cy="57.8" rx="1.16" ry="0.92" fill="#3030ea" fill-opacity="0.31"/>
<ellipse cx="85.1" cy="66.1" rx="0.82" ry="0.59" fill="#3030ea" fill-opacity="0.18"/>
<ellipse cx="81.1" cy="60.0" rx="1.07" ry="0.89" fill="#3030ea" fill-opacity="0.27"/>
<ellipse cx="73.6" cy="62.8" rx="1.12" ry="0.77" fill="#3030ea" fill-opacity="0.36"/>
<ellipse cx="83.3" cy="56.3" rx="0.86" ry="0.58" fill="#3030ea" fill-opacity="0.27"/>
<ellipse cx="77.6" cy="61.5" rx="0.42" ry="0.42" fill="#3030ea" fill-opacity="0.29"/>
<ellipse cx="77.3" cy="62.6" rx="0.85" ry="0.68" fill="#3030ea" fill-opacity="0.34"/>
<ellipse cx="80.4" cy="66.3" rx="0.73" ry="0.72" fill="#3030ea" fill-opacity="0.27"/>
<ellipse cx="84.6" cy="64.0" rx="0.50" ry="0.39" fill="#3030ea" fill-opacity="0.25"/>
<ellipse cx="82.7" cy="57.1" rx="0.65" ry="0.44" fill="#3030ea" fill-opacity="0.25"/>
<ellipse cx="79.1" cy="56.8" rx="1.02" ry="0.62" fill="#3030ea" fill-opacity="0.16"/>
<ellipse cx="71.5" cy="64.5" rx="0.66" ry="0.49" fill="#3030ea" fill-opacity="0.31"/>
<ellipse cx="79.2" cy="65.8" rx="0.50" ry="0.40" fill="#3030ea" fill-opacity="0.32"/>
<ellipse cx="72.5" cy="64.8" rx="0.75" ry="0.56" fill="#3030ea" fill-opacity="0.27"/>
<ellipse cx="75.4" cy="61.2" rx="0.56" ry="0.48" fill="#3030ea" fill-opacity="0.16"/>
<ellipse cx="79.5" cy="61.2" rx="0.89" ry="0.84" fill="#3030ea" fill-opacity="0.36"/>
<ellipse cx="72.2" cy="58.9" rx="1.12" ry="0.82" fill="#3030ea" fill-opacity="0.35"/>
<ellipse cx="73.7" cy="56.8" rx="1.20" ry="1.14" fill="#3030ea" fill-opacity="0.18"/>
<ellipse cx="70.4" cy="64.4" rx="0.61" ry="0.39" fill="#3030ea" fill-opacity="0.32"/>
<ellipse cx="83.0" cy="62.4" rx="0.50" ry="0.38" fill="#3030ea" fill-opacity="0.34"/>
<ellipse cx="80.3" cy="66.8" rx="0.95" ry="0.91" fill="#3030ea" fill-opacity="0.18"/>
<ellipse cx="85.4" cy="65.7" rx="1.01" ry="0.81" fill="#3030ea" fill-opacity="0.26"/>
<ellipse cx="80.3" cy="64.9" rx="0.48" ry="0.30" fill="#3030ea" fill-opacity="0.14"/>
<ellipse cx="77.9" cy="61.3" rx="0.52" ry="0.35" fill="#3030ea" fill-opacity="0.28"/>
<ellipse cx="71.7" cy="57.8" rx="1.14" ry="0.73" fill="#3030ea" fill-opacity="0.40"/>
<ellipse cx="69.1" cy="56.5" rx="1.01" ry="0.74" fill="#3030ea" fill-opacity="0.25"/>
<ellipse cx="76.4" cy="61.3" rx="0.88" ry="0.53" fill="#3030ea" fill-opacity="0.24"/>
<ellipse cx="80.6" cy="57.7" rx="0.76" ry="0.68" fill="#3030ea" fill-opacity="0.17"/>
<ellipse cx="75.3" cy="64.9" rx="0.81" ry="0.49" fill="#3030ea" fill-opacity="0.17"/>
<ellipse cx="84.1" cy="58.2" rx="1.09" ry="0.93" fill="#3030ea" fill-opacity="0.32"/>
<ellipse cx="75.3" cy="60.4" rx="1.19" ry="1.09" fill="#3030ea" fill-opacity="0.26"/>
<ellipse cx="72.6" cy="57.0" rx="1.02" ry="0.95" fill="#3030ea" fill-opacity="0.33"/>
<ellipse cx="75.3" cy="57.1" rx="0.96" ry="0.87" fill="#3030ea" fill-opacity="0.37"/>
<ellipse cx="81.8" cy="62.5" rx="0.46" ry="0.34" fill="#3030ea" fill-opacity="0.32"/>
<ellipse cx="76.4" cy="66.9" rx="0.91" ry="0.77" fill="#3030ea" fill-opacity="0.22"/>
<ellipse cx="72.2" cy="56.6" rx="0.67" ry="0.58" fill="#3030ea" fill-opacity="0.31"/>
<ellipse cx="78.3" cy="61.1" rx="1.20" ry="1.03" fill="#3030ea" fill-opacity="0.23"/>
<ellipse cx="80.6" cy="58.6" rx="0.42" ry="0.35" fill="#3030ea" fill-opacity="0.39"/>
<ellipse cx="81.3" cy="64.2" rx="0.44" ry="0.30" fill="#3030ea" fill-opacity="0.23"/>
<ellipse cx="74.8" cy="65.9" rx="1.12" ry="0.92" fill="#3030ea" fill-opacity="0.19"/>
<ellipse cx="77.1" cy="56.4" rx="1.20" ry="1.02" fill="#3030ea" fill-opacity="0.28"/>
<ellipse cx="82.6" cy="66.2" rx="1.01" ry="0.62" fill="#3030ea" fill-opacity="0.29"/>
<ellipse cx="84.7" cy="65.2" rx="0.54" ry="0.43" fill="#3030ea" fill-opacity="0.25"/>
<ellipse cx="79.0" cy="66.4" rx="0.74" ry="0.60" fill="#3030ea" fill-opacity="0.38"/>
<ellipse cx="78.8" cy="63.0" rx="0.92" ry="0.76" fill="#3030ea" fill-opacity="0.20"/>
<ellipse cx="73.1" cy="59.1" rx="0.41" ry="0.29" fill="#3030ea" fill-opacity="0.20"/>
<ellipse cx="68.8" cy="65.3" rx="0.71" ry="0.68" fill="#3030ea" fill-opacity="0.33"/>
<ellipse cx="81.5" cy="66.4" rx="1.16" ry="0.73" fill="#3030ea" fill-opacity="0.40"/>
<ellipse cx="84.3" cy="62.3" rx="1.18" ry="0.82" fill="#3030ea" fill-opacity="0.25"/>
<ellipse cx="77.4" cy="56.7" rx="0.77" ry="0.77" fill="#3030ea" fill-opacity="0.32"/>
<ellipse cx="82.7" cy="60.4" rx="0.90" ry="0.70" fill="#3030ea" fill-opacity="0.15"/>
<ellipse cx="71.7" cy="66.4" rx="0.50" ry="0.39" fill="#3030ea" fill-opacity="0.27"/>
<ellipse cx="80.0" cy="62.0" rx="0.87" ry="0.66" fill="#3030ea" fill-opacity="0.19"/>
<ellipse cx="82.0" cy="61.2" rx="1.16" ry="1.04" fill="#3030ea" fill-opacity="0.40"/>
<ellipse cx="72.3" cy="65.7" rx="1.03" ry="0.87" fill="#3030ea" fill-opacity="0.37"/>
<ellipse cx="77.0" cy="74.5" rx="0.85" ry="0.71" fill="#3838ec" fill-opacity="0.39"/>
<ellipse cx="80.9" cy="68.2" rx="0.60" ry="0.59" fill="#3838ec" fill-opacity="0.22"/>
<ellipse cx="84.8" cy="66.6" rx="0.45" ry="0.32" fill="#3838ec" fill-opacity="0.16"/>
<ellipse cx="78.0" cy="69.9" rx="0.83" ry="0.52" fill="#3838ec" fill-opacity="0.19"/>
<ellipse cx="73.2" cy="69.2" rx="0.90" ry="0.68" fill="#3838ec" fill-opacity="0.34"/>
<ellipse cx="78.7" cy="75.3" rx="1.00" ry="0.93" fill="#3838ec" fill-opacity="0.27"/>
<ellipse cx="73.0" cy="76.4" rx="0.90" ry="0.82" fill="#3838ec" fill-opacity="0.43"/>
<ellipse cx="75.0" cy="72.5" rx="1.05" ry="0.78" fill="#3838ec" fill-opacity="0.24"/>
<ellipse cx="81.2" cy="65.1" rx="0.84" ry="0.75" fill="#3838ec" fill-opacity="0.26"/>
<ellipse cx="84.9" cy="72.4" rx="0.48" ry="0.45" fill="#3838ec" fill-opacity="0.28"/>
<ellipse cx="73.1" cy="76.9" rx="0.79" ry="0.69" fill="#3838ec" fill-opacity="0.35"/>
<ellipse cx="76.2" cy="67.9" rx="0.57" ry="0.49" fill="#3838ec" fill-opacity="0.18"/>
<ellipse cx="73.1" cy="74.1" rx="0.96" ry="0.68" fill="#3838ec" fill-opacity="0.40"/>
<ellipse cx="74.0" cy="73.3" rx="0.69" ry="0.45" fill="#3838ec" fill-opacity="0.40"/>
<ellipse cx="81.9" cy="70.6" rx="1.15" ry="1.11" fill="#3838ec" fill-opacity="0.47"/>
<ellipse cx="78.1" cy="67.6" rx="0.65" ry="0.50" fill="#3838ec" fill-opacity="0.26"/>
<ellipse cx="85.1" cy="66.4" rx="0.69" ry="0.51" fill="#3838ec" fill-opacity="0.24"/>
<ellipse cx="77.1" cy="72.9" rx="0.56" ry="0.46" fill="#3838ec" fill-opacity="0.29"/>
<ellipse cx="83.2" cy="71.0" rx="0.85" ry="0.57" fill="#3838ec" fill-opacity="0.44"/>
<ellipse cx="82.6" cy="66.5" rx="0.42" ry="0.34" fill="#3838ec" fill-opacity="0.25"/>
<ellipse cx="79.6" cy="70.6" rx="0.92" ry="0.85" fill="#3838ec" fill-opacity="0.49"/>
<ellipse cx="72.9" cy="70.9" rx="0.47" ry="0.30" fill="#3838ec" fill-opacity="0.43"/>
<ellipse cx="82.3" cy="66.3" rx="0.91" ry="0.60" fill="#3838ec" fill-opacity="0.18"/>
<ellipse cx="82.4" cy="69.6" rx="0.58" ry="0.52" fill="#3838ec" fill-opacity="0.24"/>
<ellipse cx="79.3" cy="68.1" rx="0.67" ry="0.66" fill="#3838ec" fill-opacity="0.29"/>
<ellipse cx="81.4" cy="71.6" rx="0.98" ry="0.86" fill="#3838ec" fill-opacity="0.34"/>
<ellipse cx="84.8" cy="72.7" rx="0.93" ry="0.88" fill="#3838ec" fill-opacity="0.44"/>
<ellipse cx="83.3" cy="67.2" rx="1.17" ry="1.00" fill="#3838ec" fill-opacity="0.46"/>
<ellipse cx="79.3" cy="68.8" rx="0.74" ry="0.57" fill="#3838ec" fill-opacity="0.43"/>
<ellipse cx="74.0" cy="68.4" rx="0.70" ry="0.47" fill="#3838ec" fill-opacity="0.50"/>
<ellipse cx="74.9" cy="72.5" rx="1.18" ry="0.73" fill="#3838ec" fill-opacity="0.25"/>
<ellipse cx="76.3" cy="76.5" rx="1.02" ry="0.69" fill="#3838ec" fill-opacity="0.38"/>
<ellipse cx="72.9" cy="72.0" rx="1.13" ry="0.69" fill="#3838ec" fill-opacity="0.35"/>
<ellipse cx="73.5" cy="75.6" rx="0.59" ry="0.52" fill="#3838ec" fill-opacity="0.23"/>
<ellipse cx="80.3" cy="75.1" rx="0.62" ry="0.42" fill="#3838ec" fill-opacity="0.21"/>
<ellipse cx="82.6" cy="73.9" rx="1.05" ry="0.83" fill="#3838ec" fill-opacity="0.34"/>
<ellipse cx="75.6" cy="66.5" rx="0.67" ry="0.55" fill="#3838ec" fill-opacity="0.47"/>
<ellipse cx="85.4" cy="71.7" rx="0.44" ry="0.43" fill="#3838ec" fill-opacity="0.23"/>
<ellipse cx="83.2" cy="73.0" rx="0.81" ry="0.58" fill="#3838ec" fill-opacity="0.33"/>
<ellipse cx="85.9" cy="69.5" rx="0.41" ry="0.32" fill="#3838ec" fill-opacity="0.23"/>
<ellipse cx="77.2" cy="67.6" rx="0.88" ry="0.59" fill="#3838ec" fill-opacity="0.40"/>
<ellipse cx="74.2" cy="73.8" rx="1.10" ry="0.88" fill="#3838ec" fill-opacity="0.24"/>
<ellipse cx="80.9" cy="65.1" rx="0.83" ry="0.55" fill="#3838ec" fill-opacity="0.24"/>
<ellipse cx="82.8" cy="78.0" rx="1.08" ry="1.00" fill="#3838ec" fill-opacity="0.44"/>
<ellipse cx="73.2" cy="74.5" rx="0.48" ry="0.38" fill="#3838ec" fill-opacity="0.40"/>
<ellipse cx="78.6" cy="65.6" rx="1.09" ry="0.78" fill="#3838ec" fill-opacity="0.36"/>
<ellipse cx="83.1" cy="72.6" rx="0.47" ry="0.44" fill="#3838ec" fill-opacity="0.47"/>
<ellipse cx="74.9" cy="70.9" rx="0.53" ry="0.49" fill="#3838ec" fill-opacity="0.33"/>
<ellipse cx="76.4" cy="74.0" rx="0.64" ry="0.51" fill="#3838ec" fill-opacity="0.18"/>
<ellipse cx="82.0" cy="73.3" rx="0.48" ry="0.37" fill="#3838ec" fill-opacity="0.39"/>
<ellipse cx="78.5" cy="65.4" rx="0.92" ry="0.56" fill="#3838ec" fill-opacity="0.44"/>
<ellipse cx="77.3" cy="68.8" rx="0.85" ry="0.67" fill="#3838ec" fill-opacity="0.23"/>
<ellipse cx="72.1" cy="65.1" rx="0.57" ry="0.48" fill="#3838ec" fill-opacity="0.43"/>
<ellipse cx="76.1" cy="73.1" rx="0.64" ry="0.47" fill="#3838ec" fill-opacity="0.34"/>
<ellipse cx="77.5" cy="69.3" rx="0.56" ry="0.50" fill="#3838ec" fill-opacity="0.24"/>
<ellipse cx="76.6" cy="65.7" rx="0.98" ry="0.72" fill="#3838ec" fill-opacity="0.35"/>
<ellipse cx="83.6" cy="76.8" rx="0.48" ry="0.41" fill="#3838ec" fill-opacity="0.20"/>
<ellipse cx="81.9" cy="75.7" rx="1.07" ry="0.90" fill="#3838ec" fill-opacity="0.29"/>
<ellipse cx="73.3" cy="75.1" rx="0.50" ry="0.38" fill="#3838ec" fill-opacity="0.20"/>
<ellipse cx="73.0" cy="66.0" rx="0.81" ry="0.70" fill="#3838ec" fill-opacity="0.30"/>
<ellipse cx="82.7" cy="67.3" rx="0.67" ry="0.51" fill="#3838ec" fill-opacity="0.29"/>
<ellipse cx="72.2" cy="72.8" rx="1.19" ry="1.09" fill="#3838ec" fill-opacity="0.39"/>
<ellipse cx="81.2" cy="70.1" rx="0.66" ry="0.49" fill="#3838ec" fill-opacity="0.16"/>
<ellipse cx="81.1" cy="76.6" rx="0.81" ry="0.74" fill="#3838ec" fill-opacity="0.28"/>
<ellipse cx="83.6" cy="70.1" rx="1.01" ry="0.97" fill="#3838ec" fill-opacity="0.21"/>
<ellipse cx="79.7" cy="73.4" rx="0.51" ry="0.45" fill="#3838ec" fill-opacity="0.33"/>
<ellipse cx="85.8" cy="71.3" rx="1.07" ry="0.73" fill="#3838ec" fill-opacity="0.40"/>
<ellipse cx="85.2" cy="69.8" rx="0.47" ry="0.33" fill="#3838ec" fill-opacity="0.22"/>
<ellipse cx="80.1" cy="68.9" rx="1.14" ry="0.85" fill="#3838ec" fill-opacity="0.27"/>
<ellipse cx="78.5" cy="76.4" rx="0.51" ry="0.49" fill="#3838ec" fill-opacity="0.49"/>
<ellipse cx="54.3" cy="55.1" rx="0.74" ry="0.71" fill="#3030ea" fill-opacity="0.40"/>
<ellipse cx="62.9" cy="52.1" rx="0.61" ry="0.57" fill="#3030ea" fill-opacity="0.41"/>
<ellipse cx="49.5" cy="51.2" rx="1.02" ry="0.95" fill="#3030ea" fill-opacity="0.28"/>
<ellipse cx="47.5" cy="55.2" rx="0.53" ry="0.36" fill="#3030ea" fill-opacity="0.23"/>
<ellipse cx="62.8" cy="50.7" rx="0.78" ry="0.67" fill="#3030ea" fill-opacity="0.43"/>
<ellipse cx="58.0" cy="57.1" rx="1.22" ry="0.74" fill="#3030ea" fill-opacity="0.41"/>
<ellipse cx="47.8" cy="56.1" rx="0.85" ry="0.70" fill="#3030ea" fill-opacity="0.25"/>
<ellipse cx="47.3" cy="55.5" rx="1.01" ry="0.74" fill="#3030ea" fill-opacity="0.29"/>
<ellipse cx="56.2" cy="61.1" rx="0.63" ry="0.62" fill="#3030ea" fill-opacity="0.43"/>
<ellipse cx="55.4" cy="56.1" rx="1.06" ry="0.93" fill="#3030ea" fill-opacity="0.34"/>
<ellipse cx="58.4" cy="52.9" rx="1.40" ry="1.30" fill="#3030ea" fill-opacity="0.37"/>
<ellipse cx="60.2" cy="56.8" rx="1.01" ry="0.97" fill="#3030ea" fill-opacity="0.35"/>
<ellipse cx="54.0" cy="55.5" rx="1.31" ry="0.96" fill="#3030ea" fill-opacity="0.35"/>
<ellipse cx="45.0" cy="53.2" rx="1.16" ry="0.97" fill="#3030ea" fill-opacity="0.52"/>
<ellipse cx="58.3" cy="58.0" rx="0.56" ry="0.37" fill="#3030ea" fill-opacity="0.41"/>
<ellipse cx="52.5" cy="55.7" rx="0.55" ry="0.48" fill="#3030ea" fill-opacity="0.34"/>
<ellipse cx="54.0" cy="58.7" rx="0.86" ry="0.59" fill="#3030ea" fill-opacity="0.31"/>
<ellipse cx="45.3" cy="51.0" rx="1.10" ry="1.04" fill="#3030ea" fill-opacity="0.54"/>
<ellipse cx="52.0" cy="52.2" rx="1.17" ry="0.97" fill="#3030ea" fill-opacity="0.28"/>
<ellipse cx="61.2" cy="60.4" rx="0.61" ry="0.50" fill="#3030ea" fill-opacity="0.48"/>
<ellipse cx="62.1" cy="61.5" rx="0.77" ry="0.56" fill="#3030ea" fill-opacity="0.29"/>
<ellipse cx="45.2" cy="51.2" rx="0.86" ry="0.64" fill="#3030ea" fill-opacity="0.49"/>
<ellipse cx="55.1" cy="61.0" rx="1.31" ry="0.95" fill="#3030ea" fill-opacity="0.21"/>
<ellipse cx="53.5" cy="50.8" rx="0.93" ry="0.63" fill="#3030ea" fill-opacity="0.54"/>
<ellipse cx="49.6" cy="50.9" rx="0.68" ry="0.63" fill="#3030ea" fill-opacity="0.51"/>
<ellipse cx="50.7" cy="56.1" rx="1.29" ry="1.29" fill="#3030ea" fill-opacity="0.26"/>
<ellipse cx="47.8" cy="54.2" rx="1.29" ry="0.80" fill="#3030ea" fill-opacity="0.27"/>
<ellipse cx="46.0" cy="53.2" rx="1.31" ry="1.24" fill="#3030ea" fill-opacity="0.31"/>
<ellipse cx="57.5" cy="59.9" rx="1.34" ry="1.05" fill="#3030ea" fill-opacity="0.44"/>
<ellipse cx="45.5" cy="58.9" rx="1.14" ry="0.77" fill="#3030ea" fill-opacity="0.31"/>
<ellipse cx="47.4" cy="58.8" rx="1.21" ry="0.91" fill="#3030ea" fill-opacity="0.43"/>
<ellipse cx="56.6" cy="51.3" rx="0.71" ry="0.51" fill="#3030ea" fill-opacity="0.41"/>
<ellipse cx="61.6" cy="53.8" rx="1.08" ry="0.68" fill="#3030ea" fill-opacity="0.30"/>
<ellipse cx="62.7" cy="56.4" rx="0.98" ry="0.60" fill="#3030ea" fill-opacity="0.38"/>
<ellipse cx="55.4" cy="58.2" rx="1.22" ry="0.78" fill="#3030ea" fill-opacity="0.29"/>
<ellipse cx="49.4" cy="52.8" rx="0.75" ry="0.62" fill="#3030ea" fill-opacity="0.29"/>
<ellipse cx="47.5" cy="51.2" rx="0.53" ry="0.42" fill="#3030ea" fill-opacity="0.55"/>
<ellipse cx="58.3" cy="57.1" rx="0.95" ry="0.64" fill="#3030ea" fill-opacity="0.53"/>
<ellipse cx="54.6" cy="54.1" rx="1.09" ry="1.00" fill="#3030ea" fill-opacity="0.33"/>
<ellipse cx="53.8" cy="55.7" rx="1.12" ry="0.90" fill="#3030ea" fill-opacity="0.50"/>
<ellipse cx="62.1" cy="59.5" rx="0.65" ry="0.55" fill="#3030ea" fill-opacity="0.47"/>
<ellipse cx="48.5" cy="56.4" rx="1.21" ry="1.11" fill="#3030ea" fill-opacity="0.47"/>
<ellipse cx="48.5" cy="55.9" rx="1.02" ry="0.82" fill="#3030ea" fill-opacity="0.28"/>
<ellipse cx="44.7" cy="54.6" rx="1.02" ry="0.96" fill="#3030ea" fill-opacity="0.45"/>
<ellipse cx="47.4" cy="59.8" rx="0.95" ry="0.73" fill="#3030ea" fill-opacity="0.21"/>
<ellipse cx="52.4" cy="58.5" rx="0.57" ry="0.54" fill="#3030ea" fill-opacity="0.48"/>
<ellipse cx="54.8" cy="55.3" rx="0.71" ry="0.47" fill="#3030ea" fill-opacity="0.48"/>
<ellipse cx="49.9" cy="61.0" rx="1.06" ry="0.86" fill="#3030ea" fill-opacity="0.31"/>
<ellipse cx="49.0" cy="54.7" rx="1.24" ry="0.83" fill="#3030ea" fill-opacity="0.23"/>
<ellipse cx="48.8" cy="59.7" rx="1.25" ry="1.14" fill="#3030ea" fill-opacity="0.44"/>
<ellipse cx="45.2" cy="56.8" rx="0.69" ry="0.69" fill="#3030ea" fill-opacity="0.33"/>
<ellipse cx="44.8" cy="55.9" rx="1.39" ry="0.91" fill="#3030ea" fill-opacity="0.47"/>
<ellipse cx="52.7" cy="52.9" rx="0.72" ry="0.69" fill="#3030ea" fill-opacity="0.21"/>
<ellipse cx="46.7" cy="57.0" rx="0.88" ry="0.56" fill="#3030ea" fill-opacity="0.30"/>
<ellipse cx="44.7" cy="50.0" rx="1.16" ry="0.80" fill="#3030ea" fill-opacity="0.47"/>
<ellipse cx="48.8" cy="55.2" rx="0.92" ry="0.89" fill="#3030ea" fill-opacity="0.28"/>
<ellipse cx="50.9" cy="57.6" rx="1.05" ry="0.65" fill="#3030ea" fill-opacity="0.54"/>
<ellipse cx="51.7" cy="54.0" rx="0.81" ry="0.71" fill="#3030ea" fill-opacity="0.22"/>
<ellipse cx="60.4" cy="54.7" rx="0.92" ry="0.69" fill="#3030ea" fill-opacity="0.51"/>
<ellipse cx="60.0" cy="57.1" rx="0.69" ry="0.51" fill="#3030ea" fill-opacity="0.47"/>
<ellipse cx="47.5" cy="55.2" rx="0.68" ry="0.47" fill="#3030ea" fill-opacity="0.26"/>
<ellipse cx="52.9" cy="58.0" rx="1.39" ry="1.22" fill="#3030ea" fill-opacity="0.36"/>
<ellipse cx="60.4" cy="59.1" rx="0.57" ry="0.50" fill="#3030ea" fill-opacity="0.33"/>
<ellipse cx="50.9" cy="58.3" rx="0.66" ry="0.47" fill="#3030ea" fill-opacity="0.21"/>
<ellipse cx="51.5" cy="50.9" rx="0.74" ry="0.55" fill="#3030ea" fill-opacity="0.45"/>
<ellipse cx="46.9" cy="50.7" rx="1.19" ry="1.06" fill="#3030ea" fill-opacity="0.33"/>
<ellipse cx="61.2" cy="61.3" rx="0.85" ry="0.54" fill="#3030ea" fill-opacity="0.31"/>
<ellipse cx="60.8" cy="57.8" rx="0.97" ry="0.60" fill="#3030ea" fill-opacity="0.47"/>
<ellipse cx="51.5" cy="58.8" rx="0.64" ry="0.53" fill="#3030ea" fill-opacity="0.21"/>
<ellipse cx="44.6" cy="57.9" rx="0.99" ry="0.65" fill="#3030ea" fill-opacity="0.35"/>
<ellipse cx="57.4" cy="58.5" rx="1.10" ry="0.72" fill="#3030ea" fill-opacity="0.45"/>
<ellipse cx="47.9" cy="58.3" rx="0.86" ry="0.65" fill="#3030ea" fill-opacity="0.45"/>
<ellipse cx="60.5" cy="58.9" rx="0.81" ry="0.56" fill="#3030ea" fill-opacity="0.30"/>
<ellipse cx="44.8" cy="61.2" rx="1.01" ry="0.93" fill="#3030ea" fill-opacity="0.42"/>
<ellipse cx="62.5" cy="58.1" rx="1.33" ry="0.91" fill="#3030ea" fill-opacity="0.43"/>
<ellipse cx="57.1" cy="53.8" rx="1.28" ry="0.89" fill="#3030ea" fill-opacity="0.53"/>
<ellipse cx="56.0" cy="60.5" rx="0.85" ry="0.53" fill="#3030ea" fill-opacity="0.35"/>
<ellipse cx="51.3" cy="57.7" rx="0.75" ry="0.50" fill="#3030ea" fill-opacity="0.37"/>
<ellipse cx="51.6" cy="56.0" rx="1.10" ry="0.76" fill="#3030ea" fill-opacity="0.26"/>
<ellipse cx="45.8" cy="57.6" rx="0.64" ry="0.53" fill="#3030ea" fill-opacity="0.35"/>
<ellipse cx="57.3" cy="55.1" rx="0.52" ry="0.39" fill="#3030ea" fill-opacity="0.45"/>
<ellipse cx="50.9" cy="60.8" rx="0.55" ry="0.44" fill="#3030ea" fill-opacity="0.34"/>
<ellipse cx="55.1" cy="56.1" rx="0.73" ry="0.44" fill="#3030ea" fill-opacity="0.31"/>
<ellipse cx="50.6" cy="51.2" rx="0.74" ry="0.64" fill="#3030ea" fill-opacity="0.40"/>
<ellipse cx="47.5" cy="56.1" rx="1.36" ry="1.01" fill="#3030ea" fill-opacity="0.42"/>
<ellipse cx="54.9" cy="50.7" rx="1.06" ry="0.90" fill="#3030ea" fill-opacity="0.47"/>
<ellipse cx="51.8" cy="56.7" rx="1.25" ry="1.19" fill="#3030ea" fill-opacity="0.30"/>
<ellipse cx="51.3" cy="51.0" rx="0.62" ry="0.50" fill="#3030ea" fill-opacity="0.21"/>
<ellipse cx="49.9" cy="57.4" rx="0.63" ry="0.43" fill="#3030ea" fill-opacity="0.54"/>
<ellipse cx="48.3" cy="53.7" rx="0.50" ry="0.41" fill="#3030ea" fill-opacity="0.28"/>
<ellipse cx="51.5" cy="58.7" rx="1.09" ry="0.89" fill="#3030ea" fill-opacity="0.37"/>
<ellipse cx="55.9" cy="55.1" rx="1.37" ry="1.01" fill="#3030ea" fill-opacity="0.49"/>
<ellipse cx="50.6" cy="51.3" rx="1.14" ry="1.00" fill="#3030ea" fill-opacity="0.31"/>
<ellipse cx="57.0" cy="50.4" rx="0.64" ry="0.55" fill="#3030ea" fill-opacity="0.49"/>
<ellipse cx="53.3" cy="55.0" rx="0.76" ry="0.68" fill="#3030ea" fill-opacity="0.33"/>
<ellipse cx="54.1" cy="58.8" rx="0.79" ry="0.53" fill="#3030ea" fill-opacity="0.29"/>
<ellipse cx="53.8" cy="60.1" rx="0.56" ry="0.36" fill="#3030ea" fill-opacity="0.22"/>
<ellipse cx="57.4" cy="60.2" rx="1.19" ry="0.95" fill="#3030ea" fill-opacity="0.36"/>
<ellipse cx="47.1" cy="51.5" rx="0.55" ry="0.38" fill="#3030ea" fill-opacity="0.50"/>
<ellipse cx="53.6" cy="52.3" rx="1.14" ry="0.80" fill="#3030ea" fill-opacity="0.34"/>
<ellipse cx="57.6" cy="57.7" rx="1.18" ry="1.11" fill="#3030ea" fill-opacity="0.32"/>
<ellipse cx="59.7" cy="55.0" rx="1.14" ry="0.96" fill="#3030ea" fill-opacity="0.35"/>
<ellipse cx="59.8" cy="52.3" rx="0.84" ry="0.73" fill="#3030ea" fill-opacity="0.24"/>
<ellipse cx="48.4" cy="59.4" rx="1.03" ry="1.00" fill="#3030ea" fill-opacity="0.20"/>
<ellipse cx="62.4" cy="60.0" rx="0.88" ry="0.75" fill="#3030ea" fill-opacity="0.44"/>
<ellipse cx="51.5" cy="50.8" rx="0.54" ry="0.48" fill="#3030ea" fill-opacity="0.55"/>
<ellipse cx="46.2" cy="61.0" rx="1.16" ry="1.16" fill="#3030ea" fill-opacity="0.30"/>
<ellipse cx="46.3" cy="57.7" rx="0.99" ry="0.78" fill="#3030ea" fill-opacity="0.21"/>
<ellipse cx="51.1" cy="57.9" rx="1.25" ry="0.90" fill="#3030ea" fill-opacity="0.48"/>
<ellipse cx="51.4" cy="54.4" rx="1.38" ry="1.05" fill="#3030ea" fill-opacity="0.47"/>
<ellipse cx="57.2" cy="55.2" rx="0.63" ry="0.42" fill="#3030ea" fill-opacity="0.48"/>
<ellipse cx="46.0" cy="50.8" rx="0.94" ry="0.61" fill="#3030ea" fill-opacity="0.29"/>
<ellipse cx="50.1" cy="61.3" rx="0.63" ry="0.53" fill="#3030ea" fill-opacity="0.40"/>
<ellipse cx="49.2" cy="58.9" rx="0.83" ry="0.58" fill="#3030ea" fill-opacity="0.37"/>
<ellipse cx="45.0" cy="60.8" rx="0.78" ry="0.49" fill="#3030ea" fill-opacity="0.51"/>
<ellipse cx="47.5" cy="55.9" rx="0.68" ry="0.65" fill="#3030ea" fill-opacity="0.55"/>
<ellipse cx="53.2" cy="56.7" rx="0.86" ry="0.53" fill="#3030ea" fill-opacity="0.48"/>
<ellipse cx="54.5" cy="53.9" rx="0.75" ry="0.73" fill="#3030ea" fill-opacity="0.42"/>
<ellipse cx="60.4" cy="50.1" rx="1.25" ry="1.11" fill="#3030ea" fill-opacity="0.36"/>
<ellipse cx="47.3" cy="61.2" rx="0.61" ry="0.38" fill="#3030ea" fill-opacity="0.26"/>
<ellipse cx="41.6" cy="62.7" rx="0.81" ry="0.49" fill="#3838ec" fill-opacity="0.22"/>
<ellipse cx="39.9" cy="59.6" rx="0.82" ry="0.76" fill="#3838ec" fill-opacity="0.12"/>
<ellipse cx="46.6" cy="63.0" rx="1.04" ry="0.97" fill="#3838ec" fill-opacity="0.25"/>
<ellipse cx="46.3" cy="59.2" rx="1.16" ry="0.88" fill="#3838ec" fill-opacity="0.15"/>
<ellipse cx="45.6" cy="70.2" rx="0.42" ry="0.35" fill="#3838ec" fill-opacity="0.42"/>
<ellipse cx="40.1" cy="68.2" rx="0.93" ry="0.86" fill="#3838ec" fill-opacity="0.24"/>
<ellipse cx="41.7" cy="64.4" rx="0.62" ry="0.60" fill="#3838ec" fill-opacity="0.24"/>
<ellipse cx="41.2" cy="72.6" rx="0.99" ry="0.68" fill="#3838ec" fill-opacity="0.23"/>
<ellipse cx="46.0" cy="65.8" rx="0.54" ry="0.35" fill="#3838ec" fill-opacity="0.34"/>
<ellipse cx="39.1" cy="68.7" rx="0.41" ry="0.33" fill="#3838ec" fill-opacity="0.26"/>
<ellipse cx="42.1" cy="69.2" rx="1.16" ry="0.79" fill="#3838ec" fill-opacity="0.30"/>
<ellipse cx="47.6" cy="69.2" rx="0.49" ry="0.48" fill="#3838ec" fill-opacity="0.37"/>
<ellipse cx="42.4" cy="59.6" rx="0.73" ry="0.64" fill="#3838ec" fill-opacity="0.19"/>
<ellipse cx="39.5" cy="69.9" rx="1.16" ry="0.84" fill="#3838ec" fill-opacity="0.34"/>
<ellipse cx="39.6" cy="68.6" rx="0.52" ry="0.44" fill="#3838ec" fill-opacity="0.45"/>
<ellipse cx="41.8" cy="64.3" rx="0.89" ry="0.85" fill="#3838ec" fill-opacity="0.19"/>
<ellipse cx="47.3" cy="64.6" rx="0.85" ry="0.55" fill="#3838ec" fill-opacity="0.29"/>
<ellipse cx="47.1" cy="63.7" rx="0.93" ry="0.72" fill="#3838ec" fill-opacity="0.27"/>
<ellipse cx="41.9" cy="70.5" rx="0.86" ry="0.69" fill="#3838ec" fill-opacity="0.32"/>
<ellipse cx="37.9" cy="64.6" rx="0.87" ry="0.73" fill="#3838ec" fill-opacity="0.27"/>
<ellipse cx="48.2" cy="71.7" rx="1.19" ry="1.07" fill="#3838ec" fill-opacity="0.27"/>
<ellipse cx="41.1" cy="62.9" rx="0.72" ry="0.68" fill="#3838ec" fill-opacity="0.45"/>
<ellipse cx="39.0" cy="59.1" rx="0.59" ry="0.55" fill="#3838ec" fill-opacity="0.28"/>
<ellipse cx="45.0" cy="59.9" rx="1.04" ry="0.84" fill="#3838ec" fill-opacity="0.39"/>
<ellipse cx="48.9" cy="73.0" rx="0.97" ry="0.68" fill="#3838ec" fill-opacity="0.41"/>
<ellipse cx="46.8" cy="67.2" rx="1.09" ry="0.74" fill="#3838ec" fill-opacity="0.30"/>
<ellipse cx="40.7" cy="64.3" rx="0.84" ry="0.77" fill="#3838ec" fill-opacity="0.14"/>
<ellipse cx="43.1" cy="70.4" rx="1.08" ry="0.98" fill="#3838ec" fill-opacity="0.38"/>
<ellipse cx="43.8" cy="60.4" rx="0.52" ry="0.39" fill="#3838ec" fill-opacity="0.38"/>
<ellipse cx="38.7" cy="73.4" rx="1.09" ry="1.02" fill="#3838ec" fill-opacity="0.23"/>
<ellipse cx="38.9" cy="71.3" rx="1.08" ry="0.91" fill="#3838ec" fill-opacity="0.25"/>
<ellipse cx="47.9" cy="72.9" rx="0.57" ry="0.48" fill="#3838ec" fill-opacity="0.45"/>
<ellipse cx="47.6" cy="63.1" rx="0.93" ry="0.72" fill="#3838ec" fill-opacity="0.19"/>
<ellipse cx="37.7" cy="68.9" rx="0.90" ry="0.64" fill="#3838ec" fill-opacity="0.22"/>
<ellipse cx="44.4" cy="63.6" rx="0.50" ry="0.44" fill="#3838ec" fill-opacity="0.18"/>
<ellipse cx="42.9" cy="72.1" rx="1.15" ry="0.97" fill="#3838ec" fill-opacity="0.16"/>
<ellipse cx="41.6" cy="71.1" rx="0.95" ry="0.85" fill="#3838ec" fill-opacity="0.45"/>
<ellipse cx="41.6" cy="69.3" rx="0.52" ry="0.44" fill="#3838ec" fill-opacity="0.25"/>
<ellipse cx="42.4" cy="61.7" rx="0.77" ry="0.61" fill="#3838ec" fill-opacity="0.25"/>
<ellipse cx="48.3" cy="68.8" rx="0.59" ry="0.49" fill="#3838ec" fill-opacity="0.35"/>
<ellipse cx="40.8" cy="60.9" rx="1.08" ry="0.94" fill="#3838ec" fill-opacity="0.21"/>
<ellipse cx="42.7" cy="60.0" rx="0.99" ry="0.84" fill="#3838ec" fill-opacity="0.25"/>
<ellipse cx="42.7" cy="73.0" rx="0.63" ry="0.49" fill="#3838ec" fill-opacity="0.26"/>
<ellipse cx="48.5" cy="69.6" rx="0.94" ry="0.65" fill="#3838ec" fill-opacity="0.35"/>
<ellipse cx="42.2" cy="72.0" rx="0.60" ry="0.46" fill="#3838ec" fill-opacity="0.42"/>
<ellipse cx="41.4" cy="61.7" rx="0.87" ry="0.71" fill="#3838ec" fill-opacity="0.40"/>
<ellipse cx="38.6" cy="60.6" rx="0.69" ry="0.52" fill="#3838ec" fill-opacity="0.15"/>
<ellipse cx="45.8" cy="64.0" rx="1.12" ry="1.10" fill="#3838ec" fill-opacity="0.23"/>
<ellipse cx="37.8" cy="64.5" rx="0.69" ry="0.54" fill="#3838ec" fill-opacity="0.27"/>
<ellipse cx="41.1" cy="63.9" rx="1.18" ry="1.17" fill="#3838ec" fill-opacity="0.32"/>
<ellipse cx="48.9" cy="68.1" rx="0.92" ry="0.81" fill="#3838ec" fill-opacity="0.39"/>
<ellipse cx="49.0" cy="73.0" rx="0.72" ry="0.62" fill="#3838ec" fill-opacity="0.27"/>
<ellipse cx="40.0" cy="59.2" rx="0.70" ry="0.46" fill="#3838ec" fill-opacity="0.19"/>
<ellipse cx="42.0" cy="62.9" rx="0.53" ry="0.46" fill="#3838ec" fill-opacity="0.15"/>
<ellipse cx="44.7" cy="62.9" rx="1.05" ry="0.94" fill="#3838ec" fill-opacity="0.20"/>
<ellipse cx="46.4" cy="72.2" rx="0.41" ry="0.39" fill="#3838ec" fill-opacity="0.27"/>
<ellipse cx="48.4" cy="60.6" rx="0.68" ry="0.55" fill="#3838ec" fill-opacity="0.13"/>
<ellipse cx="43.6" cy="72.3" rx="0.64" ry="0.51" fill="#3838ec" fill-opacity="0.38"/>
<ellipse cx="38.9" cy="65.5" rx="0.47" ry="0.38" fill="#3838ec" fill-opacity="0.16"/>
<ellipse cx="40.9" cy="62.3" rx="0.73" ry="0.45" fill="#3838ec" fill-opacity="0.20"/>
<ellipse cx="40.0" cy="67.2" rx="0.77" ry="0.72" fill="#3838ec" fill-opacity="0.30"/>
<ellipse cx="38.7" cy="61.2" rx="1.18" ry="0.95" fill="#3838ec" fill-opacity="0.17"/>
<ellipse cx="42.2" cy="64.8" rx="1.17" ry="0.90" fill="#3838ec" fill-opacity="0.41"/>
<ellipse cx="37.6" cy="71.7" rx="0.99" ry="0.87" fill="#3838ec" fill-opacity="0.39"/>
<ellipse cx="39.3" cy="66.0" rx="0.49" ry="0.35" fill="#3838ec" fill-opacity="0.13"/>
<ellipse cx="48.6" cy="64.4" rx="0.44" ry="0.33" fill="#3838ec" fill-opacity="0.40"/>
<ellipse cx="38.4" cy="70.1" rx="1.14" ry="0.83" fill="#3838ec" fill-opacity="0.16"/>
<ellipse cx="43.1" cy="64.2" rx="1.16" ry="0.96" fill="#3838ec" fill-opacity="0.41"/>
<ellipse cx="43.3" cy="60.4" rx="0.64" ry="0.57" fill="#3838ec" fill-opacity="0.25"/>
<ellipse cx="40.5" cy="68.5" rx="0.78" ry="0.58" fill="#3838ec" fill-opacity="0.26"/>
<ellipse cx="42.5" cy="67.2" rx="1.07" ry="0.67" fill="#3838ec" fill-opacity="0.14"/>
<ellipse cx="43.6" cy="65.8" rx="0.58" ry="0.37" fill="#3838ec" fill-opacity="0.25"/>
<ellipse cx="41.8" cy="69.3" rx="0.58" ry="0.53" fill="#3838ec" fill-opacity="0.28"/>
<ellipse cx="43.1" cy="73.9" rx="1.17" ry="0.71" fill="#3838ec" fill-opacity="0.25"/>
<ellipse cx="44.3" cy="59.6" rx="0.88" ry="0.66" fill="#3838ec" fill-opacity="0.24"/>
<ellipse cx="41.0" cy="64.9" rx="0.65" ry="0.52" fill="#3838ec" fill-opacity="0.31"/>
<ellipse cx="43.4" cy="62.7" rx="0.47" ry="0.33" fill="#3838ec" fill-opacity="0.14"/>
<ellipse cx="40.6" cy="62.1" rx="1.09" ry="0.83" fill="#3838ec" fill-opacity="0.26"/>
<ellipse cx="40.8" cy="63.8" rx="1.19" ry="1.11" fill="#3838ec" fill-opacity="0.15"/>
<ellipse cx="41.3" cy="69.2" rx="1.03" ry="0.88" fill="#3838ec" fill-opacity="0.39"/>
<ellipse cx="38.5" cy="63.4" rx="0.90" ry="0.74" fill="#3030ea" fill-opacity="0.21"/>
<ellipse cx="46.3" cy="64.6" rx="1.15" ry="1.03" fill="#3030ea" fill-opacity="0.21"/>
<ellipse cx="43.2" cy="70.9" rx="0.73" ry="0.64" fill="#3030ea" fill-opacity="0.42"/>
<ellipse cx="46.9" cy="61.8" rx="1.03" ry="0.80" fill="#3030ea" fill-opacity="0.22"/>
<ellipse cx="44.8" cy="67.2" rx="0.75" ry="0.49" fill="#3030ea" fill-opacity="0.33"/>
<ellipse cx="40.9" cy="63.7" rx="0.49" ry="0.46" fill="#3030ea" fill-opacity="0.22"/>
<ellipse cx="44.0" cy="65.5" rx="0.49" ry="0.36" fill="#3030ea" fill-opacity="0.23"/>
<ellipse cx="46.6" cy="65.4" rx="0.57" ry="0.44" fill="#3030ea" fill-opacity="0.48"/>
<ellipse cx="42.8" cy="62.6" rx="1.10" ry="0.87" fill="#3030ea" fill-opacity="0.24"/>
<ellipse cx="38.3" cy="66.7" rx="0.94" ry="0.91" fill="#3030ea" fill-opacity="0.31"/>
<ellipse cx="42.4" cy="64.1" rx="1.02" ry="0.66" fill="#3030ea" fill-opacity="0.32"/>
<ellipse cx="44.7" cy="69.3" rx="0.56" ry="0.41" fill="#3030ea" fill-opacity="0.38"/>
<ellipse cx="39.5" cy="67.5" rx="0.82" ry="0.62" fill="#3030ea" fill-opacity="0.38"/>
<ellipse cx="43.2" cy="62.6" rx="0.87" ry="0.69" fill="#3030ea" fill-opacity="0.31"/>
<ellipse cx="46.8" cy="67.7" rx="0.59" ry="0.41" fill="#3030ea" fill-opacity="0.41"/>
<ellipse cx="44.6" cy="65.3" rx="0.45" ry="0.42" fill="#3030ea" fill-opacity="0.28"/>
<ellipse cx="41.4" cy="63.8" rx="0.89" ry="0.74" fill="#3030ea" fill-opacity="0.33"/>
<ellipse cx="46.8" cy="61.9" rx="0.79" ry="0.55" fill="#3030ea" fill-opacity="0.34"/>
<ellipse cx="44.8" cy="70.0" rx="1.08" ry="0.66" fill="#3030ea" fill-opacity="0.29"/>
<ellipse cx="44.3" cy="65.3" rx="0.67" ry="0.44" fill="#3030ea" fill-opacity="0.37"/>
<ellipse cx="46.6" cy="63.4" rx="0.48" ry="0.44" fill="#3030ea" fill-opacity="0.44"/>
<ellipse cx="40.0" cy="69.0" rx="0.89" ry="0.58" fill="#3030ea" fill-opacity="0.36"/>
<ellipse cx="44.9" cy="65.2" rx="1.14" ry="1.00" fill="#3030ea" fill-opacity="0.47"/>
<ellipse cx="41.3" cy="61.5" rx="0.63" ry="0.60" fill="#3030ea" fill-opacity="0.42"/>
<ellipse cx="44.5" cy="68.4" rx="0.42" ry="0.34" fill="#3030ea" fill-opacity="0.27"/>
<ellipse cx="40.3" cy="68.1" rx="0.51" ry="0.40" fill="#3030ea" fill-opacity="0.28"/>
<ellipse cx="40.5" cy="68.1" rx="0.81" ry="0.77" fill="#3030ea" fill-opacity="0.28"/>
<ellipse cx="39.4" cy="62.4" rx="0.89" ry="0.73" fill="#3030ea" fill-opacity="0.46"/>
<ellipse cx="44.6" cy="65.7" rx="1.14" ry="1.03" fill="#3030ea" fill-opacity="0.40"/>
<ellipse cx="40.3" cy="70.5" rx="0.69" ry="0.63" fill="#3030ea" fill-opacity="0.48"/>
<ellipse cx="40.1" cy="66.5" rx="0.98" ry="0.96" fill="#3030ea" fill-opacity="0.31"/>
<ellipse cx="42.6" cy="65.3" rx="0.59" ry="0.57" fill="#3030ea" fill-opacity="0.30"/>
<ellipse cx="39.0" cy="61.6" rx="0.46" ry="0.44" fill="#3030ea" fill-opacity="0.40"/>
<ellipse cx="38.9" cy="65.3" rx="1.19" ry="0.86" fill="#3030ea" fill-opacity="0.24"/>
<ellipse cx="45.8" cy="70.4" rx="0.45" ry="0.28" fill="#3030ea" fill-opacity="0.40"/>
<ellipse cx="43.1" cy="61.2" rx="1.08" ry="0.99" fill="#3030ea" fill-opacity="0.41"/>
<ellipse cx="42.7" cy="70.2" rx="0.55" ry="0.44" fill="#3030ea" fill-opacity="0.36"/>
<ellipse cx="41.2" cy="66.0" rx="0.96" ry="0.74" fill="#3030ea" fill-opacity="0.26"/>
<ellipse cx="42.4" cy="70.2" rx="0.85" ry="0.84" fill="#3030ea" fill-opacity="0.35"/>
<ellipse cx="43.1" cy="69.7" rx="0.67" ry="0.59" fill="#3030ea" fill-opacity="0.29"/>
<ellipse cx="41.1" cy="49.1" rx="1.05" ry="0.99" fill="#4040ee" fill-opacity="0.39"/>
<ellipse cx="41.0" cy="53.4" rx="0.81" ry="0.71" fill="#4040ee" fill-opacity="0.26"/>
<ellipse cx="36.2" cy="50.7" rx="0.46" ry="0.37" fill="#4040ee" fill-opacity="0.38"/>
<ellipse cx="41.4" cy="53.4" rx="1.01" ry="0.99" fill="#4040ee" fill-opacity="0.15"/>
<ellipse cx="27.4" cy="53.4" rx="0.88" ry="0.71" fill="#4040ee" fill-opacity="0.35"/>
<ellipse cx="35.7" cy="50.1" rx="0.40" ry="0.25" fill="#4040ee" fill-opacity="0.35"/>
<ellipse cx="38.9" cy="49.1" rx="0.69" ry="0.50" fill="#4040ee" fill-opacity="0.35"/>
<ellipse cx="32.2" cy="53.4" rx="0.58" ry="0.49" fill="#4040ee" fill-opacity="0.34"/>
<ellipse cx="34.9" cy="52.0" rx="0.72" ry="0.50" fill="#4040ee" fill-opacity="0.31"/>
<ellipse cx="40.2" cy="52.7" rx="0.58" ry="0.46" fill="#4040ee" fill-opacity="0.16"/>
<ellipse cx="38.8" cy="52.0" rx="0.86" ry="0.60" fill="#4040ee" fill-opacity="0.19"/>
<ellipse cx="34.8" cy="52.4" rx="0.53" ry="0.37" fill="#4040ee" fill-opacity="0.37"/>
<ellipse cx="31.5" cy="52.0" rx="0.87" ry="0.80" fill="#4040ee" fill-opacity="0.32"/>
<ellipse cx="35.1" cy="53.1" rx="0.57" ry="0.39" fill="#4040ee" fill-opacity="0.33"/>
<ellipse cx="33.2" cy="49.0" rx="0.65" ry="0.63" fill="#4040ee" fill-opacity="0.22"/>
<ellipse cx="41.9" cy="51.8" rx="0.95" ry="0.87" fill="#4040ee" fill-opacity="0.16"/>
<ellipse cx="32.1" cy="49.9" rx="0.60" ry="0.50" fill="#4040ee" fill-opacity="0.23"/>
<ellipse cx="38.1" cy="51.4" rx="0.41" ry="0.33" fill="#4040ee" fill-opacity="0.35"/>
<ellipse cx="32.7" cy="53.2" rx="0.50" ry="0.34" fill="#4040ee" fill-opacity="0.38"/>
<ellipse cx="40.2" cy="49.2" rx="0.64" ry="0.62" fill="#4040ee" fill-opacity="0.38"/>
<ellipse cx="29.1" cy="50.3" rx="0.53" ry="0.35" fill="#4040ee" fill-opacity="0.38"/>
<ellipse cx="37.2" cy="49.5" rx="1.06" ry="0.83" fill="#4040ee" fill-opacity="0.32"/>
<ellipse cx="32.6" cy="53.0" rx="1.06" ry="0.66" fill="#4040ee" fill-opacity="0.20"/>
<ellipse cx="29.8" cy="51.9" rx="0.61" ry="0.41" fill="#4040ee" fill-opacity="0.13"/>
<ellipse cx="28.8" cy="51.1" rx="0.80" ry="0.72" fill="#4040ee" fill-opacity="0.27"/>
<ellipse cx="72.1" cy="35.8" rx="0.53" ry="0.34" fill="#5050f0" fill-opacity="0.08"/>
<ellipse cx="63.0" cy="38.6" rx="0.70" ry="0.47" fill="#5050f0" fill-opacity="0.24"/>
<ellipse cx="63.9" cy="41.5" rx="0.88" ry="0.87" fill="#5050f0" fill-opacity="0.12"/>
<ellipse cx="69.3" cy="41.0" rx="0.68" ry="0.46" fill="#5050f0" fill-opacity="0.22"/>
<ellipse cx="89.7" cy="35.3" rx="0.86" ry="0.65" fill="#5050f0" fill-opacity="0.06"/>
<ellipse cx="52.2" cy="47.6" rx="0.84" ry="0.58" fill="#5050f0" fill-opacity="0.09"/>
<ellipse cx="50.8" cy="46.7" rx="0.70" ry="0.60" fill="#5050f0" fill-opacity="0.21"/>
<ellipse cx="69.5" cy="47.3" rx="0.58" ry="0.36" fill="#5050f0" fill-opacity="0.06"/>
<ellipse cx="60.9" cy="40.7" rx="0.68" ry="0.58" fill="#5050f0" fill-opacity="0.13"/>
<ellipse cx="63.3" cy="44.7" rx="0.75" ry="0.57" fill="#5050f0" fill-opacity="0.23"/>
<ellipse cx="72.7" cy="43.1" rx="0.95" ry="0.66" fill="#5050f0" fill-opacity="0.12"/>
<ellipse cx="89.3" cy="37.2" rx="0.50" ry="0.40" fill="#5050f0" fill-opacity="0.23"/>
<ellipse cx="91.4" cy="45.7" rx="0.83" ry="0.58" fill="#5050f0" fill-opacity="0.09"/>
<ellipse cx="74.5" cy="47.6" rx="0.57" ry="0.36" fill="#5050f0" fill-opacity="0.24"/>
<ellipse cx="78.9" cy="44.8" rx="0.70" ry="0.68" fill="#5050f0" fill-opacity="0.17"/>
<ellipse cx="71.6" cy="44.3" rx="0.70" ry="0.49" fill="#5050f0" fill-opacity="0.06"/>
<ellipse cx="74.1" cy="40.5" rx="0.45" ry="0.36" fill="#5050f0" fill-opacity="0.15"/>
<ellipse cx="70.2" cy="40.4" rx="0.57" ry="0.44" fill="#5050f0" fill-opacity="0.24"/>
<ellipse cx="53.6" cy="38.0" rx="0.90" ry="0.82" fill="#5050f0" fill-opacity="0.10"/>
<ellipse cx="60.7" cy="36.5" rx="0.66" ry="0.54" fill="#5050f0" fill-opacity="0.16"/>
<ellipse cx="89.7" cy="42.7" rx="0.57" ry="0.54" fill="#5050f0" fill-opacity="0.15"/>
<ellipse cx="71.1" cy="44.9" rx="0.53" ry="0.49" fill="#5050f0" fill-opacity="0.10"/>
<ellipse cx="83.7" cy="35.3" rx="0.81" ry="0.75" fill="#5050f0" fill-opacity="0.23"/>
<ellipse cx="79.9" cy="37.9" rx="0.51" ry="0.47" fill="#5050f0" fill-opacity="0.21"/>
<ellipse cx="62.7" cy="46.3" rx="0.41" ry="0.33" fill="#5050f0" fill-opacity="0.23"/>
<ellipse cx="64.4" cy="38.1" rx="0.95" ry="0.92" fill="#5050f0" fill-opacity="0.18"/>
<ellipse cx="77.1" cy="49.0" rx="0.47" ry="0.46" fill="#5050f0" fill-opacity="0.19"/>
<ellipse cx="86.6" cy="45.3" rx="0.82" ry="0.74" fill="#5050f0" fill-opacity="0.10"/>
<ellipse cx="91.4" cy="40.7" rx="0.84" ry="0.52" fill="#5050f0" fill-opacity="0.08"/>
<ellipse cx="86.4" cy="38.5" rx="0.92" ry="0.76" fill="#5050f0" fill-opacity="0.21"/>
<ellipse cx="89.6" cy="40.4" rx="0.63" ry="0.47" fill="#5050f0" fill-opacity="0.15"/>
<ellipse cx="51.0" cy="47.6" rx="0.54" ry="0.46" fill="#5050f0" fill-opacity="0.21"/>
<ellipse cx="82.6" cy="39.6" rx="0.59" ry="0.42" fill="#5050f0" fill-opacity="0.16"/>
<ellipse cx="57.9" cy="40.3" rx="0.97" ry="0.71" fill="#5050f0" fill-opacity="0.19"/>
<ellipse cx="88.9" cy="36.3" rx="0.97" ry="0.82" fill="#5050f0" fill-opacity="0.12"/>
<ellipse cx="90.4" cy="38.4" rx="0.57" ry="0.46" fill="#5050f0" fill-opacity="0.12"/>
<ellipse cx="70.5" cy="49.5" rx="0.72" ry="0.57" fill="#5050f0" fill-opacity="0.22"/>
<ellipse cx="81.3" cy="46.3" rx="0.75" ry="0.52" fill="#5050f0" fill-opacity="0.10"/>
<ellipse cx="63.8" cy="49.0" rx="0.61" ry="0.50" fill="#5050f0" fill-opacity="0.07"/>
<ellipse cx="89.9" cy="40.4" rx="0.64" ry="0.45" fill="#5050f0" fill-opacity="0.14"/>
<ellipse cx="69.9" cy="35.6" rx="0.66" ry="0.58" fill="#5050f0" fill-opacity="0.08"/>
<ellipse cx="82.0" cy="41.7" rx="0.96" ry="0.93" fill="#5050f0" fill-opacity="0.18"/>
<ellipse cx="60.5" cy="41.9" rx="0.72" ry="0.48" fill="#5050f0" fill-opacity="0.25"/>
<ellipse cx="82.2" cy="49.1" rx="0.73" ry="0.52" fill="#5050f0" fill-opacity="0.09"/>
<ellipse cx="80.2" cy="39.1" rx="0.86" ry="0.74" fill="#5050f0" fill-opacity="0.12"/>
<ellipse cx="79.7" cy="43.2" rx="0.46" ry="0.37" fill="#5050f0" fill-opacity="0.14"/>
<ellipse cx="90.1" cy="36.7" rx="0.44" ry="0.31" fill="#5050f0" fill-opacity="0.07"/>
<ellipse cx="79.2" cy="43.4" rx="0.66" ry="0.54" fill="#5050f0" fill-opacity="0.08"/>
<ellipse cx="81.3" cy="44.0" rx="0.81" ry="0.68" fill="#5050f0" fill-opacity="0.18"/>
<ellipse cx="51.9" cy="39.3" rx="0.43" ry="0.34" fill="#5050f0" fill-opacity="0.08"/>
<ellipse cx="50.7" cy="48.9" rx="0.68" ry="0.44" fill="#5050f0" fill-opacity="0.13"/>
<ellipse cx="90.1" cy="37.2" rx="0.75" ry="0.55" fill="#5050f0" fill-opacity="0.15"/>
<ellipse cx="91.3" cy="48.2" rx="0.53" ry="0.50" fill="#5050f0" fill-opacity="0.12"/>
<ellipse cx="71.4" cy="43.8" rx="0.93" ry="0.66" fill="#5050f0" fill-opacity="0.14"/>
<ellipse cx="83.2" cy="39.4" rx="0.62" ry="0.48" fill="#5050f0" fill-opacity="0.15"/>
<ellipse cx="69.0" cy="45.3" rx="0.65" ry="0.47" fill="#5050f0" fill-opacity="0.18"/>
<ellipse cx="82.5" cy="43.2" rx="0.93" ry="0.73" fill="#5050f0" fill-opacity="0.15"/>
<ellipse cx="65.8" cy="36.5" rx="0.87" ry="0.66" fill="#5050f0" fill-opacity="0.25"/>
<ellipse cx="78.2" cy="38.9" rx="0.83" ry="0.82" fill="#5050f0" fill-opacity="0.12"/>
<ellipse cx="77.5" cy="40.0" rx="0.79" ry="0.55" fill="#5050f0" fill-opacity="0.14"/>
<ellipse cx="82.4" cy="41.9" rx="0.61" ry="0.54" fill="#5050f0" fill-opacity="0.25"/>
<ellipse cx="50.7" cy="43.8" rx="0.56" ry="0.47" fill="#5050f0" fill-opacity="0.21"/>
<ellipse cx="59.3" cy="44.0" rx="0.52" ry="0.50" fill="#5050f0" fill-opacity="0.25"/>
<ellipse cx="52.5" cy="41.3" rx="0.90" ry="0.68" fill="#5050f0" fill-opacity="0.22"/>
<ellipse cx="74.8" cy="39.3" rx="0.85" ry="0.71" fill="#5050f0" fill-opacity="0.20"/>
<ellipse cx="60.6" cy="39.4" rx="0.73" ry="0.72" fill="#5050f0" fill-opacity="0.17"/>
<ellipse cx="55.7" cy="38.3" rx="0.84" ry="0.82" fill="#5050f0" fill-opacity="0.12"/>
<ellipse cx="61.5" cy="41.5" rx="0.70" ry="0.46" fill="#5050f0" fill-opacity="0.16"/>
<ellipse cx="76.3" cy="36.6" rx="0.57" ry="0.53" fill="#5050f0" fill-opacity="0.19"/>
<ellipse cx="67.6" cy="47.8" rx="0.68" ry="0.55" fill="#5050f0" fill-opacity="0.18"/>
<ellipse cx="91.6" cy="41.5" rx="0.61" ry="0.55" fill="#5050f0" fill-opacity="0.24"/>
<ellipse cx="53.2" cy="45.5" rx="0.81" ry="0.76" fill="#5050f0" fill-opacity="0.19"/>
<ellipse cx="66.0" cy="45.9" rx="0.72" ry="0.44" fill="#5050f0" fill-opacity="0.13"/>
<ellipse cx="65.7" cy="40.1" rx="0.59" ry="0.56" fill="#5050f0" fill-opacity="0.09"/>
<ellipse cx="89.2" cy="46.3" rx="0.47" ry="0.30" fill="#5050f0" fill-opacity="0.09"/>
<ellipse cx="83.4" cy="38.9" rx="0.69" ry="0.61" fill="#5050f0" fill-opacity="0.11"/>
<ellipse cx="51.2" cy="37.7" rx="0.53" ry="0.46" fill="#5050f0" fill-opacity="0.22"/>
<ellipse cx="79.4" cy="44.9" rx="0.53" ry="0.42" fill="#5050f0" fill-opacity="0.23"/>
<ellipse cx="63.2" cy="43.4" rx="0.74" ry="0.63" fill="#5050f0" fill-opacity="0.21"/>
<ellipse cx="91.5" cy="46.6" rx="0.77" ry="0.51" fill="#5050f0" fill-opacity="0.10"/>
<ellipse cx="90.5" cy="44.9" rx="0.66" ry="0.61" fill="#5050f0" fill-opacity="0.14"/>
<ellipse cx="88.4" cy="39.8" rx="0.61" ry="0.54" fill="#5050f0" fill-opacity="0.09"/>
<ellipse cx="59.1" cy="36.8" rx="0.54" ry="0.40" fill="#5050f0" fill-opacity="0.23"/>
<ellipse cx="59.6" cy="39.2" rx="0.82" ry="0.51" fill="#5050f0" fill-opacity="0.07"/>
<ellipse cx="85.3" cy="41.9" rx="0.46" ry="0.28" fill="#5050f0" fill-opacity="0.17"/>
<ellipse cx="64.8" cy="35.2" rx="0.92" ry="0.57" fill="#5050f0" fill-opacity="0.17"/>
<ellipse cx="54.3" cy="49.7" rx="0.51" ry="0.36" fill="#5050f0" fill-opacity="0.19"/>
<ellipse cx="78.0" cy="39.6" rx="0.68" ry="0.49" fill="#5050f0" fill-opacity="0.12"/>
<ellipse cx="73.6" cy="44.7" rx="0.55" ry="0.39" fill="#5050f0" fill-opacity="0.13"/>
<ellipse cx="61.0" cy="49.8" rx="0.76" ry="0.53" fill="#5050f0" fill-opacity="0.12"/>
<ellipse cx="54.7" cy="37.3" rx="0.71" ry="0.51" fill="#5050f0" fill-opacity="0.15"/>
<ellipse cx="87.3" cy="38.7" rx="0.80" ry="0.70" fill="#5050f0" fill-opacity="0.18"/>
<ellipse cx="71.0" cy="43.8" rx="0.70" ry="0.55" fill="#5050f0" fill-opacity="0.13"/>
<ellipse cx="72.2" cy="42.0" rx="0.94" ry="0.65" fill="#5050f0" fill-opacity="0.21"/>
<ellipse cx="50.9" cy="45.5" rx="0.88" ry="0.74" fill="#5050f0" fill-opacity="0.07"/>
<ellipse cx="62.0" cy="47.1" rx="0.90" ry="0.79" fill="#5050f0" fill-opacity="0.23"/>
<ellipse cx="79.1" cy="38.8" rx="0.64" ry="0.52" fill="#5050f0" fill-opacity="0.15"/>
<ellipse cx="87.0" cy="35.1" rx="0.90" ry="0.57" fill="#5050f0" fill-opacity="0.23"/>
<ellipse cx="60.4" cy="35.4" rx="0.71" ry="0.51" fill="#5050f0" fill-opacity="0.16"/>
<ellipse cx="86.2" cy="42.2" rx="0.45" ry="0.44" fill="#5050f0" fill-opacity="0.25"/>
<ellipse cx="50.6" cy="47.8" rx="0.78" ry="0.50" fill="#5050f0" fill-opacity="0.13"/>
<ellipse cx="73.6" cy="35.9" rx="0.86" ry="0.72" fill="#5050f0" fill-opacity="0.14"/>
<ellipse cx="74.5" cy="47.4" rx="0.94" ry="0.82" fill="#5050f0" fill-opacity="0.15"/>
<ellipse cx="59.1" cy="43.3" rx="0.60" ry="0.50" fill="#5050f0" fill-opacity="0.16"/>
<ellipse cx="76.5" cy="49.7" rx="0.79" ry="0.54" fill="#5050f0" fill-opacity="0.10"/>
<ellipse cx="53.1" cy="38.6" rx="0.97" ry="0.80" fill="#5050f0" fill-opacity="0.12"/>
<ellipse cx="54.3" cy="40.4" rx="0.89" ry="0.79" fill="#5050f0" fill-opacity="0.11"/>
<ellipse cx="81.9" cy="49.1" rx="0.88" ry="0.58" fill="#5050f0" fill-opacity="0.07"/>
<ellipse cx="58.5" cy="49.6" rx="0.68" ry="0.67" fill="#5050f0" fill-opacity="0.09"/>
<ellipse cx="63.5" cy="46.1" rx="0.51" ry="0.44" fill="#5050f0" fill-opacity="0.22"/>
<ellipse cx="103.3" cy="49.8" rx="0.79" ry="0.60" fill="#4444ee" fill-opacity="0.11"/>
<ellipse cx="104.8" cy="53.2" rx="0.53" ry="0.42" fill="#4444ee" fill-opacity="0.28"/>
<ellipse cx="105.8" cy="53.3" rx="1.04" ry="0.91" fill="#4444ee" fill-opacity="0.17"/>
<ellipse cx="99.5" cy="53.6" rx="0.60" ry="0.57" fill="#4444ee" fill-opacity="0.16"/>
<ellipse cx="103.9" cy="49.6" rx="0.84" ry="0.63" fill="#4444ee" fill-opacity="0.27"/>
<ellipse cx="104.0" cy="52.0" rx="0.74" ry="0.56" fill="#4444ee" fill-opacity="0.11"/>
<ellipse cx="102.7" cy="54.3" rx="1.09" ry="0.81" fill="#4444ee" fill-opacity="0.11"/>
<ellipse cx="101.3" cy="53.8" rx="1.04" ry="0.70" fill="#4444ee" fill-opacity="0.25"/>
<ellipse cx="102.5" cy="52.0" rx="0.80" ry="0.55" fill="#4444ee" fill-opacity="0.29"/>
<ellipse cx="100.3" cy="50.9" rx="1.01" ry="0.62" fill="#4444ee" fill-opacity="0.12"/>
<ellipse cx="100.3" cy="52.2" rx="0.83" ry="0.75" fill="#4444ee" fill-opacity="0.31"/>
<ellipse cx="104.3" cy="50.9" rx="0.98" ry="0.64" fill="#4444ee" fill-opacity="0.11"/>
<ellipse cx="100.1" cy="54.3" rx="1.01" ry="0.76" fill="#4444ee" fill-opacity="0.11"/>
<ellipse cx="99.6" cy="54.3" rx="0.82" ry="0.79" fill="#4444ee" fill-opacity="0.31"/>
<ellipse cx="99.3" cy="53.9" rx="0.53" ry="0.34" fill="#4444ee" fill-opacity="0.17"/>
<ellipse cx="100.4" cy="51.3" rx="0.52" ry="0.42" fill="#4444ee" fill-opacity="0.14"/>
<ellipse cx="101.6" cy="53.8" rx="0.76" ry="0.57" fill="#4444ee" fill-opacity="0.24"/>
<ellipse cx="102.3" cy="54.3" rx="0.54" ry="0.39" fill="#4444ee" fill-opacity="0.25"/>
<ellipse cx="99.1" cy="50.1" rx="0.67" ry="0.55" fill="#4444ee" fill-opacity="0.25"/>
<ellipse cx="105.6" cy="53.8" rx="0.90" ry="0.67" fill="#4444ee" fill-opacity="0.20"/>
<ellipse cx="103.9" cy="50.0" rx="0.60" ry="0.43" fill="#4444ee" fill-opacity="0.11"/>
<ellipse cx="104.3" cy="50.6" rx="1.05" ry="0.71" fill="#4444ee" fill-opacity="0.27"/>
<ellipse cx="108.1" cy="48.2" rx="0.48" ry="0.47" fill="#4444ee" fill-opacity="0.32"/>
<ellipse cx="110.9" cy="48.2" rx="0.82" ry="0.81" fill="#4444ee" fill-opacity="0.21"/>
<ellipse cx="112.2" cy="49.6" rx="1.10" ry="1.03" fill="#4444ee" fill-opacity="0.35"/>
<ellipse cx="110.2" cy="47.7" rx="0.68" ry="0.56" fill="#4444ee" fill-opacity="0.16"/>
<ellipse cx="106.1" cy="48.6" rx="0.84" ry="0.60" fill="#4444ee" fill-opacity="0.14"/>
<ellipse cx="107.6" cy="49.5" rx="0.71" ry="0.67" fill="#4444ee" fill-opacity="0.17"/>
<ellipse cx="112.9" cy="51.2" rx="0.89" ry="0.60" fill="#4444ee" fill-opacity="0.22"/>
<ellipse cx="111.8" cy="51.5" rx="0.64" ry="0.38" fill="#4444ee" fill-opacity="0.26"/>
<ellipse cx="105.0" cy="52.5" rx="0.59" ry="0.59" fill="#4444ee" fill-opacity="0.21"/>
<ellipse cx="110.1" cy="52.2" rx="0.56" ry="0.45" fill="#4444ee" fill-opacity="0.31"/>
<ellipse cx="110.8" cy="48.2" rx="0.69" ry="0.51" fill="#4444ee" fill-opacity="0.36"/>
<ellipse cx="108.2" cy="50.9" rx="0.72" ry="0.63" fill="#4444ee" fill-opacity="0.31"/>
<ellipse cx="106.2" cy="48.6" rx="0.54" ry="0.46" fill="#4444ee" fill-opacity="0.37"/>
<ellipse cx="106.3" cy="52.3" rx="0.53" ry="0.47" fill="#4444ee" fill-opacity="0.23"/>
<ellipse cx="109.6" cy="49.1" rx="0.44" ry="0.28" fill="#4444ee" fill-opacity="0.37"/>
<ellipse cx="105.3" cy="50.2" rx="0.88" ry="0.72" fill="#4444ee" fill-opacity="0.33"/>
<ellipse cx="111.8" cy="50.6" rx="0.85" ry="0.52" fill="#4444ee" fill-opacity="0.15"/>
<ellipse cx="106.8" cy="52.4" rx="0.44" ry="0.36" fill="#4444ee" fill-opacity="0.16"/>
<ellipse cx="106.0" cy="49.5" rx="0.64" ry="0.42" fill="#4444ee" fill-opacity="0.33"/>
<ellipse cx="110.4" cy="48.9" rx="0.79" ry="0.66" fill="#4444ee" fill-opacity="0.35"/>
<ellipse cx="111.9" cy="49.1" rx="0.60" ry="0.55" fill="#4444ee" fill-opacity="0.37"/>
<ellipse cx="110.1" cy="50.2" rx="0.73" ry="0.52" fill="#4444ee" fill-opacity="0.12"/>
<ellipse cx="109.8" cy="50.0" rx="0.44" ry="0.29" fill="#4444ee" fill-opacity="0.25"/>
<ellipse cx="109.9" cy="49.1" rx="0.95" ry="0.68" fill="#4444ee" fill-opacity="0.38"/>
<ellipse cx="108.6" cy="50.0" rx="0.68" ry="0.65" fill="#4444ee" fill-opacity="0.33"/>
<ellipse cx="115.9" cy="48.1" rx="0.65" ry="0.65" fill="#4040ee" fill-opacity="0.27"/>
<ellipse cx="112.4" cy="48.1" rx="0.87" ry="0.58" fill="#4040ee" fill-opacity="0.16"/>
<ellipse cx="113.2" cy="48.0" rx="0.93" ry="0.73" fill="#4040ee" fill-opacity="0.31"/>
<ellipse cx="114.4" cy="48.3" rx="0.55" ry="0.33" fill="#4040ee" fill-opacity="0.39"/>
<ellipse cx="119.1" cy="47.6" rx="0.50" ry="0.47" fill="#4040ee" fill-opacity="0.18"/>
<ellipse cx="118.0" cy="50.1" rx="0.55" ry="0.43" fill="#4040ee" fill-opacity="0.33"/>
<ellipse cx="116.8" cy="50.2" rx="0.63" ry="0.42" fill="#4040ee" fill-opacity="0.40"/>
<ellipse cx="118.2" cy="49.8" rx="0.86" ry="0.67" fill="#4040ee" fill-opacity="0.15"/>
<ellipse cx="119.2" cy="45.8" rx="0.43" ry="0.36" fill="#4040ee" fill-opacity="0.20"/>
<ellipse cx="115.8" cy="48.7" rx="0.55" ry="0.47" fill="#4040ee" fill-opacity="0.40"/>
<ellipse cx="112.6" cy="45.0" rx="0.83" ry="0.61" fill="#4040ee" fill-opacity="0.41"/>
<ellipse cx="117.8" cy="45.1" rx="0.43" ry="0.34" fill="#4040ee" fill-opacity="0.36"/>
<ellipse cx="113.1" cy="47.2" rx="1.01" ry="0.70" fill="#4040ee" fill-opacity="0.41"/>
<ellipse cx="116.4" cy="48.6" rx="0.92" ry="0.83" fill="#4040ee" fill-opacity="0.19"/>
<ellipse cx="114.7" cy="48.0" rx="0.91" ry="0.71" fill="#4040ee" fill-opacity="0.34"/>
<ellipse cx="112.9" cy="49.9" rx="0.98" ry="0.78" fill="#4040ee" fill-opacity="0.19"/>
<ellipse cx="117.2" cy="48.3" rx="0.52" ry="0.52" fill="#4040ee" fill-opacity="0.24"/>
<ellipse cx="116.8" cy="49.7" rx="0.82" ry="0.69" fill="#4040ee" fill-opacity="0.34"/>
<ellipse cx="118.2" cy="46.8" rx="1.08" ry="0.82" fill="#4040ee" fill-opacity="0.39"/>
<ellipse cx="117.2" cy="48.3" rx="0.66" ry="0.56" fill="#4040ee" fill-opacity="0.25"/>
<ellipse cx="114.8" cy="48.4" rx="0.96" ry="0.84" fill="#4040ee" fill-opacity="0.38"/>
<ellipse cx="118.7" cy="48.2" rx="0.58" ry="0.42" fill="#4040ee" fill-opacity="0.32"/>
<ellipse cx="112.8" cy="45.7" rx="0.61" ry="0.46" fill="#4040ee" fill-opacity="0.40"/>
<ellipse cx="112.9" cy="49.6" rx="1.02" ry="0.65" fill="#4040ee" fill-opacity="0.32"/>
<ellipse cx="114.0" cy="45.9" rx="1.01" ry="0.75" fill="#4040ee" fill-opacity="0.20"/>
<ellipse cx="115.8" cy="49.3" rx="0.70" ry="0.50" fill="#4040ee" fill-opacity="0.22"/>
<ellipse cx="117.8" cy="50.3" rx="0.96" ry="0.70" fill="#4040ee" fill-opacity="0.32"/>
<ellipse cx="113.5" cy="49.8" rx="0.95" ry="0.80" fill="#4040ee" fill-opacity="0.16"/>
<ellipse cx="119.1" cy="44.3" rx="0.62" ry="0.38" fill="#4040ee" fill-opacity="0.33"/>
<ellipse cx="122.8" cy="44.9" rx="0.65" ry="0.63" fill="#4040ee" fill-opacity="0.44"/>
<ellipse cx="126.8" cy="43.6" rx="0.97" ry="0.61" fill="#4040ee" fill-opacity="0.19"/>
<ellipse cx="124.0" cy="46.4" rx="0.69" ry="0.46" fill="#4040ee" fill-opacity="0.18"/>
<ellipse cx="127.9" cy="43.5" rx="1.07" ry="0.97" fill="#4040ee" fill-opacity="0.42"/>
<ellipse cx="124.8" cy="44.2" rx="0.87" ry="0.58" fill="#4040ee" fill-opacity="0.38"/>
<ellipse cx="123.8" cy="44.5" rx="0.90" ry="0.79" fill="#4040ee" fill-opacity="0.30"/>
<ellipse cx="124.1" cy="42.3" rx="0.46" ry="0.31" fill="#4040ee" fill-opacity="0.40"/>
<ellipse cx="119.4" cy="46.0" rx="0.62" ry="0.48" fill="#4040ee" fill-opacity="0.44"/>
<ellipse cx="123.2" cy="43.6" rx="0.95" ry="0.69" fill="#4040ee" fill-opacity="0.23"/>
<ellipse cx="126.6" cy="42.2" rx="0.78" ry="0.50" fill="#4040ee" fill-opacity="0.15"/>
<ellipse cx="127.0" cy="46.6" rx="0.94" ry="0.78" fill="#4040ee" fill-opacity="0.23"/>
<ellipse cx="125.0" cy="44.5" rx="0.54" ry="0.43" fill="#4040ee" fill-opacity="0.31"/>
<ellipse cx="121.3" cy="42.9" rx="0.50" ry="0.34" fill="#4040ee" fill-opacity="0.18"/>
<ellipse cx="123.8" cy="43.5" rx="1.09" ry="1.02" fill="#4040ee" fill-opacity="0.15"/>
<ellipse cx="122.4" cy="46.0" rx="1.08" ry="0.73" fill="#4040ee" fill-opacity="0.40"/>
<ellipse cx="125.8" cy="42.1" rx="0.55" ry="0.35" fill="#4040ee" fill-opacity="0.43"/>
<ellipse cx="120.5" cy="45.6" rx="1.04" ry="0.82" fill="#4040ee" fill-opacity="0.42"/>
<ellipse cx="120.1" cy="44.9" rx="0.85" ry="0.76" fill="#4040ee" fill-opacity="0.22"/>
<ellipse cx="126.0" cy="44.4" rx="0.73" ry="0.54" fill="#4040ee" fill-opacity="0.29"/>
<ellipse cx="123.1" cy="42.9" rx="0.63" ry="0.52" fill="#4040ee" fill-opacity="0.36"/>
<ellipse cx="120.3" cy="46.7" rx="0.65" ry="0.40" fill="#4040ee" fill-opacity="0.27"/>
<ellipse cx="119.7" cy="44.4" rx="0.99" ry="0.60" fill="#4040ee" fill-opacity="0.43"/>
<ellipse cx="121.9" cy="44.8" rx="0.50" ry="0.41" fill="#4040ee" fill-opacity="0.24"/>
<ellipse cx="126.6" cy="44.7" rx="0.47" ry="0.29" fill="#4040ee" fill-opacity="0.20"/>
<ellipse cx="125.9" cy="45.6" rx="0.95" ry="0.60" fill="#4040ee" fill-opacity="0.37"/>
<ellipse cx="120.7" cy="45.1" rx="0.92" ry="0.66" fill="#4040ee" fill-opacity="0.38"/>
<ellipse cx="123.1" cy="44.9" rx="0.96" ry="0.67" fill="#4040ee" fill-opacity="0.29"/>
<ellipse cx="126.3" cy="41.5" rx="1.07" ry="1.04" fill="#4040ee" fill-opacity="0.33"/>
<ellipse cx="120.5" cy="41.1" rx="0.96" ry="0.62" fill="#4040ee" fill-opacity="0.21"/>
<ellipse cx="83.1" cy="45.5" rx="0.81" ry="0.55" fill="#5050f0" fill-opacity="0.23"/>
<ellipse cx="93.3" cy="42.1" rx="0.43" ry="0.31" fill="#5050f0" fill-opacity="0.17"/>
<ellipse cx="83.0" cy="45.6" rx="0.76" ry="0.70" fill="#5050f0" fill-opacity="0.25"/>
<ellipse cx="79.2" cy="47.0" rx="0.60" ry="0.42" fill="#5050f0" fill-opacity="0.21"/>
<ellipse cx="79.1" cy="48.6" rx="0.73" ry="0.55" fill="#5050f0" fill-opacity="0.15"/>
<ellipse cx="87.6" cy="46.7" rx="0.80" ry="0.59" fill="#5050f0" fill-opacity="0.08"/>
<ellipse cx="86.4" cy="46.0" rx="0.43" ry="0.31" fill="#5050f0" fill-opacity="0.13"/>
<ellipse cx="83.1" cy="48.1" rx="0.69" ry="0.42" fill="#5050f0" fill-opacity="0.09"/>
<ellipse cx="92.9" cy="46.1" rx="0.72" ry="0.44" fill="#5050f0" fill-opacity="0.16"/>
<ellipse cx="79.7" cy="42.7" rx="0.70" ry="0.51" fill="#5050f0" fill-opacity="0.18"/>
<ellipse cx="90.8" cy="45.0" rx="0.90" ry="0.86" fill="#5050f0" fill-opacity="0.22"/>
<ellipse cx="90.3" cy="43.6" rx="0.72" ry="0.60" fill="#5050f0" fill-opacity="0.16"/>
<ellipse cx="86.9" cy="42.4" rx="0.43" ry="0.39" fill="#5050f0" fill-opacity="0.23"/>
<ellipse cx="88.5" cy="44.2" rx="0.43" ry="0.34" fill="#5050f0" fill-opacity="0.24"/>
<ellipse cx="84.4" cy="41.4" rx="0.74" ry="0.49" fill="#5050f0" fill-opacity="0.11"/>
<ellipse cx="90.8" cy="45.1" rx="0.58" ry="0.56" fill="#5050f0" fill-opacity="0.21"/>
<ellipse cx="78.1" cy="47.2" rx="0.93" ry="0.84" fill="#5050f0" fill-opacity="0.21"/>
<ellipse cx="82.7" cy="48.4" rx="0.84" ry="0.52" fill="#5050f0" fill-opacity="0.21"/>
<ellipse cx="93.9" cy="44.8" rx="0.69" ry="0.51" fill="#5050f0" fill-opacity="0.09"/>
<ellipse cx="79.8" cy="41.9" rx="0.47" ry="0.37" fill="#5050f0" fill-opacity="0.25"/>
<ellipse cx="82.6" cy="43.6" rx="0.60" ry="0.46" fill="#5050f0" fill-opacity="0.10"/>
<ellipse cx="86.0" cy="45.5" rx="0.96" ry="0.94" fill="#5050f0" fill-opacity="0.19"/>
<ellipse cx="93.4" cy="42.4" rx="0.55" ry="0.43" fill="#5050f0" fill-opacity="0.12"/>
<ellipse cx="88.9" cy="44.1" rx="1.00" ry="0.72" fill="#5050f0" fill-opacity="0.14"/>
<ellipse cx="78.3" cy="48.3" rx="0.84" ry="0.79" fill="#5050f0" fill-opacity="0.12"/>
<ellipse cx="78.7" cy="47.1" rx="0.87" ry="0.84" fill="#5050f0" fill-opacity="0.12"/>
<ellipse cx="82.5" cy="48.2" rx="0.98" ry="0.87" fill="#5050f0" fill-opacity="0.25"/>
<ellipse cx="86.0" cy="43.0" rx="0.71" ry="0.50" fill="#5050f0" fill-opacity="0.22"/>
<ellipse cx="86.9" cy="43.7" rx="0.78" ry="0.52" fill="#5050f0" fill-opacity="0.14"/>
<ellipse cx="94.5" cy="47.3" rx="0.98" ry="0.96" fill="#5050f0" fill-opacity="0.12"/>
<ellipse cx="98.9" cy="49.0" rx="0.81" ry="0.67" fill="#5a5af2" fill-opacity="0.16"/>
<ellipse cx="86.1" cy="49.6" rx="0.82" ry="0.51" fill="#5a5af2" fill-opacity="0.16"/>
<ellipse cx="85.9" cy="49.6" rx="0.85" ry="0.84" fill="#5a5af2" fill-opacity="0.11"/>
<ellipse cx="91.7" cy="49.9" rx="0.75" ry="0.56" fill="#5a5af2" fill-opacity="0.14"/>
<ellipse cx="94.6" cy="53.6" rx="0.76" ry="0.70" fill="#5a5af2" fill-opacity="0.17"/>
<ellipse cx="91.9" cy="52.8" rx="0.74" ry="0.61" fill="#5a5af2" fill-opacity="0.11"/>
<ellipse cx="86.6" cy="54.0" rx="0.52" ry="0.36" fill="#5a5af2" fill-opacity="0.10"/>
<ellipse cx="88.3" cy="51.5" rx="0.86" ry="0.75" fill="#5a5af2" fill-opacity="0.14"/>
<ellipse cx="85.3" cy="48.8" rx="0.77" ry="0.65" fill="#5a5af2" fill-opacity="0.13"/>
<ellipse cx="90.3" cy="52.0" rx="0.73" ry="0.46" fill="#5a5af2" fill-opacity="0.06"/>
<ellipse cx="95.2" cy="48.5" rx="0.70" ry="0.65" fill="#5a5af2" fill-opacity="0.14"/>
<ellipse cx="99.4" cy="49.1" rx="0.63" ry="0.38" fill="#5a5af2" fill-opacity="0.18"/>
<ellipse cx="23.9" cy="62.3" rx="0.71" ry="0.53" fill="#5a5af2" fill-opacity="0.18"/>
<ellipse cx="11.1" cy="60.5" rx="0.89" ry="0.75" fill="#5a5af2" fill-opacity="0.15"/>
<ellipse cx="28.9" cy="61.0" rx="0.63" ry="0.61" fill="#5a5af2" fill-opacity="0.20"/>
<ellipse cx="19.3" cy="67.9" rx="0.58" ry="0.57" fill="#5a5af2" fill-opacity="0.11"/>
<ellipse cx="19.3" cy="65.5" rx="0.45" ry="0.32" fill="#5a5af2" fill-opacity="0.16"/>
<ellipse cx="19.3" cy="66.9" rx="0.61" ry="0.56" fill="#5a5af2" fill-opacity="0.14"/>
<ellipse cx="18.1" cy="59.2" rx="0.67" ry="0.46" fill="#5a5af2" fill-opacity="0.09"/>
<ellipse cx="11.3" cy="65.3" rx="0.55" ry="0.43" fill="#5a5af2" fill-opacity="0.19"/>
<ellipse cx="22.0" cy="65.6" rx="0.43" ry="0.32" fill="#5a5af2" fill-opacity="0.13"/>
<ellipse cx="17.0" cy="60.7" rx="0.75" ry="0.63" fill="#5a5af2" fill-opacity="0.17"/>
<ellipse cx="29.2" cy="61.3" rx="0.47" ry="0.42" fill="#5a5af2" fill-opacity="0.07"/>
<ellipse cx="28.6" cy="59.1" rx="0.48" ry="0.40" fill="#5a5af2" fill-opacity="0.17"/>
<ellipse cx="24.1" cy="62.6" rx="0.88" ry="0.71" fill="#5a5af2" fill-opacity="0.08"/>
<ellipse cx="16.6" cy="59.2" rx="0.43" ry="0.38" fill="#5a5af2" fill-opacity="0.11"/>
<ellipse cx="16.5" cy="66.0" rx="0.70" ry="0.51" fill="#5a5af2" fill-opacity="0.10"/>
<ellipse cx="255.3" cy="42.2" rx="1.11" ry="1.08" fill="#4848f0" fill-opacity="0.38"/>
<ellipse cx="244.6" cy="44.0" rx="0.87" ry="0.55" fill="#4848f0" fill-opacity="0.13"/>
<ellipse cx="240.6" cy="41.2" rx="0.97" ry="0.79" fill="#4848f0" fill-opacity="0.14"/>
<ellipse cx="238.0" cy="44.8" rx="1.11" ry="1.03" fill="#4848f0" fill-opacity="0.12"/>
<ellipse cx="250.9" cy="52.7" rx="0.96" ry="0.59" fill="#4848f0" fill-opacity="0.11"/>
<ellipse cx="251.7" cy="41.7" rx="0.49" ry="0.44" fill="#4848f0" fill-opacity="0.29"/>
<ellipse cx="256.2" cy="55.4" rx="0.86" ry="0.66" fill="#4848f0" fill-opacity="0.32"/>
<ellipse cx="251.7" cy="56.7" rx="1.11" ry="0.82" fill="#4848f0" fill-opacity="0.18"/>
<ellipse cx="258.1" cy="54.6" rx="0.40" ry="0.40" fill="#4848f0" fill-opacity="0.15"/>
<ellipse cx="257.5" cy="40.4" rx="0.45" ry="0.30" fill="#4848f0" fill-opacity="0.26"/>
<ellipse cx="239.3" cy="48.9" rx="1.16" ry="0.84" fill="#4848f0" fill-opacity="0.27"/>
<ellipse cx="244.1" cy="57.9" rx="0.42" ry="0.34" fill="#4848f0" fill-opacity="0.14"/>
<ellipse cx="248.9" cy="54.5" rx="0.65" ry="0.61" fill="#4848f0" fill-opacity="0.37"/>
<ellipse cx="251.8" cy="60.6" rx="0.89" ry="0.84" fill="#4848f0" fill-opacity="0.11"/>
<ellipse cx="239.3" cy="46.9" rx="0.95" ry="0.89" fill="#4848f0" fill-opacity="0.17"/>
<ellipse cx="256.9" cy="57.4" rx="1.17" ry="1.13" fill="#4848f0" fill-opacity="0.14"/>
<ellipse cx="262.0" cy="50.6" rx="0.70" ry="0.67" fill="#4848f0" fill-opacity="0.11"/>
<ellipse cx="239.7" cy="56.2" rx="1.10" ry="0.82" fill="#4848f0" fill-opacity="0.11"/>
<ellipse cx="240.1" cy="54.8" rx="0.75" ry="0.63" fill="#4848f0" fill-opacity="0.16"/>
<ellipse cx="255.1" cy="60.8" rx="0.44" ry="0.35" fill="#4848f0" fill-opacity="0.25"/>
<ellipse cx="259.0" cy="57.0" rx="0.60" ry="0.45" fill="#4848f0" fill-opacity="0.33"/>
<ellipse cx="258.6" cy="62.9" rx="0.83" ry="0.73" fill="#4848f0" fill-opacity="0.26"/>
<ellipse cx="262.6" cy="47.0" rx="0.56" ry="0.44" fill="#4848f0" fill-opacity="0.16"/>
<ellipse cx="245.3" cy="50.3" rx="0.96" ry="0.73" fill="#4848f0" fill-opacity="0.13"/>
<ellipse cx="239.3" cy="60.2" rx="1.08" ry="1.03" fill="#4848f0" fill-opacity="0.36"/>
<ellipse cx="248.1" cy="40.4" rx="0.98" ry="0.96" fill="#4848f0" fill-opacity="0.15"/>
<ellipse cx="243.4" cy="62.9" rx="0.47" ry="0.43" fill="#4848f0" fill-opacity="0.14"/>
<ellipse cx="253.8" cy="52.0" rx="0.91" ry="0.60" fill="#4848f0" fill-opacity="0.13"/>
<ellipse cx="241.5" cy="49.3" rx="1.04" ry="0.97" fill="#4848f0" fill-opacity="0.28"/>
<ellipse cx="241.6" cy="56.0" rx="0.79" ry="0.48" fill="#4848f0" fill-opacity="0.14"/>
<ellipse cx="260.6" cy="47.3" rx="0.79" ry="0.76" fill="#4848f0" fill-opacity="0.33"/>
<ellipse cx="259.7" cy="43.9" rx="0.57" ry="0.42" fill="#4848f0" fill-opacity="0.33"/>
<ellipse cx="239.5" cy="45.4" rx="1.19" ry="0.85" fill="#4848f0" fill-opacity="0.23"/>
<ellipse cx="249.2" cy="43.1" rx="1.01" ry="0.96" fill="#4848f0" fill-opacity="0.37"/>
<ellipse cx="262.0" cy="56.8" rx="0.45" ry="0.39" fill="#4848f0" fill-opacity="0.27"/>
<ellipse cx="262.8" cy="51.4" rx="0.86" ry="0.54" fill="#4848f0" fill-opacity="0.14"/>
<ellipse cx="250.0" cy="61.2" rx="1.05" ry="0.94" fill="#4848f0" fill-opacity="0.22"/>
<ellipse cx="260.2" cy="52.5" rx="0.44" ry="0.41" fill="#4848f0" fill-opacity="0.22"/>
<ellipse cx="252.8" cy="53.6" rx="0.77" ry="0.48" fill="#4848f0" fill-opacity="0.14"/>
<ellipse cx="241.1" cy="61.2" rx="0.51" ry="0.47" fill="#4848f0" fill-opacity="0.22"/>
<ellipse cx="253.9" cy="43.1" rx="0.53" ry="0.37" fill="#4848f0" fill-opacity="0.25"/>
<ellipse cx="259.8" cy="49.5" rx="0.91" ry="0.56" fill="#4848f0" fill-opacity="0.28"/>
<ellipse cx="243.2" cy="53.1" rx="1.15" ry="0.97" fill="#4848f0" fill-opacity="0.34"/>
<ellipse cx="244.7" cy="61.9" rx="0.73" ry="0.71" fill="#4848f0" fill-opacity="0.26"/>
<ellipse cx="243.4" cy="58.3" rx="0.42" ry="0.39" fill="#4848f0" fill-opacity="0.10"/>
<ellipse cx="260.7" cy="59.5" rx="0.86" ry="0.60" fill="#4848f0" fill-opacity="0.10"/>
<ellipse cx="254.0" cy="42.0" rx="0.62" ry="0.53" fill="#4848f0" fill-opacity="0.31"/>
<ellipse cx="245.5" cy="45.5" rx="1.10" ry="0.95" fill="#4848f0" fill-opacity="0.17"/>
<ellipse cx="261.2" cy="55.0" rx="0.87" ry="0.61" fill="#4848f0" fill-opacity="0.37"/>
<ellipse cx="254.8" cy="55.9" rx="0.43" ry="0.36" fill="#4848f0" fill-opacity="0.13"/>
<ellipse cx="244.3" cy="60.7" rx="0.51" ry="0.46" fill="#4848f0" fill-opacity="0.32"/>
<ellipse cx="245.1" cy="54.6" rx="1.06" ry="0.99" fill="#4848f0" fill-opacity="0.36"/>
<ellipse cx="263.5" cy="49.1" rx="0.90" ry="0.75" fill="#4848f0" fill-opacity="0.36"/>
<ellipse cx="246.4" cy="54.3" rx="0.60" ry="0.51" fill="#4848f0" fill-opacity="0.26"/>
<ellipse cx="260.5" cy="46.4" rx="0.42" ry="0.32" fill="#4848f0" fill-opacity="0.16"/>
<ellipse cx="249.3" cy="43.5" rx="0.81" ry="0.69" fill="#4848f0" fill-opacity="0.25"/>
<ellipse cx="252.4" cy="47.4" rx="0.84" ry="0.58" fill="#4848f0" fill-opacity="0.26"/>
<ellipse cx="241.2" cy="52.9" rx="1.16" ry="0.83" fill="#4848f0" fill-opacity="0.35"/>
<ellipse cx="252.9" cy="51.1" rx="0.54" ry="0.50" fill="#4848f0" fill-opacity="0.23"/>
<ellipse cx="240.2" cy="57.8" rx="0.56" ry="0.38" fill="#4848f0" fill-opacity="0.18"/>
<ellipse cx="240.1" cy="51.0" rx="0.91" ry="0.77" fill="#4848f0" fill-opacity="0.15"/>
<ellipse cx="254.2" cy="52.0" rx="0.64" ry="0.50" fill="#4848f0" fill-opacity="0.27"/>
<ellipse cx="255.9" cy="58.0" rx="0.87" ry="0.86" fill="#4848f0" fill-opacity="0.31"/>
<ellipse cx="254.0" cy="50.4" rx="0.63" ry="0.47" fill="#4848f0" fill-opacity="0.32"/>
<ellipse cx="249.2" cy="46.1" rx="0.55" ry="0.54" fill="#4848f0" fill-opacity="0.30"/>
<ellipse cx="263.5" cy="51.6" rx="0.90" ry="0.68" fill="#4848f0" fill-opacity="0.38"/>
<ellipse cx="240.3" cy="62.6" rx="0.97" ry="0.83" fill="#4848f0" fill-opacity="0.27"/>
<ellipse cx="258.4" cy="53.0" rx="0.88" ry="0.75" fill="#4848f0" fill-opacity="0.31"/>
<ellipse cx="252.3" cy="47.7" rx="0.47" ry="0.41" fill="#4848f0" fill-opacity="0.26"/>
<ellipse cx="256.3" cy="53.2" rx="0.78" ry="0.52" fill="#4848f0" fill-opacity="0.37"/>
<ellipse cx="251.3" cy="54.8" rx="1.11" ry="0.75" fill="#4848f0" fill-opacity="0.15"/>
<ellipse cx="256.5" cy="59.1" rx="1.20" ry="0.76" fill="#4848f0" fill-opacity="0.24"/>
<ellipse cx="260.3" cy="62.9" rx="1.13" ry="0.88" fill="#4848f0" fill-opacity="0.37"/>
<ellipse cx="254.6" cy="52.4" rx="0.68" ry="0.53" fill="#4848f0" fill-opacity="0.15"/>
<ellipse cx="260.6" cy="60.4" rx="0.78" ry="0.64" fill="#4848f0" fill-opacity="0.25"/>
<ellipse cx="258.6" cy="49.2" rx="1.16" ry="0.98" fill="#4848f0" fill-opacity="0.19"/>
<ellipse cx="245.1" cy="50.4" rx="0.44" ry="0.38" fill="#4848f0" fill-opacity="0.34"/>
<ellipse cx="250.7" cy="56.4" rx="0.59" ry="0.45" fill="#4848f0" fill-opacity="0.14"/>
<ellipse cx="249.0" cy="49.2" rx="0.90" ry="0.71" fill="#4848f0" fill-opacity="0.18"/>
<ellipse cx="258.7" cy="44.5" rx="1.18" ry="0.97" fill="#4848f0" fill-opacity="0.17"/>
<ellipse cx="246.7" cy="57.1" rx="0.75" ry="0.65" fill="#4848f0" fill-opacity="0.30"/>
<ellipse cx="244.7" cy="43.2" rx="1.10" ry="0.85" fill="#4848f0" fill-opacity="0.17"/>
<ellipse cx="248.4" cy="49.7" rx="0.84" ry="0.69" fill="#4848f0" fill-opacity="0.25"/>
<ellipse cx="262.7" cy="45.9" rx="1.19" ry="0.72" fill="#4848f0" fill-opacity="0.13"/>
<ellipse cx="239.4" cy="44.2" rx="0.42" ry="0.28" fill="#4848f0" fill-opacity="0.18"/>
<ellipse cx="250.9" cy="43.6" rx="0.53" ry="0.32" fill="#4848f0" fill-opacity="0.11"/>
<ellipse cx="239.4" cy="55.8" rx="1.17" ry="1.01" fill="#4848f0" fill-opacity="0.24"/>
<ellipse cx="260.2" cy="49.4" rx="0.94" ry="0.65" fill="#4848f0" fill-opacity="0.35"/>
<ellipse cx="247.7" cy="52.0" rx="1.14" ry="0.90" fill="#4848f0" fill-opacity="0.13"/>
<ellipse cx="243.2" cy="51.7" rx="0.62" ry="0.52" fill="#4848f0" fill-opacity="0.33"/>
<ellipse cx="240.4" cy="57.4" rx="0.80" ry="0.70" fill="#4848f0" fill-opacity="0.15"/>
<ellipse cx="243.9" cy="47.2" rx="1.00" ry="1.00" fill="#4848f0" fill-opacity="0.26"/>
<ellipse cx="246.7" cy="40.1" rx="0.81" ry="0.54" fill="#4848f0" fill-opacity="0.23"/>
<ellipse cx="240.2" cy="48.2" rx="0.43" ry="0.27" fill="#4848f0" fill-opacity="0.13"/>
<ellipse cx="252.1" cy="58.5" rx="1.01" ry="0.79" fill="#4848f0" fill-opacity="0.17"/>
<ellipse cx="241.8" cy="47.4" rx="0.90" ry="0.70" fill="#4848f0" fill-opacity="0.38"/>
<ellipse cx="252.0" cy="46.8" rx="1.03" ry="0.72" fill="#4848f0" fill-opacity="0.33"/>
<ellipse cx="258.3" cy="60.6" rx="0.81" ry="0.54" fill="#4848f0" fill-opacity="0.14"/>
<ellipse cx="252.6" cy="56.5" rx="0.75" ry="0.69" fill="#4848f0" fill-opacity="0.36"/>
<ellipse cx="262.6" cy="52.6" rx="0.79" ry="0.60" fill="#4848f0" fill-opacity="0.32"/>
<ellipse cx="241.2" cy="47.9" rx="0.95" ry="0.69" fill="#4848f0" fill-opacity="0.36"/>
<ellipse cx="251.7" cy="54.8" rx="1.02" ry="0.61" fill="#4848f0" fill-opacity="0.21"/>
<ellipse cx="250.5" cy="51.2" rx="0.99" ry="0.69" fill="#4848f0" fill-opacity="0.14"/>
<ellipse cx="248.5" cy="57.3" rx="0.74" ry="0.65" fill="#4848f0" fill-opacity="0.27"/>
<ellipse cx="249.1" cy="45.0" rx="0.48" ry="0.39" fill="#4848f0" fill-opacity="0.25"/>
<ellipse cx="244.6" cy="56.1" rx="0.78" ry="0.70" fill="#4848f0" fill-opacity="0.37"/>
<ellipse cx="242.1" cy="48.5" rx="0.58" ry="0.38" fill="#4848f0" fill-opacity="0.13"/>
<ellipse cx="238.6" cy="42.1" rx="0.69" ry="0.42" fill="#4848f0" fill-opacity="0.37"/>
<ellipse cx="257.1" cy="47.8" rx="1.01" ry="0.64" fill="#4848f0" fill-opacity="0.11"/>
<ellipse cx="244.1" cy="45.1" rx="0.59" ry="0.47" fill="#4848f0" fill-opacity="0.31"/>
<ellipse cx="258.8" cy="49.1" rx="0.55" ry="0.34" fill="#4848f0" fill-opacity="0.25"/>
<ellipse cx="242.9" cy="50.9" rx="0.77" ry="0.66" fill="#4848f0" fill-opacity="0.27"/>
<ellipse cx="252.7" cy="48.2" rx="1.07" ry="0.87" fill="#4848f0" fill-opacity="0.22"/>
<ellipse cx="260.9" cy="40.3" rx="1.02" ry="0.89" fill="#4848f0" fill-opacity="0.33"/>
<ellipse cx="252.4" cy="57.3" rx="0.93" ry="0.65" fill="#4848f0" fill-opacity="0.13"/>
<ellipse cx="253.9" cy="50.4" rx="0.74" ry="0.52" fill="#4848f0" fill-opacity="0.27"/>
<ellipse cx="245.9" cy="47.0" rx="0.66" ry="0.48" fill="#4848f0" fill-opacity="0.35"/>
<ellipse cx="249.6" cy="53.1" rx="1.00" ry="0.91" fill="#4848f0" fill-opacity="0.28"/>
<ellipse cx="259.0" cy="46.3" rx="0.76" ry="0.59" fill="#4848f0" fill-opacity="0.37"/>
<ellipse cx="254.9" cy="55.8" rx="0.73" ry="0.60" fill="#4848f0" fill-opacity="0.33"/>
<ellipse cx="251.5" cy="54.6" rx="0.62" ry="0.49" fill="#4848f0" fill-opacity="0.10"/>
<ellipse cx="262.7" cy="59.8" rx="1.18" ry="1.08" fill="#4848f0" fill-opacity="0.35"/>
<ellipse cx="245.3" cy="62.6" rx="0.45" ry="0.33" fill="#4848f0" fill-opacity="0.35"/>
<ellipse cx="262.4" cy="47.5" rx="1.07" ry="0.72" fill="#4848f0" fill-opacity="0.33"/>
<ellipse cx="251.1" cy="60.8" rx="0.80" ry="0.74" fill="#4848f0" fill-opacity="0.21"/>
<ellipse cx="245.5" cy="47.7" rx="0.61" ry="0.38" fill="#4848f0" fill-opacity="0.14"/>
<ellipse cx="253.1" cy="49.5" rx="0.74" ry="0.72" fill="#4848f0" fill-opacity="0.30"/>
<ellipse cx="256.8" cy="49.9" rx="0.54" ry="0.39" fill="#4848f0" fill-opacity="0.34"/>
<ellipse cx="252.3" cy="49.2" rx="0.94" ry="0.58" fill="#4848f0" fill-opacity="0.37"/>
<ellipse cx="262.6" cy="52.3" rx="1.01" ry="0.86" fill="#4848f0" fill-opacity="0.16"/>
<ellipse cx="260.2" cy="50.3" rx="0.78" ry="0.61" fill="#4848f0" fill-opacity="0.17"/>
<ellipse cx="247.2" cy="49.6" rx="0.60" ry="0.39" fill="#4848f0" fill-opacity="0.14"/>
<ellipse cx="238.7" cy="50.9" rx="0.72" ry="0.69" fill="#4848f0" fill-opacity="0.31"/>
<ellipse cx="253.8" cy="47.9" rx="1.12" ry="0.83" fill="#4848f0" fill-opacity="0.18"/>
<ellipse cx="260.0" cy="57.4" rx="0.95" ry="0.64" fill="#4848f0" fill-opacity="0.37"/>
<ellipse cx="257.0" cy="59.4" rx="0.70" ry="0.52" fill="#4848f0" fill-opacity="0.21"/>
<ellipse cx="247.4" cy="59.3" rx="0.47" ry="0.44" fill="#4848f0" fill-opacity="0.21"/>
<ellipse cx="247.2" cy="46.6" rx="1.18" ry="1.12" fill="#4848f0" fill-opacity="0.22"/>
<ellipse cx="256.3" cy="43.7" rx="1.14" ry="0.88" fill="#4848f0" fill-opacity="0.36"/>
<ellipse cx="253.4" cy="61.4" rx="0.66" ry="0.56" fill="#4848f0" fill-opacity="0.20"/>
<ellipse cx="238.2" cy="45.7" rx="0.74" ry="0.59" fill="#4848f0" fill-opacity="0.12"/>
<ellipse cx="259.9" cy="48.5" rx="0.93" ry="0.65" fill="#4848f0" fill-opacity="0.14"/>
<ellipse cx="254.0" cy="53.5" rx="0.76" ry="0.54" fill="#4848f0" fill-opacity="0.37"/>
<ellipse cx="246.1" cy="41.0" rx="0.59" ry="0.48" fill="#4848f0" fill-opacity="0.20"/>
<ellipse cx="255.4" cy="41.4" rx="0.66" ry="0.59" fill="#4848f0" fill-opacity="0.12"/>
<ellipse cx="250.9" cy="47.1" rx="0.47" ry="0.29" fill="#4848f0" fill-opacity="0.29"/>
<ellipse cx="242.6" cy="56.0" rx="0.63" ry="0.41" fill="#4848f0" fill-opacity="0.15"/>
<ellipse cx="238.7" cy="50.9" rx="0.53" ry="0.34" fill="#4848f0" fill-opacity="0.31"/>
<ellipse cx="256.9" cy="61.2" rx="0.79" ry="0.57" fill="#4848f0" fill-opacity="0.14"/>
<ellipse cx="258.4" cy="51.4" rx="0.70" ry="0.43" fill="#4848f0" fill-opacity="0.25"/>
<ellipse cx="259.3" cy="54.0" rx="0.48" ry="0.37" fill="#4848f0" fill-opacity="0.33"/>
<ellipse cx="252.0" cy="59.4" rx="1.15" ry="1.12" fill="#4848f0" fill-opacity="0.12"/>
<ellipse cx="264.0" cy="50.5" rx="0.88" ry="0.70" fill="#4848f0" fill-opacity="0.31"/>
<ellipse cx="242.5" cy="48.2" rx="0.94" ry="0.58" fill="#4848f0" fill-opacity="0.22"/>
<ellipse cx="245.6" cy="60.4" rx="0.78" ry="0.56" fill="#4848f0" fill-opacity="0.31"/>
<ellipse cx="258.3" cy="51.0" rx="0.71" ry="0.43" fill="#4848f0" fill-opacity="0.18"/>
<ellipse cx="239.6" cy="62.2" rx="1.10" ry="0.90" fill="#4848f0" fill-opacity="0.37"/>
<ellipse cx="262.5" cy="50.6" rx="0.48" ry="0.37" fill="#4848f0" fill-opacity="0.29"/>
<ellipse cx="253.9" cy="53.6" rx="0.67" ry="0.58" fill="#4848f0" fill-opacity="0.28"/>
<ellipse cx="243.4" cy="51.7" rx="0.82" ry="0.51" fill="#4848f0" fill-opacity="0.22"/>
<ellipse cx="244.3" cy="46.5" rx="0.78" ry="0.78" fill="#4848f0" fill-opacity="0.15"/>
<ellipse cx="253.9" cy="46.1" rx="1.17" ry="0.89" fill="#4848f0" fill-opacity="0.32"/>
<ellipse cx="248.3" cy="45.6" rx="0.77" ry="0.55" fill="#4848f0" fill-opacity="0.11"/>
<ellipse cx="252.5" cy="46.1" rx="0.81" ry="0.71" fill="#4848f0" fill-opacity="0.34"/>
<ellipse cx="240.1" cy="47.8" rx="0.89" ry="0.71" fill="#4848f0" fill-opacity="0.36"/>
<ellipse cx="251.3" cy="53.5" rx="0.56" ry="0.51" fill="#4848f0" fill-opacity="0.15"/>
<ellipse cx="251.4" cy="62.1" rx="1.06" ry="0.92" fill="#4848f0" fill-opacity="0.27"/>
<ellipse cx="242.7" cy="41.1" rx="0.81" ry="0.63" fill="#4848f0" fill-opacity="0.15"/>
<ellipse cx="242.3" cy="56.9" rx="0.53" ry="0.33" fill="#4848f0" fill-opacity="0.15"/>
<ellipse cx="254.8" cy="47.7" rx="1.16" ry="0.89" fill="#4848f0" fill-opacity="0.17"/>
<ellipse cx="249.9" cy="41.7" rx="0.77" ry="0.69" fill="#4848f0" fill-opacity="0.28"/>
<ellipse cx="257.2" cy="55.9" rx="0.99" ry="0.89" fill="#4848f0" fill-opacity="0.12"/>
<ellipse cx="253.6" cy="60.3" rx="0.54" ry="0.50" fill="#4848f0" fill-opacity="0.31"/>
<ellipse cx="254.2" cy="48.4" rx="0.69" ry="0.62" fill="#4848f0" fill-opacity="0.12"/>
<ellipse cx="240.9" cy="62.1" rx="1.08" ry="0.92" fill="#4848f0" fill-opacity="0.22"/>
<ellipse cx="244.0" cy="61.1" rx="1.07" ry="0.95" fill="#4848f0" fill-opacity="0.33"/>
<ellipse cx="243.4" cy="45.7" rx="0.54" ry="0.39" fill="#4848f0" fill-opacity="0.10"/>
<ellipse cx="262.9" cy="62.2" rx="0.99" ry="0.89" fill="#4848f0" fill-opacity="0.15"/>
<ellipse cx="245.0" cy="61.2" rx="1.18" ry="1.13" fill="#4848f0" fill-opacity="0.34"/>
<ellipse cx="252.7" cy="61.0" rx="0.92" ry="0.86" fill="#4848f0" fill-opacity="0.31"/>
<ellipse cx="257.7" cy="51.4" rx="0.77" ry="0.60" fill="#4848f0" fill-opacity="0.37"/>
<ellipse cx="254.6" cy="44.9" rx="1.15" ry="0.82" fill="#4848f0" fill-opacity="0.26"/>
<ellipse cx="261.3" cy="42.8" rx="0.42" ry="0.36" fill="#4848f0" fill-opacity="0.20"/>
<ellipse cx="254.1" cy="40.9" rx="0.98" ry="0.89" fill="#4848f0" fill-opacity="0.26"/>
<ellipse cx="242.4" cy="47.7" rx="0.57" ry="0.41" fill="#4848f0" fill-opacity="0.22"/>
<ellipse cx="247.4" cy="46.1" rx="0.66" ry="0.41" fill="#4848f0" fill-opacity="0.25"/>
<ellipse cx="258.5" cy="45.7" rx="1.03" ry="0.64" fill="#4848f0" fill-opacity="0.33"/>
<ellipse cx="245.3" cy="52.4" rx="1.06" ry="0.72" fill="#4848f0" fill-opacity="0.18"/>
<ellipse cx="238.4" cy="52.6" rx="0.42" ry="0.36" fill="#4848f0" fill-opacity="0.11"/>
<ellipse cx="253.7" cy="50.5" rx="0.85" ry="0.69" fill="#4848f0" fill-opacity="0.12"/>
<ellipse cx="245.9" cy="57.9" rx="0.79" ry="0.59" fill="#4848f0" fill-opacity="0.14"/>
<ellipse cx="253.2" cy="47.5" rx="0.89" ry="0.62" fill="#4848f0" fill-opacity="0.18"/>
<ellipse cx="257.4" cy="58.3" rx="0.99" ry="0.91" fill="#4848f0" fill-opacity="0.27"/>
<ellipse cx="251.8" cy="42.0" rx="1.03" ry="0.77" fill="#4848f0" fill-opacity="0.38"/>
<ellipse cx="244.9" cy="48.6" rx="0.54" ry="0.35" fill="#4848f0" fill-opacity="0.14"/>
<ellipse cx="254.9" cy="54.1" rx="1.05" ry="0.85" fill="#4848f0" fill-opacity="0.36"/>
<ellipse cx="246.9" cy="55.6" rx="0.49" ry="0.46" fill="#4848f0" fill-opacity="0.11"/>
<ellipse cx="245.8" cy="62.8" rx="0.70" ry="0.64" fill="#4848f0" fill-opacity="0.37"/>
<ellipse cx="249.8" cy="40.7" rx="0.78" ry="0.67" fill="#4848f0" fill-opacity="0.12"/>
<ellipse cx="238.6" cy="41.9" rx="0.94" ry="0.60" fill="#4848f0" fill-opacity="0.19"/>
<ellipse cx="243.4" cy="58.7" rx="1.06" ry="1.02" fill="#4040ee" fill-opacity="0.34"/>
<ellipse cx="251.6" cy="58.6" rx="0.75" ry="0.69" fill="#4040ee" fill-opacity="0.34"/>
<ellipse cx="253.4" cy="51.5" rx="0.50" ry="0.32" fill="#4040ee" fill-opacity="0.17"/>
<ellipse cx="249.8" cy="55.7" rx="0.43" ry="0.39" fill="#4040ee" fill-opacity="0.39"/>
<ellipse cx="244.2" cy="58.5" rx="0.55" ry="0.46" fill="#4040ee" fill-opacity="0.38"/>
<ellipse cx="252.5" cy="54.0" rx="0.50" ry="0.44" fill="#4040ee" fill-opacity="0.22"/>
<ellipse cx="248.7" cy="51.0" rx="0.45" ry="0.35" fill="#4040ee" fill-opacity="0.35"/>
<ellipse cx="248.4" cy="46.0" rx="0.54" ry="0.42" fill="#4040ee" fill-opacity="0.29"/>
<ellipse cx="242.3" cy="52.3" rx="0.50" ry="0.40" fill="#4040ee" fill-opacity="0.14"/>
<ellipse cx="251.7" cy="56.8" rx="0.62" ry="0.54" fill="#4040ee" fill-opacity="0.28"/>
<ellipse cx="242.9" cy="47.4" rx="0.52" ry="0.37" fill="#4040ee" fill-opacity="0.25"/>
<ellipse cx="253.3" cy="58.6" rx="0.55" ry="0.42" fill="#4040ee" fill-opacity="0.38"/>
<ellipse cx="243.3" cy="53.2" rx="0.53" ry="0.36" fill="#4040ee" fill-opacity="0.39"/>
<ellipse cx="251.8" cy="50.4" rx="0.55" ry="0.47" fill="#4040ee" fill-opacity="0.16"/>
<ellipse cx="246.3" cy="59.6" rx="1.01" ry="0.93" fill="#4040ee" fill-opacity="0.31"/>
<ellipse cx="257.4" cy="56.8" rx="0.82" ry="0.69" fill="#4040ee" fill-opacity="0.21"/>
<ellipse cx="253.3" cy="51.7" rx="0.57" ry="0.36" fill="#4040ee" fill-opacity="0.19"/>
<ellipse cx="243.0" cy="51.3" rx="1.01" ry="1.00" fill="#4040ee" fill-opacity="0.14"/>
<ellipse cx="244.6" cy="45.5" rx="0.40" ry="0.30" fill="#4040ee" fill-opacity="0.29"/>
<ellipse cx="248.5" cy="55.4" rx="0.57" ry="0.35" fill="#4040ee" fill-opacity="0.14"/>
<ellipse cx="250.1" cy="52.8" rx="1.05" ry="1.00" fill="#4040ee" fill-opacity="0.18"/>
<ellipse cx="251.0" cy="48.0" rx="0.93" ry="0.84" fill="#4040ee" fill-opacity="0.22"/>
<ellipse cx="248.3" cy="48.9" rx="0.52" ry="0.40" fill="#4040ee" fill-opacity="0.22"/>
<ellipse cx="244.0" cy="49.2" rx="0.75" ry="0.69" fill="#4040ee" fill-opacity="0.19"/>
<ellipse cx="252.8" cy="46.4" rx="0.88" ry="0.79" fill="#4040ee" fill-opacity="0.32"/>
<ellipse cx="254.4" cy="46.2" rx="0.86" ry="0.71" fill="#4040ee" fill-opacity="0.29"/>
<ellipse cx="251.6" cy="45.9" rx="0.53" ry="0.43" fill="#4040ee" fill-opacity="0.20"/>
<ellipse cx="247.6" cy="49.3" rx="0.40" ry="0.27" fill="#4040ee" fill-opacity="0.30"/>
<ellipse cx="253.1" cy="54.1" rx="0.73" ry="0.47" fill="#4040ee" fill-opacity="0.31"/>
<ellipse cx="254.4" cy="45.4" rx="0.83" ry="0.70" fill="#4040ee" fill-opacity="0.15"/>
<ellipse cx="253.0" cy="52.4" rx="1.09" ry="1.04" fill="#4040ee" fill-opacity="0.26"/>
<ellipse cx="249.8" cy="47.8" rx="0.96" ry="0.96" fill="#4040ee" fill-opacity="0.31"/>
<ellipse cx="243.3" cy="56.8" rx="0.97" ry="0.94" fill="#4040ee" fill-opacity="0.18"/>
<ellipse cx="246.1" cy="52.7" rx="0.91" ry="0.76" fill="#4040ee" fill-opacity="0.37"/>
<ellipse cx="258.1" cy="46.1" rx="1.08" ry="0.77" fill="#4040ee" fill-opacity="0.15"/>
<ellipse cx="253.1" cy="48.7" rx="0.61" ry="0.59" fill="#4040ee" fill-opacity="0.20"/>
<ellipse cx="256.2" cy="45.4" rx="0.84" ry="0.75" fill="#4040ee" fill-opacity="0.15"/>
<ellipse cx="259.2" cy="49.1" rx="0.47" ry="0.31" fill="#4040ee" fill-opacity="0.20"/>
<ellipse cx="246.7" cy="51.4" rx="0.50" ry="0.32" fill="#4040ee" fill-opacity="0.21"/>
<ellipse cx="254.3" cy="47.8" rx="0.76" ry="0.75" fill="#4040ee" fill-opacity="0.15"/>
<ellipse cx="248.5" cy="52.0" rx="0.42" ry="0.40" fill="#4040ee" fill-opacity="0.35"/>
<ellipse cx="255.9" cy="49.0" rx="0.74" ry="0.73" fill="#4040ee" fill-opacity="0.22"/>
<ellipse cx="243.1" cy="58.8" rx="1.07" ry="0.70" fill="#4040ee" fill-opacity="0.30"/>
<ellipse cx="245.4" cy="53.1" rx="0.79" ry="0.69" fill="#4040ee" fill-opacity="0.34"/>
<ellipse cx="242.9" cy="57.0" rx="0.91" ry="0.58" fill="#4040ee" fill-opacity="0.28"/>
<ellipse cx="243.6" cy="55.3" rx="0.63" ry="0.42" fill="#4040ee" fill-opacity="0.24"/>
<ellipse cx="243.3" cy="50.3" rx="0.84" ry="0.82" fill="#4040ee" fill-opacity="0.39"/>
<ellipse cx="244.3" cy="50.8" rx="0.99" ry="0.83" fill="#4040ee" fill-opacity="0.22"/>
<ellipse cx="253.1" cy="46.3" rx="0.50" ry="0.38" fill="#4040ee" fill-opacity="0.39"/>
<ellipse cx="243.5" cy="51.6" rx="0.89" ry="0.66" fill="#4040ee" fill-opacity="0.18"/>
<ellipse cx="242.1" cy="46.7" rx="0.59" ry="0.48" fill="#4040ee" fill-opacity="0.16"/>
<ellipse cx="243.0" cy="48.4" rx="0.48" ry="0.41" fill="#4040ee" fill-opacity="0.32"/>
<ellipse cx="244.3" cy="52.0" rx="0.60" ry="0.47" fill="#4040ee" fill-opacity="0.15"/>
<ellipse cx="251.8" cy="50.2" rx="0.63" ry="0.47" fill="#4040ee" fill-opacity="0.38"/>
<ellipse cx="245.8" cy="48.9" rx="0.55" ry="0.37" fill="#4040ee" fill-opacity="0.22"/>
<ellipse cx="249.6" cy="47.5" rx="0.97" ry="0.76" fill="#4040ee" fill-opacity="0.24"/>
<ellipse cx="252.5" cy="56.2" rx="0.91" ry="0.57" fill="#4040ee" fill-opacity="0.23"/>
<ellipse cx="250.2" cy="56.2" rx="0.64" ry="0.43" fill="#4040ee" fill-opacity="0.20"/>
<ellipse cx="252.4" cy="59.4" rx="0.58" ry="0.39" fill="#4040ee" fill-opacity="0.19"/>
<ellipse cx="257.0" cy="49.7" rx="0.49" ry="0.33" fill="#4040ee" fill-opacity="0.37"/>
<ellipse cx="240.2" cy="53.9" rx="0.90" ry="0.85" fill="#2424e6" fill-opacity="0.63"/>
<ellipse cx="238.1" cy="57.8" rx="0.66" ry="0.40" fill="#2424e6" fill-opacity="0.43"/>
<ellipse cx="240.5" cy="57.0" rx="0.53" ry="0.38" fill="#2424e6" fill-opacity="0.65"/>
<ellipse cx="239.2" cy="51.2" rx="0.66" ry="0.46" fill="#2424e6" fill-opacity="0.35"/>
<ellipse cx="239.7" cy="50.0" rx="0.84" ry="0.62" fill="#2424e6" fill-opacity="0.59"/>
<ellipse cx="244.8" cy="50.3" rx="0.54" ry="0.33" fill="#2424e6" fill-opacity="0.55"/>
<ellipse cx="241.8" cy="54.1" rx="1.00" ry="0.93" fill="#2424e6" fill-opacity="0.65"/>
<ellipse cx="239.7" cy="50.1" rx="0.42" ry="0.29" fill="#2424e6" fill-opacity="0.55"/>
<ellipse cx="244.7" cy="51.6" rx="0.80" ry="0.49" fill="#2424e6" fill-opacity="0.60"/>
<ellipse cx="244.6" cy="55.6" rx="0.72" ry="0.58" fill="#2424e6" fill-opacity="0.61"/>
<ellipse cx="241.7" cy="50.7" rx="0.64" ry="0.60" fill="#2424e6" fill-opacity="0.63"/>
<ellipse cx="239.2" cy="55.2" rx="0.43" ry="0.33" fill="#2424e6" fill-opacity="0.43"/>
<ellipse cx="238.0" cy="50.3" rx="0.69" ry="0.43" fill="#2424e6" fill-opacity="0.63"/>
<ellipse cx="239.8" cy="51.8" rx="0.46" ry="0.35" fill="#2424e6" fill-opacity="0.42"/>
<ellipse cx="242.0" cy="57.0" rx="0.73" ry="0.66" fill="#2424e6" fill-opacity="0.45"/>
<ellipse cx="240.8" cy="50.1" rx="0.85" ry="0.54" fill="#2424e6" fill-opacity="0.40"/>
<ellipse cx="244.4" cy="53.6" rx="0.89" ry="0.85" fill="#2424e6" fill-opacity="0.37"/>
<ellipse cx="238.9" cy="50.9" rx="0.61" ry="0.56" fill="#2424e6" fill-opacity="0.68"/>
<ellipse cx="243.0" cy="53.5" rx="0.59" ry="0.54" fill="#2424e6" fill-opacity="0.45"/>
<ellipse cx="243.5" cy="50.4" rx="0.74" ry="0.65" fill="#2424e6" fill-opacity="0.33"/>
<ellipse cx="239.5" cy="57.8" rx="0.87" ry="0.77" fill="#2424e6" fill-opacity="0.66"/>
<ellipse cx="240.3" cy="54.5" rx="0.46" ry="0.41" fill="#2424e6" fill-opacity="0.63"/>
<ellipse cx="243.0" cy="54.3" rx="0.78" ry="0.74" fill="#2424e6" fill-opacity="0.68"/>
<ellipse cx="239.4" cy="54.7" rx="0.70" ry="0.63" fill="#2424e6" fill-opacity="0.42"/>
<ellipse cx="244.9" cy="50.7" rx="0.99" ry="0.88" fill="#2424e6" fill-opacity="0.64"/>
<ellipse cx="243.2" cy="57.3" rx="0.69" ry="0.45" fill="#2424e6" fill-opacity="0.46"/>
<ellipse cx="244.3" cy="55.0" rx="0.45" ry="0.37" fill="#2424e6" fill-opacity="0.40"/>
<ellipse cx="240.4" cy="50.4" rx="0.66" ry="0.44" fill="#2424e6" fill-opacity="0.55"/>
<ellipse cx="238.3" cy="52.5" rx="0.70" ry="0.56" fill="#2424e6" fill-opacity="0.54"/>
<ellipse cx="240.9" cy="50.7" rx="0.54" ry="0.49" fill="#2424e6" fill-opacity="0.32"/>
<ellipse cx="240.2" cy="55.3" rx="0.58" ry="0.52" fill="#2424e6" fill-opacity="0.47"/>
<ellipse cx="238.7" cy="53.6" rx="0.61" ry="0.54" fill="#2424e6" fill-opacity="0.59"/>
<ellipse cx="240.5" cy="53.0" rx="0.59" ry="0.49" fill="#2424e6" fill-opacity="0.34"/>
<ellipse cx="242.3" cy="54.3" rx="0.72" ry="0.68" fill="#2424e6" fill-opacity="0.31"/>
<ellipse cx="239.9" cy="56.3" rx="0.54" ry="0.35" fill="#2424e6" fill-opacity="0.55"/>
<ellipse cx="243.8" cy="60.8" rx="0.86" ry="0.72" fill="#2c2ce8" fill-opacity="0.56"/>
<ellipse cx="252.6" cy="58.5" rx="0.63" ry="0.62" fill="#2c2ce8" fill-opacity="0.34"/>
<ellipse cx="253.4" cy="60.6" rx="0.61" ry="0.39" fill="#2c2ce8" fill-opacity="0.47"/>
<ellipse cx="246.6" cy="64.7" rx="0.79" ry="0.68" fill="#2c2ce8" fill-opacity="0.47"/>
<ellipse cx="253.0" cy="67.0" rx="0.46" ry="0.34" fill="#2c2ce8" fill-opacity="0.32"/>
<ellipse cx="253.1" cy="62.3" rx="0.51" ry="0.38" fill="#2c2ce8" fill-opacity="0.53"/>
<ellipse cx="251.8" cy="64.1" rx="0.76" ry="0.65" fill="#2c2ce8" fill-opacity="0.51"/>
<ellipse cx="243.3" cy="63.4" rx="0.63" ry="0.44" fill="#2c2ce8" fill-opacity="0.59"/>
<ellipse cx="254.0" cy="61.1" rx="0.69" ry="0.59" fill="#2c2ce8" fill-opacity="0.49"/>
<ellipse cx="247.3" cy="64.3" rx="0.54" ry="0.47" fill="#2c2ce8" fill-opacity="0.35"/>
<ellipse cx="244.0" cy="65.8" rx="0.99" ry="0.91" fill="#2c2ce8" fill-opacity="0.43"/>
<ellipse cx="250.4" cy="59.6" rx="0.71" ry="0.43" fill="#2c2ce8" fill-opacity="0.32"/>
<ellipse cx="248.7" cy="66.7" rx="0.47" ry="0.35" fill="#2c2ce8" fill-opacity="0.29"/>
<ellipse cx="248.2" cy="64.8" rx="0.47" ry="0.46" fill="#2c2ce8" fill-opacity="0.28"/>
<ellipse cx="253.8" cy="57.9" rx="0.52" ry="0.50" fill="#2c2ce8" fill-opacity="0.30"/>
<ellipse cx="243.2" cy="65.5" rx="0.98" ry="0.95" fill="#2c2ce8" fill-opacity="0.48"/>
<ellipse cx="252.3" cy="63.8" rx="0.96" ry="0.92" fill="#2c2ce8" fill-opacity="0.51"/>
<ellipse cx="253.7" cy="59.4" rx="0.82" ry="0.63" fill="#2c2ce8" fill-opacity="0.53"/>
<ellipse cx="249.3" cy="57.7" rx="0.42" ry="0.32" fill="#2c2ce8" fill-opacity="0.45"/>
<ellipse cx="252.6" cy="59.9" rx="0.96" ry="0.87" fill="#2c2ce8" fill-opacity="0.42"/>
<ellipse cx="245.5" cy="60.0" rx="0.40" ry="0.39" fill="#2c2ce8" fill-opacity="0.55"/>
<ellipse cx="247.8" cy="58.5" rx="0.59" ry="0.43" fill="#2c2ce8" fill-opacity="0.25"/>
<ellipse cx="245.4" cy="60.4" rx="0.79" ry="0.76" fill="#2c2ce8" fill-opacity="0.53"/>
<ellipse cx="244.3" cy="64.1" rx="0.88" ry="0.78" fill="#2c2ce8" fill-opacity="0.39"/>
<ellipse cx="253.9" cy="58.3" rx="0.84" ry="0.78" fill="#2c2ce8" fill-opacity="0.44"/>
<ellipse cx="248.7" cy="60.2" rx="0.90" ry="0.60" fill="#2c2ce8" fill-opacity="0.55"/>
<ellipse cx="243.3" cy="59.9" rx="0.51" ry="0.48" fill="#2c2ce8" fill-opacity="0.54"/>
<ellipse cx="251.3" cy="65.4" rx="0.79" ry="0.67" fill="#2c2ce8" fill-opacity="0.30"/>
<ellipse cx="244.8" cy="57.9" rx="0.90" ry="0.88" fill="#2c2ce8" fill-opacity="0.33"/>
<ellipse cx="244.3" cy="60.0" rx="0.95" ry="0.74" fill="#2c2ce8" fill-opacity="0.44"/>
<ellipse cx="253.2" cy="68.7" rx="0.62" ry="0.60" fill="#3838ec" fill-opacity="0.40"/>
<ellipse cx="247.5" cy="59.6" rx="0.91" ry="0.89" fill="#3838ec" fill-opacity="0.16"/>
<ellipse cx="251.8" cy="63.7" rx="0.45" ry="0.42" fill="#3838ec" fill-opacity="0.27"/>
<ellipse cx="254.4" cy="60.8" rx="0.51" ry="0.36" fill="#3838ec" fill-opacity="0.16"/>
<ellipse cx="259.2" cy="71.7" rx="0.66" ry="0.50" fill="#3838ec" fill-opacity="0.16"/>
<ellipse cx="259.7" cy="60.0" rx="0.92" ry="0.68" fill="#3838ec" fill-opacity="0.22"/>
<ellipse cx="258.5" cy="62.8" rx="0.73" ry="0.56" fill="#3838ec" fill-opacity="0.17"/>
<ellipse cx="253.9" cy="64.2" rx="0.68" ry="0.55" fill="#3838ec" fill-opacity="0.36"/>
<ellipse cx="259.4" cy="62.5" rx="0.50" ry="0.35" fill="#3838ec" fill-opacity="0.21"/>
<ellipse cx="261.3" cy="66.6" rx="1.08" ry="0.95" fill="#3838ec" fill-opacity="0.41"/>
<ellipse cx="252.5" cy="61.6" rx="1.07" ry="0.85" fill="#3838ec" fill-opacity="0.30"/>
<ellipse cx="256.5" cy="62.4" rx="0.52" ry="0.43" fill="#3838ec" fill-opacity="0.34"/>
<ellipse cx="253.4" cy="62.5" rx="0.54" ry="0.41" fill="#3838ec" fill-opacity="0.38"/>
<ellipse cx="250.8" cy="58.5" rx="0.71" ry="0.70" fill="#3838ec" fill-opacity="0.30"/>
<ellipse cx="258.7" cy="60.0" rx="0.49" ry="0.37" fill="#3838ec" fill-opacity="0.30"/>
<ellipse cx="248.3" cy="66.4" rx="0.74" ry="0.73" fill="#3838ec" fill-opacity="0.29"/>
<ellipse cx="255.0" cy="69.7" rx="0.88" ry="0.71" fill="#3838ec" fill-opacity="0.20"/>
<ellipse cx="253.1" cy="65.1" rx="0.87" ry="0.73" fill="#3838ec" fill-opacity="0.27"/>
<ellipse cx="247.7" cy="65.1" rx="0.81" ry="0.63" fill="#3838ec" fill-opacity="0.23"/>
<ellipse cx="258.4" cy="58.5" rx="0.83" ry="0.67" fill="#3838ec" fill-opacity="0.37"/>
<ellipse cx="248.7" cy="61.8" rx="0.67" ry="0.55" fill="#3838ec" fill-opacity="0.21"/>
<ellipse cx="251.0" cy="59.9" rx="1.08" ry="0.66" fill="#3838ec" fill-opacity="0.31"/>
<ellipse cx="254.0" cy="67.5" rx="0.85" ry="0.71" fill="#3838ec" fill-opacity="0.32"/>
<ellipse cx="261.1" cy="65.8" rx="0.92" ry="0.76" fill="#3838ec" fill-opacity="0.26"/>
<ellipse cx="251.0" cy="59.1" rx="0.45" ry="0.37" fill="#3838ec" fill-opacity="0.22"/>
<ellipse cx="260.7" cy="60.0" rx="0.83" ry="0.67" fill="#3838ec" fill-opacity="0.39"/>
<ellipse cx="251.4" cy="69.7" rx="0.98" ry="0.81" fill="#3838ec" fill-opacity="0.28"/>
<ellipse cx="261.7" cy="60.8" rx="0.81" ry="0.62" fill="#3838ec" fill-opacity="0.31"/>
<ellipse cx="260.6" cy="60.3" rx="1.03" ry="0.90" fill="#3838ec" fill-opacity="0.20"/>
<ellipse cx="252.4" cy="61.6" rx="0.89" ry="0.71" fill="#3838ec" fill-opacity="0.28"/>
<ellipse cx="256.5" cy="59.1" rx="0.74" ry="0.56" fill="#3838ec" fill-opacity="0.42"/>
<ellipse cx="257.7" cy="62.7" rx="0.76" ry="0.54" fill="#3838ec" fill-opacity="0.18"/>
<ellipse cx="256.7" cy="69.7" rx="0.58" ry="0.41" fill="#3838ec" fill-opacity="0.24"/>
<ellipse cx="255.5" cy="59.9" rx="0.85" ry="0.77" fill="#3838ec" fill-opacity="0.34"/>
<ellipse cx="252.9" cy="66.0" rx="0.54" ry="0.49" fill="#3838ec" fill-opacity="0.35"/>
<ellipse cx="260.8" cy="59.7" rx="1.04" ry="0.72" fill="#3838ec" fill-opacity="0.17"/>
<ellipse cx="249.0" cy="63.4" rx="0.53" ry="0.44" fill="#3838ec" fill-opacity="0.25"/>
<ellipse cx="255.0" cy="64.5" rx="0.83" ry="0.76" fill="#3838ec" fill-opacity="0.30"/>
<ellipse cx="257.8" cy="62.1" rx="0.73" ry="0.62" fill="#3838ec" fill-opacity="0.40"/>
<ellipse cx="248.7" cy="70.9" rx="0.88" ry="0.61" fill="#3838ec" fill-opacity="0.29"/>
<ellipse cx="261.4" cy="67.9" rx="0.73" ry="0.72" fill="#3838ec" fill-opacity="0.30"/>
<ellipse cx="249.3" cy="68.5" rx="0.65" ry="0.48" fill="#3838ec" fill-opacity="0.34"/>
<ellipse cx="249.0" cy="59.2" rx="0.80" ry="0.56" fill="#3838ec" fill-opacity="0.28"/>
<ellipse cx="261.0" cy="70.5" rx="0.45" ry="0.36" fill="#3838ec" fill-opacity="0.36"/>
<ellipse cx="251.9" cy="58.7" rx="0.99" ry="0.60" fill="#3838ec" fill-opacity="0.28"/>
<ellipse cx="250.5" cy="58.2" rx="0.43" ry="0.30" fill="#3838ec" fill-opacity="0.26"/>
<ellipse cx="252.4" cy="64.6" rx="0.61" ry="0.48" fill="#3838ec" fill-opacity="0.26"/>
<ellipse cx="254.0" cy="69.4" rx="0.80" ry="0.67" fill="#3838ec" fill-opacity="0.31"/>
<ellipse cx="258.1" cy="65.7" rx="1.06" ry="0.69" fill="#3838ec" fill-opacity="0.21"/>
<ellipse cx="251.6" cy="66.2" rx="0.55" ry="0.52" fill="#3838ec" fill-opacity="0.27"/>
<ellipse cx="251.5" cy="64.3" rx="0.49" ry="0.38" fill="#3838ec" fill-opacity="0.33"/>
<ellipse cx="249.0" cy="64.4" rx="1.00" ry="0.97" fill="#3838ec" fill-opacity="0.37"/>
<ellipse cx="248.7" cy="65.6" rx="0.66" ry="0.65" fill="#3838ec" fill-opacity="0.35"/>
<ellipse cx="254.4" cy="59.8" rx="0.67" ry="0.59" fill="#3838ec" fill-opacity="0.17"/>
<ellipse cx="259.6" cy="65.1" rx="0.93" ry="0.71" fill="#3838ec" fill-opacity="0.41"/>
<ellipse cx="257.6" cy="64.8" rx="1.03" ry="0.97" fill="#3838ec" fill-opacity="0.18"/>
<ellipse cx="260.4" cy="68.7" rx="0.43" ry="0.34" fill="#3838ec" fill-opacity="0.38"/>
<ellipse cx="251.5" cy="64.9" rx="0.78" ry="0.61" fill="#3838ec" fill-opacity="0.26"/>
<ellipse cx="258.4" cy="62.8" rx="0.54" ry="0.37" fill="#3838ec" fill-opacity="0.23"/>
<ellipse cx="251.9" cy="66.1" rx="0.94" ry="0.93" fill="#3838ec" fill-opacity="0.30"/>
<ellipse cx="241.9" cy="37.6" rx="0.40" ry="0.34" fill="#5a5af2" fill-opacity="0.13"/>
<ellipse cx="239.4" cy="35.2" rx="0.59" ry="0.59" fill="#5a5af2" fill-opacity="0.14"/>
<ellipse cx="242.4" cy="39.9" rx="0.52" ry="0.47" fill="#5a5af2" fill-opacity="0.07"/>
<ellipse cx="247.1" cy="37.2" rx="0.48" ry="0.33" fill="#5a5af2" fill-opacity="0.18"/>
<ellipse cx="245.3" cy="35.7" rx="0.55" ry="0.53" fill="#5a5af2" fill-opacity="0.17"/>
<ellipse cx="246.0" cy="34.5" rx="0.51" ry="0.42" fill="#5a5af2" fill-opacity="0.14"/>
<ellipse cx="249.4" cy="39.9" rx="0.55" ry="0.39" fill="#5a5af2" fill-opacity="0.11"/>
<ellipse cx="247.5" cy="34.8" rx="0.75" ry="0.72" fill="#5a5af2" fill-opacity="0.08"/>
<ellipse cx="239.7" cy="39.8" rx="0.84" ry="0.69" fill="#5a5af2" fill-opacity="0.14"/>
<ellipse cx="244.6" cy="36.7" rx="0.86" ry="0.72" fill="#5a5af2" fill-opacity="0.14"/>
<ellipse cx="247.2" cy="36.3" rx="0.78" ry="0.63" fill="#5a5af2" fill-opacity="0.18"/>
<ellipse cx="242.3" cy="37.6" rx="0.72" ry="0.45" fill="#5a5af2" fill-opacity="0.20"/>
<ellipse cx="355.9" cy="51.9" rx="0.57" ry="0.55" fill="#4848f0" fill-opacity="0.22"/>
<ellipse cx="355.6" cy="49.9" rx="0.93" ry="0.76" fill="#4848f0" fill-opacity="0.15"/>
<ellipse cx="356.1" cy="51.8" rx="0.74" ry="0.60" fill="#4848f0" fill-opacity="0.29"/>
<ellipse cx="354.6" cy="51.7" rx="0.67" ry="0.47" fill="#4848f0" fill-opacity="0.15"/>
<ellipse cx="352.2" cy="52.2" rx="0.80" ry="0.51" fill="#4848f0" fill-opacity="0.11"/>
<ellipse cx="359.2" cy="52.4" rx="0.73" ry="0.52" fill="#4848f0" fill-opacity="0.15"/>
<ellipse cx="357.7" cy="52.5" rx="0.43" ry="0.26" fill="#4848f0" fill-opacity="0.28"/>
<ellipse cx="359.0" cy="50.6" rx="0.79" ry="0.58" fill="#4848f0" fill-opacity="0.15"/>
<ellipse cx="355.8" cy="52.6" rx="0.79" ry="0.74" fill="#4848f0" fill-opacity="0.21"/>
<ellipse cx="353.7" cy="51.2" rx="0.92" ry="0.73" fill="#4848f0" fill-opacity="0.21"/>
<ellipse cx="358.8" cy="49.4" rx="0.64" ry="0.64" fill="#4848f0" fill-opacity="0.18"/>
<ellipse cx="356.4" cy="51.3" rx="0.76" ry="0.62" fill="#4848f0" fill-opacity="0.26"/>
<ellipse cx="357.1" cy="52.7" rx="0.41" ry="0.36" fill="#4848f0" fill-opacity="0.18"/>
<ellipse cx="358.5" cy="50.3" rx="0.85" ry="0.55" fill="#4848f0" fill-opacity="0.29"/>
<ellipse cx="348.2" cy="63.0" rx="0.84" ry="0.77" fill="#5a5af2" fill-opacity="0.08"/>
<ellipse cx="346.5" cy="72.3" rx="0.73" ry="0.44" fill="#5a5af2" fill-opacity="0.16"/>
<ellipse cx="350.3" cy="72.5" rx="0.67" ry="0.40" fill="#5a5af2" fill-opacity="0.18"/>
<ellipse cx="349.0" cy="74.9" rx="0.84" ry="0.75" fill="#5a5af2" fill-opacity="0.19"/>
<ellipse cx="345.0" cy="62.8" rx="0.73" ry="0.66" fill="#5a5af2" fill-opacity="0.10"/>
<ellipse cx="350.6" cy="73.5" rx="0.77" ry="0.50" fill="#5a5af2" fill-opacity="0.09"/>
<ellipse cx="348.8" cy="62.9" rx="0.48" ry="0.41" fill="#5a5af2" fill-opacity="0.12"/>
<ellipse cx="348.5" cy="64.7" rx="0.81" ry="0.76" fill="#5a5af2" fill-opacity="0.11"/>
<ellipse cx="346.8" cy="67.9" rx="0.46" ry="0.45" fill="#5a5af2" fill-opacity="0.12"/>
<ellipse cx="348.4" cy="67.0" rx="0.88" ry="0.87" fill="#5a5af2" fill-opacity="0.07"/>
<ellipse cx="27.8" cy="119.0" rx="0.68" ry="0.54" fill="#4848f0" fill-opacity="0.23"/>
<ellipse cx="23.2" cy="118.8" rx="0.76" ry="0.69" fill="#4848f0" fill-opacity="0.27"/>
<ellipse cx="28.4" cy="116.8" rx="0.58" ry="0.50" fill="#4848f0" fill-opacity="0.21"/>
<ellipse cx="25.3" cy="113.7" rx="0.63" ry="0.40" fill="#4848f0" fill-opacity="0.16"/>
<ellipse cx="21.4" cy="118.3" rx="0.65" ry="0.49" fill="#4848f0" fill-opacity="0.10"/>
<ellipse cx="29.8" cy="119.7" rx="0.46" ry="0.43" fill="#4848f0" fill-opacity="0.30"/>
<ellipse cx="24.6" cy="118.0" rx="0.61" ry="0.37" fill="#4848f0" fill-opacity="0.22"/>
<ellipse cx="22.3" cy="114.6" rx="1.00" ry="0.70" fill="#4848f0" fill-opacity="0.24"/>
<ellipse cx="28.7" cy="117.3" rx="0.57" ry="0.43" fill="#4848f0" fill-opacity="0.20"/>
<ellipse cx="30.1" cy="118.0" rx="0.95" ry="0.74" fill="#4848f0" fill-opacity="0.18"/>
<ellipse cx="29.1" cy="115.7" rx="0.83" ry="0.72" fill="#4848f0" fill-opacity="0.17"/>
<ellipse cx="24.8" cy="112.0" rx="0.91" ry="0.81" fill="#4848f0" fill-opacity="0.12"/>
<ellipse cx="28.1" cy="116.2" rx="0.43" ry="0.37" fill="#4848f0" fill-opacity="0.25"/>
<ellipse cx="29.7" cy="116.7" rx="0.82" ry="0.65" fill="#4848f0" fill-opacity="0.25"/>
<ellipse cx="28.7" cy="116.1" rx="0.71" ry="0.64" fill="#4848f0" fill-opacity="0.12"/>
<ellipse cx="22.6" cy="116.3" rx="0.41" ry="0.39" fill="#4848f0" fill-opacity="0.27"/>
<ellipse cx="144.8" cy="124.8" rx="0.74" ry="0.53" fill="#4848f0" fill-opacity="0.24"/>
<ellipse cx="143.2" cy="124.5" rx="1.00" ry="0.88" fill="#4848f0" fill-opacity="0.28"/>
<ellipse cx="147.6" cy="122.9" rx="0.50" ry="0.33" fill="#4848f0" fill-opacity="0.28"/>
<ellipse cx="148.7" cy="126.9" rx="0.64" ry="0.62" fill="#4848f0" fill-opacity="0.20"/>
<ellipse cx="147.0" cy="125.6" rx="0.68" ry="0.56" fill="#4848f0" fill-opacity="0.11"/>
<ellipse cx="145.7" cy="123.5" rx="0.62" ry="0.57" fill="#4848f0" fill-opacity="0.11"/>
<ellipse cx="144.3" cy="125.9" rx="0.96" ry="0.91" fill="#4848f0" fill-opacity="0.14"/>
<ellipse cx="145.2" cy="125.0" rx="0.93" ry="0.90" fill="#4848f0" fill-opacity="0.17"/>
<ellipse cx="149.6" cy="121.9" rx="0.47" ry="0.46" fill="#4848f0" fill-opacity="0.24"/>
<ellipse cx="143.3" cy="122.6" rx="0.42" ry="0.36" fill="#4848f0" fill-opacity="0.17"/>
<ellipse cx="144.0" cy="121.7" rx="0.80" ry="0.62" fill="#4848f0" fill-opacity="0.14"/>
<ellipse cx="142.4" cy="125.3" rx="0.86" ry="0.79" fill="#4848f0" fill-opacity="0.16"/>
<ellipse cx="149.5" cy="126.0" rx="0.62" ry="0.45" fill="#4848f0" fill-opacity="0.14"/>
<ellipse cx="143.6" cy="122.5" rx="0.72" ry="0.47" fill="#4848f0" fill-opacity="0.10"/>
<ellipse cx="318.9" cy="98.8" rx="0.87" ry="0.78" fill="#5a5af2" fill-opacity="0.17"/>
<ellipse cx="319.6" cy="96.0" rx="0.49" ry="0.42" fill="#5a5af2" fill-opacity="0.14"/>
<ellipse cx="321.6" cy="97.1" rx="0.76" ry="0.56" fill="#5a5af2" fill-opacity="0.18"/>
<ellipse cx="322.7" cy="97.0" rx="0.67" ry="0.65" fill="#5a5af2" fill-opacity="0.22"/>
<ellipse cx="319.8" cy="96.2" rx="0.88" ry="0.64" fill="#5a5af2" fill-opacity="0.17"/>
<ellipse cx="320.1" cy="97.8" rx="0.82" ry="0.77" fill="#5a5af2" fill-opacity="0.18"/>
<ellipse cx="291.6" cy="113.9" rx="0.64" ry="0.42" fill="#4848f0" fill-opacity="0.26"/>
<ellipse cx="298.2" cy="108.2" rx="0.74" ry="0.47" fill="#4848f0" fill-opacity="0.31"/>
<ellipse cx="292.9" cy="121.4" rx="0.63" ry="0.47" fill="#4848f0" fill-opacity="0.14"/>
<ellipse cx="293.7" cy="126.6" rx="0.97" ry="0.80" fill="#4848f0" fill-opacity="0.15"/>
<ellipse cx="292.1" cy="119.0" rx="0.69" ry="0.46" fill="#4848f0" fill-opacity="0.21"/>
<ellipse cx="296.7" cy="109.3" rx="0.98" ry="0.90" fill="#4848f0" fill-opacity="0.28"/>
<ellipse cx="294.8" cy="117.6" rx="0.62" ry="0.39" fill="#4848f0" fill-opacity="0.30"/>
<ellipse cx="294.1" cy="111.7" rx="0.42" ry="0.39" fill="#4848f0" fill-opacity="0.30"/>
<ellipse cx="290.4" cy="117.6" rx="0.58" ry="0.40" fill="#4848f0" fill-opacity="0.17"/>
<ellipse cx="295.5" cy="113.8" rx="0.70" ry="0.44" fill="#4848f0" fill-opacity="0.35"/>
<ellipse cx="290.3" cy="126.3" rx="0.51" ry="0.36" fill="#4848f0" fill-opacity="0.15"/>
<ellipse cx="291.4" cy="111.0" rx="0.69" ry="0.63" fill="#4848f0" fill-opacity="0.21"/>
<ellipse cx="291.6" cy="118.0" rx="0.69" ry="0.67" fill="#4848f0" fill-opacity="0.13"/>
<ellipse cx="295.1" cy="122.0" rx="0.70" ry="0.56" fill="#4848f0" fill-opacity="0.28"/>
<ellipse cx="295.7" cy="113.8" rx="0.99" ry="0.97" fill="#4848f0" fill-opacity="0.35"/>
<ellipse cx="297.3" cy="114.3" rx="0.52" ry="0.35" fill="#4848f0" fill-opacity="0.33"/>
<ellipse cx="297.6" cy="119.3" rx="0.85" ry="0.55" fill="#4848f0" fill-opacity="0.13"/>
<ellipse cx="292.5" cy="109.6" rx="0.90" ry="0.63" fill="#4848f0" fill-opacity="0.17"/>
<ellipse cx="297.1" cy="120.4" rx="0.81" ry="0.72" fill="#4848f0" fill-opacity="0.27"/>
<ellipse cx="291.9" cy="114.6" rx="0.55" ry="0.50" fill="#4848f0" fill-opacity="0.16"/>
<ellipse cx="291.4" cy="119.7" rx="0.75" ry="0.50" fill="#4848f0" fill-opacity="0.15"/>
<ellipse cx="293.2" cy="108.4" rx="0.70" ry="0.43" fill="#4848f0" fill-opacity="0.24"/>
<ellipse cx="292.4" cy="125.9" rx="0.49" ry="0.33" fill="#4848f0" fill-opacity="0.28"/>
<ellipse cx="291.3" cy="113.2" rx="0.58" ry="0.42" fill="#4848f0" fill-opacity="0.29"/>
<ellipse cx="292.5" cy="117.0" rx="0.48" ry="0.32" fill="#4848f0" fill-opacity="0.27"/>
<ellipse cx="295.6" cy="122.4" rx="0.51" ry="0.32" fill="#4848f0" fill-opacity="0.29"/>
<ellipse cx="290.6" cy="110.9" rx="0.41" ry="0.31" fill="#4848f0" fill-opacity="0.26"/>
<ellipse cx="295.7" cy="123.6" rx="0.40" ry="0.33" fill="#4848f0" fill-opacity="0.34"/>
<ellipse cx="295.2" cy="124.2" rx="0.73" ry="0.47" fill="#4848f0" fill-opacity="0.38"/>
<ellipse cx="296.8" cy="127.4" rx="0.90" ry="0.77" fill="#4848f0" fill-opacity="0.30"/>
<ellipse cx="290.2" cy="126.7" rx="0.91" ry="0.64" fill="#4848f0" fill-opacity="0.34"/>
<ellipse cx="298.4" cy="111.7" rx="0.93" ry="0.56" fill="#4848f0" fill-opacity="0.15"/>
<ellipse cx="292.9" cy="123.8" rx="0.70" ry="0.43" fill="#4848f0" fill-opacity="0.17"/>
<ellipse cx="298.7" cy="123.8" rx="0.61" ry="0.59" fill="#4848f0" fill-opacity="0.30"/>
<ellipse cx="295.0" cy="118.1" rx="0.74" ry="0.58" fill="#4848f0" fill-opacity="0.32"/>
<ellipse cx="291.6" cy="112.0" rx="0.68" ry="0.68" fill="#4848f0" fill-opacity="0.28"/>
<ellipse cx="294.2" cy="113.2" rx="0.62" ry="0.52" fill="#4848f0" fill-opacity="0.16"/>
<ellipse cx="292.3" cy="108.1" rx="0.79" ry="0.70" fill="#4848f0" fill-opacity="0.38"/>
<ellipse cx="292.4" cy="112.6" rx="0.68" ry="0.56" fill="#4848f0" fill-opacity="0.34"/>
<ellipse cx="295.9" cy="123.0" rx="0.51" ry="0.41" fill="#4848f0" fill-opacity="0.13"/>
<ellipse cx="350.6" cy="62.3" rx="0.48" ry="0.37" fill="#5a5af2" fill-opacity="0.10"/>
<ellipse cx="345.0" cy="71.9" rx="0.74" ry="0.48" fill="#5a5af2" fill-opacity="0.14"/>
<ellipse cx="345.1" cy="68.5" rx="0.49" ry="0.42" fill="#5a5af2" fill-opacity="0.14"/>
<ellipse cx="349.8" cy="60.6" rx="0.71" ry="0.45" fill="#5a5af2" fill-opacity="0.21"/>
<ellipse cx="349.3" cy="71.7" rx="0.44" ry="0.38" fill="#5a5af2" fill-opacity="0.10"/>
<ellipse cx="350.9" cy="71.6" rx="0.90" ry="0.74" fill="#5a5af2" fill-opacity="0.10"/>
<ellipse cx="351.4" cy="72.1" rx="0.76" ry="0.61" fill="#5a5af2" fill-opacity="0.21"/>
<ellipse cx="344.3" cy="69.0" rx="0.51" ry="0.46" fill="#5a5af2" fill-opacity="0.06"/>
<ellipse cx="344.3" cy="72.7" rx="0.88" ry="0.59" fill="#5a5af2" fill-opacity="0.11"/>
<ellipse cx="348.0" cy="67.5" rx="0.68" ry="0.43" fill="#5a5af2" fill-opacity="0.07"/>
<ellipse cx="346.8" cy="70.8" rx="0.62" ry="0.45" fill="#5a5af2" fill-opacity="0.22"/>
<ellipse cx="347.0" cy="71.2" rx="0.56" ry="0.49" fill="#5a5af2" fill-opacity="0.09"/>
<ellipse cx="347.2" cy="72.3" rx="0.79" ry="0.57" fill="#5a5af2" fill-opacity="0.07"/>
<ellipse cx="346.2" cy="62.4" rx="0.68" ry="0.42" fill="#5a5af2" fill-opacity="0.22"/>
<ellipse cx="32.3" cy="60.3" rx="0.54" ry="0.51" fill="#4848f0" fill-opacity="0.10"/>
<ellipse cx="30.9" cy="64.7" rx="0.51" ry="0.34" fill="#4848f0" fill-opacity="0.30"/>
<ellipse cx="31.8" cy="58.6" rx="0.41" ry="0.25" fill="#4848f0" fill-opacity="0.24"/>
<ellipse cx="29.9" cy="61.0" rx="0.46" ry="0.40" fill="#4848f0" fill-opacity="0.29"/>
<ellipse cx="31.7" cy="65.8" rx="0.56" ry="0.42" fill="#4848f0" fill-opacity="0.28"/>
<ellipse cx="32.2" cy="61.9" rx="0.43" ry="0.36" fill="#4848f0" fill-opacity="0.23"/>
<ellipse cx="29.6" cy="59.8" rx="0.72" ry="0.62" fill="#4848f0" fill-opacity="0.25"/>
<ellipse cx="32.9" cy="59.8" rx="0.58" ry="0.35" fill="#4848f0" fill-opacity="0.24"/>
<ellipse cx="25.0" cy="44.5" rx="0.70" ry="0.70" fill="#6060f2" fill-opacity="0.05"/>
<ellipse cx="13.9" cy="43.3" rx="0.48" ry="0.36" fill="#6060f2" fill-opacity="0.05"/>
<ellipse cx="12.0" cy="42.8" rx="0.90" ry="0.89" fill="#6060f2" fill-opacity="0.14"/>
<ellipse cx="8.9" cy="39.4" rx="0.63" ry="0.50" fill="#6060f2" fill-opacity="0.07"/>
<ellipse cx="11.3" cy="38.7" rx="0.80" ry="0.73" fill="#6060f2" fill-opacity="0.07"/>
<ellipse cx="17.6" cy="44.4" rx="0.80" ry="0.79" fill="#6060f2" fill-opacity="0.06"/>
<ellipse cx="9.8" cy="39.7" rx="0.83" ry="0.55" fill="#6060f2" fill-opacity="0.13"/>
<ellipse cx="9.1" cy="44.5" rx="0.58" ry="0.51" fill="#6060f2" fill-opacity="0.12"/>
<ellipse cx="8.3" cy="39.9" rx="0.62" ry="0.52" fill="#6060f2" fill-opacity="0.08"/>
<ellipse cx="24.0" cy="43.5" rx="0.43" ry="0.29" fill="#6060f2" fill-opacity="0.13"/>
<ellipse cx="18.9" cy="44.3" rx="0.84" ry="0.58" fill="#6060f2" fill-opacity="0.13"/>
<ellipse cx="19.1" cy="39.8" rx="0.65" ry="0.48" fill="#6060f2" fill-opacity="0.15"/>
<ellipse cx="79.6" cy="80.9" rx="0.58" ry="0.44" fill="#4848f0" fill-opacity="0.28"/>
<ellipse cx="79.5" cy="79.0" rx="0.73" ry="0.73" fill="#4848f0" fill-opacity="0.14"/>
<ellipse cx="78.2" cy="79.8" rx="0.76" ry="0.57" fill="#4848f0" fill-opacity="0.23"/>
<ellipse cx="78.1" cy="81.3" rx="0.57" ry="0.52" fill="#4848f0" fill-opacity="0.23"/>
<ellipse cx="77.1" cy="79.0" rx="0.83" ry="0.78" fill="#4848f0" fill-opacity="0.13"/>
</g></g>
<g fill="none" stroke="#1a1a1a" stroke-width="1.05" stroke-linejoin="round"><use href="#land2" vector-effect="non-scaling-stroke"/><use href="#ants" vector-effect="non-scaling-stroke"/></g>
<use href="#heavy" fill="none" stroke="#1a1a1a" stroke-width="1.25" stroke-linejoin="round" vector-effect="non-scaling-stroke"/>
<use href="#xheavy" fill="none" stroke="#1a1a1a" stroke-width="2.1" stroke-linejoin="round" vector-effect="non-scaling-stroke"/>
</svg>
<rect x="65.7" y="48.3" width="45" height="37.7" fill="#fbfbfb"/>
<text x="69.8" y="77.0" font-size="31" textLength="38.3" lengthAdjust="spacingAndGlyphs" style="fill:#1a1a1a">(a)</text>
<rect x="61.8" y="42.8" width="561.9" height="280.5" fill="none" stroke="#333" stroke-width="1.9"/>
<line x1="108.6" y1="42.8" x2="108.6" y2="49.3" stroke="#333" stroke-width="1.3"/>
<line x1="108.6" y1="323.3" x2="108.6" y2="316.8" stroke="#333" stroke-width="1.3"/>
<line x1="155.4" y1="42.8" x2="155.4" y2="49.3" stroke="#333" stroke-width="1.3"/>
<line x1="155.4" y1="323.3" x2="155.4" y2="316.8" stroke="#333" stroke-width="1.3"/>
<line x1="202.3" y1="42.8" x2="202.3" y2="49.3" stroke="#333" stroke-width="1.3"/>
<line x1="202.3" y1="323.3" x2="202.3" y2="316.8" stroke="#333" stroke-width="1.3"/>
<line x1="249.1" y1="42.8" x2="249.1" y2="49.3" stroke="#333" stroke-width="1.3"/>
<line x1="249.1" y1="323.3" x2="249.1" y2="316.8" stroke="#333" stroke-width="1.3"/>
<line x1="295.9" y1="42.8" x2="295.9" y2="49.3" stroke="#333" stroke-width="1.3"/>
<line x1="295.9" y1="323.3" x2="295.9" y2="316.8" stroke="#333" stroke-width="1.3"/>
<line x1="342.8" y1="42.8" x2="342.8" y2="49.3" stroke="#333" stroke-width="1.3"/>
<line x1="342.8" y1="323.3" x2="342.8" y2="316.8" stroke="#333" stroke-width="1.3"/>
<line x1="389.6" y1="42.8" x2="389.6" y2="49.3" stroke="#333" stroke-width="1.3"/>
<line x1="389.6" y1="323.3" x2="389.6" y2="316.8" stroke="#333" stroke-width="1.3"/>
<line x1="436.4" y1="42.8" x2="436.4" y2="49.3" stroke="#333" stroke-width="1.3"/>
<line x1="436.4" y1="323.3" x2="436.4" y2="316.8" stroke="#333" stroke-width="1.3"/>
<line x1="483.2" y1="42.8" x2="483.2" y2="49.3" stroke="#333" stroke-width="1.3"/>
<line x1="483.2" y1="323.3" x2="483.2" y2="316.8" stroke="#333" stroke-width="1.3"/>
<line x1="530.0" y1="42.8" x2="530.0" y2="49.3" stroke="#333" stroke-width="1.3"/>
<line x1="530.0" y1="323.3" x2="530.0" y2="316.8" stroke="#333" stroke-width="1.3"/>
<line x1="576.9" y1="42.8" x2="576.9" y2="49.3" stroke="#333" stroke-width="1.3"/>
<line x1="576.9" y1="323.3" x2="576.9" y2="316.8" stroke="#333" stroke-width="1.3"/>
<line x1="61.8" y1="89.5" x2="68.3" y2="89.5" stroke="#333" stroke-width="1.3"/>
<line x1="623.7" y1="89.5" x2="617.2" y2="89.5" stroke="#333" stroke-width="1.3"/>
<line x1="61.8" y1="136.3" x2="68.3" y2="136.3" stroke="#333" stroke-width="1.3"/>
<line x1="623.7" y1="136.3" x2="617.2" y2="136.3" stroke="#333" stroke-width="1.3"/>
<line x1="61.8" y1="183.1" x2="68.3" y2="183.1" stroke="#333" stroke-width="1.3"/>
<line x1="623.7" y1="183.1" x2="617.2" y2="183.1" stroke="#333" stroke-width="1.3"/>
<line x1="61.8" y1="229.8" x2="68.3" y2="229.8" stroke="#333" stroke-width="1.3"/>
<line x1="623.7" y1="229.8" x2="617.2" y2="229.8" stroke="#333" stroke-width="1.3"/>
<line x1="61.8" y1="276.6" x2="68.3" y2="276.6" stroke="#333" stroke-width="1.3"/>
<line x1="623.7" y1="276.6" x2="617.2" y2="276.6" stroke="#333" stroke-width="1.3"/>
<svg x="60.80" y="434.00" width="561.90" height="281.00" viewBox="0 0 360 180" preserveAspectRatio="none" overflow="hidden">
<rect x="-5" y="-5" width="370" height="190" fill="url(#gbase)"/>
<rect x="-5" y="-5" width="370" height="190" fill="url(#gsp)"/>
<rect x="-5" y="-5" width="370" height="190" fill="url(#gsa)"/>
<rect x="-5" y="-5" width="370" height="190" fill="url(#gcp)"/>
<use href="#land2" fill="#ffc000" stroke="#ffc000" stroke-width="14" stroke-linejoin="round" opacity="0.55" filter="url(#fglow)"/>
<rect x="-5" y="-5" width="370" height="190" fill="url(#ggg1)"/>
<rect x="-5" y="-5" width="370" height="190" fill="url(#ggg2)"/>
<rect x="-5" y="-5" width="370" height="190" fill="url(#gam)"/>
<rect x="-5" y="-5" width="370" height="190" fill="url(#gca)"/>
<rect x="-5" y="-5" width="370" height="190" fill="url(#gsi)"/>
<rect x="-5" y="-5" width="370" height="190" fill="url(#gio)"/>
<rect x="-5" y="-5" width="370" height="190" fill="url(#gbb)"/>
<rect x="-5" y="-5" width="370" height="190" fill="url(#gea)"/>
<rect x="-5" y="-5" width="370" height="190" fill="url(#gsj)"/>
<rect x="-5" y="-5" width="370" height="190" fill="url(#gwi)"/>
<rect x="-5" y="-5" width="370" height="190" fill="url(#gch)"/>
<polygon points="-5.60,52.50 -5.60,54.50 -2.00,55.20 5.00,55.00 10.00,58.50 20.00,60.20 30.00,59.50 33.00,60.00 35.00,58.80 36.50,54.50 37.00,52.80 33.00,52.70 30.00,49.70 32.00,49.10 42.00,49.50 42.50,42.00 27.50,42.00 20.00,43.50 14.50,43.50 11.00,44.50 9.50,45.20 3.00,46.00 2.00,47.20 -1.50,51.00 -5.60,52.50" fill="url(#gmed)"/>
<polygon points="354.40,52.50 354.40,54.50 358.00,55.20 365.00,55.00 370.00,58.50 380.00,60.20 390.00,59.50 393.00,60.00 395.00,58.80 396.50,54.50 397.00,52.80 393.00,52.70 390.00,49.70 392.00,49.10 402.00,49.50 402.50,42.00 387.50,42.00 380.00,43.50 374.50,43.50 371.00,44.50 369.50,45.20 363.00,46.00 362.00,47.20 358.50,51.00 354.40,52.50" fill="url(#gmed)"/>
<polygon points="27.00,49.20 42.00,49.50 42.50,42.20 27.50,42.20" fill="#a8ee60"/>
<polygon points="32.00,59.50 35.50,59.50 44.00,76.00 44.20,78.00 42.00,77.80 37.00,72.00 31.50,60.00" fill="#a6ea64"/>
<polygon points="47.50,59.40 50.50,59.40 56.80,62.70 56.80,64.20 56.20,65.80 51.00,66.50 47.50,61.50" fill="#30c4c8"/>
<polygon points="4.00,39.50 9.00,39.50 13.00,36.80 30.50,36.50 30.50,23.50 20.00,23.50 15.00,31.20 10.50,30.50 4.00,31.50" fill="#ffcc00" opacity="0.8"/>
<polygon points="264.00,39.00 284.00,39.00 284.00,24.00 264.00,24.00" fill="#ffc000" opacity="0.9"/>
<use href="#land2" fill="#f4f4f4"/><use href="#antf" fill="#f4f4f4"/>
<g fill="none" stroke="#000" stroke-width="1.15" stroke-linejoin="round"><use href="#land2" vector-effect="non-scaling-stroke"/><use href="#ants" vector-effect="non-scaling-stroke"/></g>
<use href="#heavy" fill="none" stroke="#000" stroke-width="1.6" stroke-linejoin="round" vector-effect="non-scaling-stroke"/>
<use href="#xheavy" fill="none" stroke="#000" stroke-width="3" stroke-linejoin="round" vector-effect="non-scaling-stroke"/>
</svg>
<rect x="65.3" y="440" width="45" height="38" fill="#fbfbfb"/>
<text x="68.6" y="467.6" font-size="31" textLength="38.3" lengthAdjust="spacingAndGlyphs" style="fill:#1a1a1a">(b)</text>
<rect x="60.8" y="434.0" width="561.9" height="281.0" fill="none" stroke="#333" stroke-width="1.9"/>
<line x1="107.6" y1="434.0" x2="107.6" y2="440.5" stroke="#333" stroke-width="1.3"/>
<line x1="107.6" y1="715.0" x2="107.6" y2="708.5" stroke="#333" stroke-width="1.3"/>
<line x1="154.4" y1="434.0" x2="154.4" y2="440.5" stroke="#333" stroke-width="1.3"/>
<line x1="154.4" y1="715.0" x2="154.4" y2="708.5" stroke="#333" stroke-width="1.3"/>
<line x1="201.3" y1="434.0" x2="201.3" y2="440.5" stroke="#333" stroke-width="1.3"/>
<line x1="201.3" y1="715.0" x2="201.3" y2="708.5" stroke="#333" stroke-width="1.3"/>
<line x1="248.1" y1="434.0" x2="248.1" y2="440.5" stroke="#333" stroke-width="1.3"/>
<line x1="248.1" y1="715.0" x2="248.1" y2="708.5" stroke="#333" stroke-width="1.3"/>
<line x1="294.9" y1="434.0" x2="294.9" y2="440.5" stroke="#333" stroke-width="1.3"/>
<line x1="294.9" y1="715.0" x2="294.9" y2="708.5" stroke="#333" stroke-width="1.3"/>
<line x1="341.8" y1="434.0" x2="341.8" y2="440.5" stroke="#333" stroke-width="1.3"/>
<line x1="341.8" y1="715.0" x2="341.8" y2="708.5" stroke="#333" stroke-width="1.3"/>
<line x1="388.6" y1="434.0" x2="388.6" y2="440.5" stroke="#333" stroke-width="1.3"/>
<line x1="388.6" y1="715.0" x2="388.6" y2="708.5" stroke="#333" stroke-width="1.3"/>
<line x1="435.4" y1="434.0" x2="435.4" y2="440.5" stroke="#333" stroke-width="1.3"/>
<line x1="435.4" y1="715.0" x2="435.4" y2="708.5" stroke="#333" stroke-width="1.3"/>
<line x1="482.2" y1="434.0" x2="482.2" y2="440.5" stroke="#333" stroke-width="1.3"/>
<line x1="482.2" y1="715.0" x2="482.2" y2="708.5" stroke="#333" stroke-width="1.3"/>
<line x1="529.0" y1="434.0" x2="529.0" y2="440.5" stroke="#333" stroke-width="1.3"/>
<line x1="529.0" y1="715.0" x2="529.0" y2="708.5" stroke="#333" stroke-width="1.3"/>
<line x1="575.9" y1="434.0" x2="575.9" y2="440.5" stroke="#333" stroke-width="1.3"/>
<line x1="575.9" y1="715.0" x2="575.9" y2="708.5" stroke="#333" stroke-width="1.3"/>
<line x1="60.8" y1="480.8" x2="67.3" y2="480.8" stroke="#333" stroke-width="1.3"/>
<line x1="622.7" y1="480.8" x2="616.2" y2="480.8" stroke="#333" stroke-width="1.3"/>
<line x1="60.8" y1="527.7" x2="67.3" y2="527.7" stroke="#333" stroke-width="1.3"/>
<line x1="622.7" y1="527.7" x2="616.2" y2="527.7" stroke="#333" stroke-width="1.3"/>
<line x1="60.8" y1="574.5" x2="67.3" y2="574.5" stroke="#333" stroke-width="1.3"/>
<line x1="622.7" y1="574.5" x2="616.2" y2="574.5" stroke="#333" stroke-width="1.3"/>
<line x1="60.8" y1="621.3" x2="67.3" y2="621.3" stroke="#333" stroke-width="1.3"/>
<line x1="622.7" y1="621.3" x2="616.2" y2="621.3" stroke="#333" stroke-width="1.3"/>
<line x1="60.8" y1="668.2" x2="67.3" y2="668.2" stroke="#333" stroke-width="1.3"/>
<line x1="622.7" y1="668.2" x2="616.2" y2="668.2" stroke="#333" stroke-width="1.3"/>
<linearGradient id="cga" x1="0" x2="1" y1="0" y2="0"><stop offset="0" stop-color="#7e7efe"/><stop offset="0.25" stop-color="#8a8afe"/><stop offset="0.5" stop-color="#9898fe"/><stop offset="0.75" stop-color="#a8a8fc"/><stop offset="0.9" stop-color="#c0c0fc"/><stop offset="0.97" stop-color="#d4d4fc"/><stop offset="1" stop-color="#ececfd"/></linearGradient>
<polygon points="80.5,346.8 80.5,367.3 69.3,357.1" fill="#3030a0" stroke="#111" stroke-width="1.2"/>
<rect x="80.5" y="346.8" width="525.0" height="20.5" fill="url(#cga)" stroke="#222" stroke-width="1.3"/>
<line x1="133.0" y1="367.3" x2="133.0" y2="362.8" stroke="#222" stroke-width="1.2"/>
<line x1="185.5" y1="367.3" x2="185.5" y2="362.8" stroke="#222" stroke-width="1.2"/>
<line x1="238.0" y1="367.3" x2="238.0" y2="362.8" stroke="#222" stroke-width="1.2"/>
<line x1="290.5" y1="367.3" x2="290.5" y2="362.8" stroke="#222" stroke-width="1.2"/>
<line x1="343.0" y1="367.3" x2="343.0" y2="362.8" stroke="#222" stroke-width="1.2"/>
<line x1="395.5" y1="367.3" x2="395.5" y2="362.8" stroke="#222" stroke-width="1.2"/>
<line x1="448.0" y1="367.3" x2="448.0" y2="362.8" stroke="#222" stroke-width="1.2"/>
<line x1="500.5" y1="367.3" x2="500.5" y2="362.8" stroke="#222" stroke-width="1.2"/>
<line x1="553.0" y1="367.3" x2="553.0" y2="362.8" stroke="#222" stroke-width="1.2"/>
<text x="80.5" y="397.6" font-size="24" text-anchor="middle">-500</text>
<text x="185.5" y="397.6" font-size="24" text-anchor="middle">-400</text>
<text x="290.5" y="397.6" font-size="24" text-anchor="middle">-300</text>
<text x="395.5" y="397.6" font-size="24" text-anchor="middle">-200</text>
<text x="500.5" y="397.6" font-size="24" text-anchor="middle">-100</text>
<text x="605.5" y="397.6" font-size="24" text-anchor="middle">0</text>
<linearGradient id="cgb" x1="0" x2="1" y1="0" y2="0"><stop offset="0.000" stop-color="#0000ff"/><stop offset="0.020" stop-color="#000dff"/><stop offset="0.040" stop-color="#001bff"/><stop offset="0.060" stop-color="#0028ff"/><stop offset="0.080" stop-color="#0035ff"/><stop offset="0.100" stop-color="#0042ff"/><stop offset="0.120" stop-color="#0050ff"/><stop offset="0.140" stop-color="#005dff"/><stop offset="0.160" stop-color="#006aff"/><stop offset="0.180" stop-color="#0078ff"/><stop offset="0.200" stop-color="#0085ff"/><stop offset="0.220" stop-color="#0092ff"/><stop offset="0.240" stop-color="#009fff"/><stop offset="0.260" stop-color="#00adff"/><stop offset="0.280" stop-color="#00baff"/><stop offset="0.300" stop-color="#00c7ff"/><stop offset="0.320" stop-color="#00d5ff"/><stop offset="0.340" stop-color="#00e2ff"/><stop offset="0.360" stop-color="#00efff"/><stop offset="0.380" stop-color="#00fcff"/><stop offset="0.400" stop-color="#0bfff4"/><stop offset="0.420" stop-color="#18ffe7"/><stop offset="0.440" stop-color="#25ffda"/><stop offset="0.460" stop-color="#32ffcd"/><stop offset="0.480" stop-color="#40ffbf"/><stop offset="0.500" stop-color="#4dffb2"/><stop offset="0.520" stop-color="#5affa5"/><stop offset="0.540" stop-color="#68ff97"/><stop offset="0.560" stop-color="#75ff8a"/><stop offset="0.580" stop-color="#82ff7d"/><stop offset="0.600" stop-color="#8fff70"/><stop offset="0.620" stop-color="#9dff62"/><stop offset="0.640" stop-color="#aaff55"/><stop offset="0.660" stop-color="#b7ff48"/><stop offset="0.680" stop-color="#c5ff3a"/><stop offset="0.700" stop-color="#d2ff2d"/><stop offset="0.720" stop-color="#dfff20"/><stop offset="0.740" stop-color="#ecff13"/><stop offset="0.760" stop-color="#faff05"/><stop offset="0.780" stop-color="#fff700"/><stop offset="0.800" stop-color="#ffea00"/><stop offset="0.820" stop-color="#ffdc00"/><stop offset="0.840" stop-color="#ffcf00"/><stop offset="0.860" stop-color="#ffc200"/><stop offset="0.880" stop-color="#ffb500"/><stop offset="0.900" stop-color="#ffa700"/><stop offset="0.920" stop-color="#ff9a00"/><stop offset="0.940" stop-color="#ff8d00"/><stop offset="0.960" stop-color="#ff8000"/><stop offset="0.980" stop-color="#ff7200"/><stop offset="1.000" stop-color="#ff6500"/></linearGradient>
<polygon points="79.5,737.5 79.5,758.5 67.3,748.0" fill="#000" stroke="#000" stroke-width="1.2"/>
<rect x="79.5" y="737.5" width="525.0" height="21.0" fill="url(#cgb)" stroke="#111" stroke-width="1.3"/>
<line x1="100.5" y1="758.5" x2="100.5" y2="754.5" stroke="#111" stroke-width="1.2"/>
<line x1="121.5" y1="758.5" x2="121.5" y2="754.5" stroke="#111" stroke-width="1.2"/>
<line x1="142.5" y1="758.5" x2="142.5" y2="754.5" stroke="#111" stroke-width="1.2"/>
<line x1="163.5" y1="758.5" x2="163.5" y2="754.5" stroke="#111" stroke-width="1.2"/>
<line x1="184.5" y1="758.5" x2="184.5" y2="750.5" stroke="#111" stroke-width="1.2"/>
<line x1="205.5" y1="758.5" x2="205.5" y2="754.5" stroke="#111" stroke-width="1.2"/>
<line x1="226.5" y1="758.5" x2="226.5" y2="754.5" stroke="#111" stroke-width="1.2"/>
<line x1="247.5" y1="758.5" x2="247.5" y2="754.5" stroke="#111" stroke-width="1.2"/>
<line x1="268.5" y1="758.5" x2="268.5" y2="754.5" stroke="#111" stroke-width="1.2"/>
<line x1="289.5" y1="758.5" x2="289.5" y2="750.5" stroke="#111" stroke-width="1.2"/>
<line x1="310.5" y1="758.5" x2="310.5" y2="754.5" stroke="#111" stroke-width="1.2"/>
<line x1="331.5" y1="758.5" x2="331.5" y2="754.5" stroke="#111" stroke-width="1.2"/>
<line x1="352.5" y1="758.5" x2="352.5" y2="754.5" stroke="#111" stroke-width="1.2"/>
<line x1="373.5" y1="758.5" x2="373.5" y2="754.5" stroke="#111" stroke-width="1.2"/>
<line x1="394.5" y1="758.5" x2="394.5" y2="750.5" stroke="#111" stroke-width="1.2"/>
<line x1="415.5" y1="758.5" x2="415.5" y2="754.5" stroke="#111" stroke-width="1.2"/>
<line x1="436.5" y1="758.5" x2="436.5" y2="754.5" stroke="#111" stroke-width="1.2"/>
<line x1="457.5" y1="758.5" x2="457.5" y2="754.5" stroke="#111" stroke-width="1.2"/>
<line x1="478.5" y1="758.5" x2="478.5" y2="754.5" stroke="#111" stroke-width="1.2"/>
<line x1="499.5" y1="758.5" x2="499.5" y2="750.5" stroke="#111" stroke-width="1.2"/>
<line x1="520.5" y1="758.5" x2="520.5" y2="754.5" stroke="#111" stroke-width="1.2"/>
<line x1="541.5" y1="758.5" x2="541.5" y2="754.5" stroke="#111" stroke-width="1.2"/>
<line x1="562.5" y1="758.5" x2="562.5" y2="754.5" stroke="#111" stroke-width="1.2"/>
<line x1="583.5" y1="758.5" x2="583.5" y2="754.5" stroke="#111" stroke-width="1.2"/>
<text x="79.5" y="789" font-size="24" text-anchor="middle">-15</text>
<text x="184.5" y="789" font-size="24" text-anchor="middle">-10</text>
<text x="289.5" y="789" font-size="24" text-anchor="middle">-5</text>
<text x="394.5" y="789" font-size="24" text-anchor="middle">0</text>
<text x="499.5" y="789" font-size="24" text-anchor="middle">5</text>
<text x="604.5" y="789" font-size="24" text-anchor="middle">10</text>
</svg>
</body></html>
